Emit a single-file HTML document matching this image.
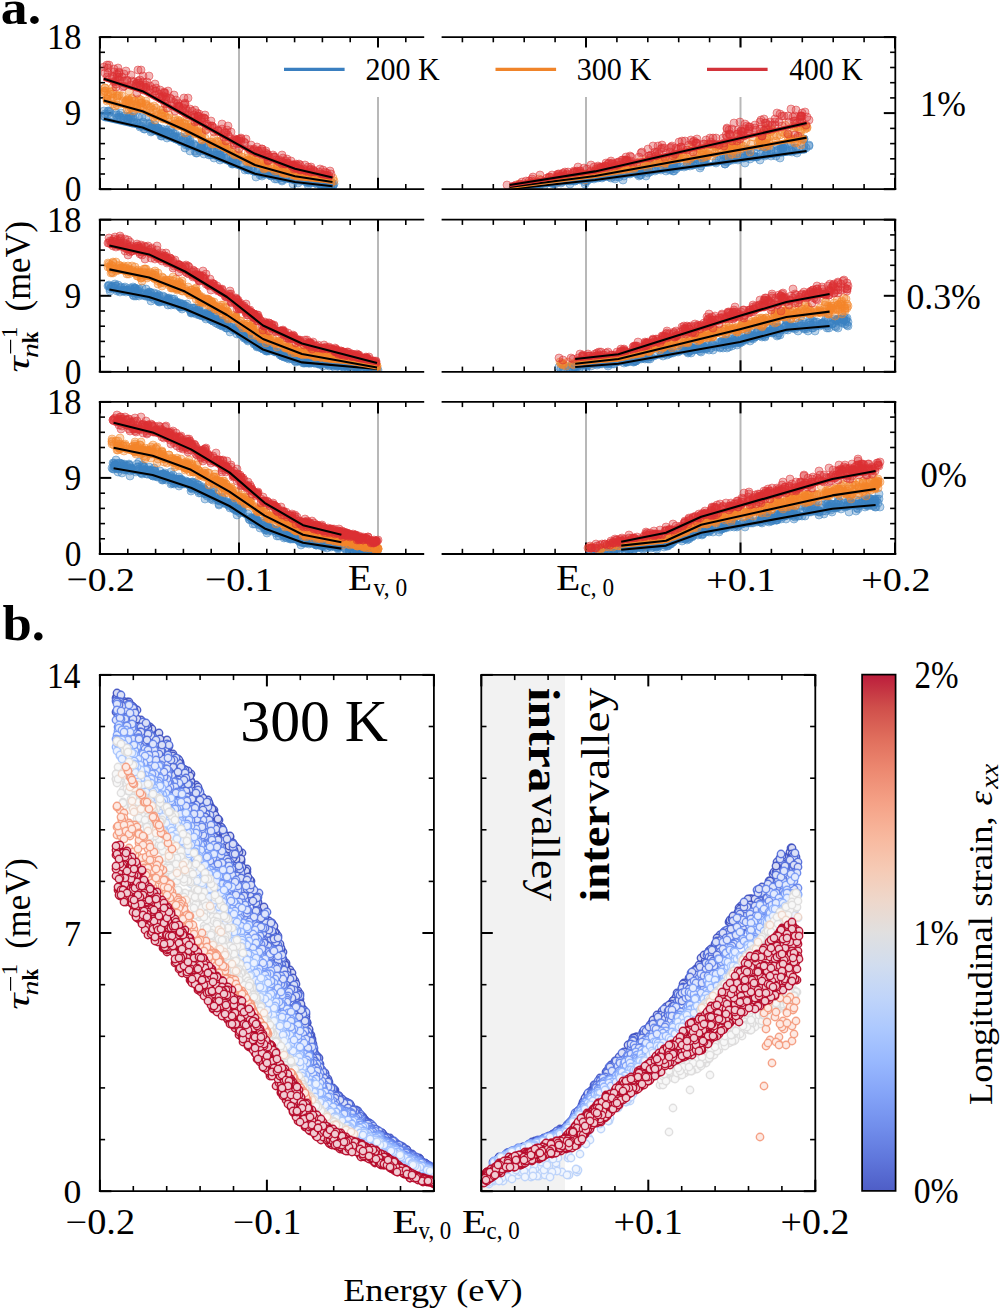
<!DOCTYPE html>
<html><head><meta charset="utf-8"><style>
html,body{margin:0;padding:0;background:#fff;width:1000px;height:1312px;overflow:hidden}
svg{display:block}
text{font-family:"Liberation Serif", serif}
</style></head><body>
<svg width="1000" height="1312" viewBox="0 0 1000 1312">
<defs><marker id="mab" markerUnits="userSpaceOnUse" markerWidth="12" markerHeight="12" refX="0" refY="0" overflow="visible"><circle r="4" fill="#3a82c2" fill-opacity=".34" stroke="#3a82c2" stroke-opacity=".5" stroke-width="1"/></marker><marker id="mao" markerUnits="userSpaceOnUse" markerWidth="12" markerHeight="12" refX="0" refY="0" overflow="visible"><circle r="4" fill="#f4852a" fill-opacity=".34" stroke="#f4852a" stroke-opacity=".5" stroke-width="1"/></marker><marker id="mar" markerUnits="userSpaceOnUse" markerWidth="12" markerHeight="12" refX="0" refY="0" overflow="visible"><circle r="4" fill="#dc2f33" fill-opacity=".34" stroke="#dc2f33" stroke-opacity=".5" stroke-width="1"/></marker><marker id="mb0" markerUnits="userSpaceOnUse" markerWidth="12" markerHeight="12" refX="0" refY="0" overflow="visible"><circle r="3.7" stroke="#3b4cc0" stroke-opacity=".9" stroke-width="1.4" fill="#d8dbf2"/></marker><marker id="mb1" markerUnits="userSpaceOnUse" markerWidth="12" markerHeight="12" refX="0" refY="0" overflow="visible"><circle r="3.7" stroke="#4e68d8" stroke-opacity=".9" stroke-width="1.4" fill="#dce1f7"/></marker><marker id="mb2" markerUnits="userSpaceOnUse" markerWidth="12" markerHeight="12" refX="0" refY="0" overflow="visible"><circle r="3.7" stroke="#6282ea" stroke-opacity=".9" stroke-width="1.4" fill="#e0e6fb"/></marker><marker id="mb3" markerUnits="userSpaceOnUse" markerWidth="12" markerHeight="12" refX="0" refY="0" overflow="visible"><circle r="3.7" stroke="#779af7" stroke-opacity=".9" stroke-width="1.4" fill="#e4ebfd"/></marker><marker id="mb4" markerUnits="userSpaceOnUse" markerWidth="12" markerHeight="12" refX="0" refY="0" overflow="visible"><circle r="3.7" stroke="#8db0fe" stroke-opacity=".9" stroke-width="1.4" fill="#e8efff"/></marker><marker id="mb5" markerUnits="userSpaceOnUse" markerWidth="12" markerHeight="12" refX="0" refY="0" overflow="visible"><circle r="3.7" stroke="#a3c2fe" stroke-opacity=".9" stroke-width="1.4" fill="#edf3ff"/></marker><marker id="mb6" markerUnits="userSpaceOnUse" markerWidth="12" markerHeight="12" refX="0" refY="0" overflow="visible"><circle r="3.7" stroke="#b9d0f9" stroke-opacity=".9" stroke-width="1.4" fill="#f1f6fe"/></marker><marker id="mb7" markerUnits="userSpaceOnUse" markerWidth="12" markerHeight="12" refX="0" refY="0" overflow="visible"><circle r="3.7" stroke="#ccd9ed" stroke-opacity=".9" stroke-width="1.4" fill="#f5f7fb"/></marker><marker id="mb8" markerUnits="userSpaceOnUse" markerWidth="12" markerHeight="12" refX="0" refY="0" overflow="visible"><circle r="3.7" stroke="#dddcdc" stroke-opacity=".9" stroke-width="1.4" fill="#f8f8f8"/></marker><marker id="mb9" markerUnits="userSpaceOnUse" markerWidth="12" markerHeight="12" refX="0" refY="0" overflow="visible"><circle r="3.7" stroke="#ecd3c5" stroke-opacity=".9" stroke-width="1.4" fill="#fbf6f3"/></marker><marker id="mb12" markerUnits="userSpaceOnUse" markerWidth="12" markerHeight="12" refX="0" refY="0" overflow="visible"><circle r="3.7" stroke="#f4987a" stroke-opacity=".9" stroke-width="1.4" fill="#fdeae4"/></marker><marker id="mb16" markerUnits="userSpaceOnUse" markerWidth="12" markerHeight="12" refX="0" refY="0" overflow="visible"><circle r="3.7" stroke="#b40426" stroke-opacity=".9" stroke-width="1.4" fill="#f0cdd4"/></marker></defs>
<defs>
<clipPath id="cL0"><rect x="99.8" y="37.1" width="324.4" height="152.1"/></clipPath>
<clipPath id="cR0"><rect x="441.6" y="37.1" width="453.69999999999993" height="152.1"/></clipPath>
<clipPath id="cL1"><rect x="99.8" y="219.7" width="324.4" height="152.10000000000002"/></clipPath>
<clipPath id="cR1"><rect x="441.6" y="219.7" width="453.69999999999993" height="152.10000000000002"/></clipPath>
<clipPath id="cL2"><rect x="99.8" y="401.9" width="324.4" height="152.10000000000002"/></clipPath>
<clipPath id="cR2"><rect x="441.6" y="401.9" width="453.69999999999993" height="152.10000000000002"/></clipPath>
</defs>
<line x1="239" y1="37.1" x2="239" y2="189.2" stroke="#b8b8b8" stroke-width="2.0"/>
<line x1="378" y1="37.1" x2="378" y2="189.2" stroke="#b8b8b8" stroke-width="2.0"/>
<line x1="586" y1="37.1" x2="586" y2="189.2" stroke="#b8b8b8" stroke-width="2.0"/>
<line x1="740.5" y1="37.1" x2="740.5" y2="189.2" stroke="#b8b8b8" stroke-width="2.0"/>
<line x1="100" y1="37.1" x2="100" y2="48.6" stroke="#000" stroke-width="2.0"/>
<line x1="100" y1="189.2" x2="100" y2="177.7" stroke="#000" stroke-width="2.0"/>
<line x1="127.8" y1="37.1" x2="127.8" y2="42.3" stroke="#000" stroke-width="1.6"/>
<line x1="127.8" y1="189.2" x2="127.8" y2="184" stroke="#000" stroke-width="1.6"/>
<line x1="155.6" y1="37.1" x2="155.6" y2="42.3" stroke="#000" stroke-width="1.6"/>
<line x1="155.6" y1="189.2" x2="155.6" y2="184" stroke="#000" stroke-width="1.6"/>
<line x1="183.4" y1="37.1" x2="183.4" y2="42.3" stroke="#000" stroke-width="1.6"/>
<line x1="183.4" y1="189.2" x2="183.4" y2="184" stroke="#000" stroke-width="1.6"/>
<line x1="211.2" y1="37.1" x2="211.2" y2="42.3" stroke="#000" stroke-width="1.6"/>
<line x1="211.2" y1="189.2" x2="211.2" y2="184" stroke="#000" stroke-width="1.6"/>
<line x1="239" y1="37.1" x2="239" y2="48.6" stroke="#000" stroke-width="2.0"/>
<line x1="239" y1="189.2" x2="239" y2="177.7" stroke="#000" stroke-width="2.0"/>
<line x1="266.8" y1="37.1" x2="266.8" y2="42.3" stroke="#000" stroke-width="1.6"/>
<line x1="266.8" y1="189.2" x2="266.8" y2="184" stroke="#000" stroke-width="1.6"/>
<line x1="294.6" y1="37.1" x2="294.6" y2="42.3" stroke="#000" stroke-width="1.6"/>
<line x1="294.6" y1="189.2" x2="294.6" y2="184" stroke="#000" stroke-width="1.6"/>
<line x1="322.4" y1="37.1" x2="322.4" y2="42.3" stroke="#000" stroke-width="1.6"/>
<line x1="322.4" y1="189.2" x2="322.4" y2="184" stroke="#000" stroke-width="1.6"/>
<line x1="350.2" y1="37.1" x2="350.2" y2="42.3" stroke="#000" stroke-width="1.6"/>
<line x1="350.2" y1="189.2" x2="350.2" y2="184" stroke="#000" stroke-width="1.6"/>
<line x1="378" y1="37.1" x2="378" y2="48.6" stroke="#000" stroke-width="2.0"/>
<line x1="378" y1="189.2" x2="378" y2="177.7" stroke="#000" stroke-width="2.0"/>
<line x1="405.8" y1="37.1" x2="405.8" y2="42.3" stroke="#000" stroke-width="1.6"/>
<line x1="405.8" y1="189.2" x2="405.8" y2="184" stroke="#000" stroke-width="1.6"/>
<line x1="99.8" y1="189.2" x2="111.3" y2="189.2" stroke="#000" stroke-width="2.0"/>
<line x1="99.8" y1="174" x2="105" y2="174" stroke="#000" stroke-width="1.6"/>
<line x1="99.8" y1="158.8" x2="105" y2="158.8" stroke="#000" stroke-width="1.6"/>
<line x1="99.8" y1="143.6" x2="105" y2="143.6" stroke="#000" stroke-width="1.6"/>
<line x1="99.8" y1="128.4" x2="105" y2="128.4" stroke="#000" stroke-width="1.6"/>
<line x1="99.8" y1="113.1" x2="111.3" y2="113.1" stroke="#000" stroke-width="2.0"/>
<line x1="99.8" y1="97.9" x2="105" y2="97.9" stroke="#000" stroke-width="1.6"/>
<line x1="99.8" y1="82.7" x2="105" y2="82.7" stroke="#000" stroke-width="1.6"/>
<line x1="99.8" y1="67.5" x2="105" y2="67.5" stroke="#000" stroke-width="1.6"/>
<line x1="99.8" y1="52.3" x2="105" y2="52.3" stroke="#000" stroke-width="1.6"/>
<line x1="99.8" y1="37.1" x2="111.3" y2="37.1" stroke="#000" stroke-width="2.0"/>
<line x1="462.4" y1="37.1" x2="462.4" y2="42.3" stroke="#000" stroke-width="1.6"/>
<line x1="462.4" y1="189.2" x2="462.4" y2="184" stroke="#000" stroke-width="1.6"/>
<line x1="493.3" y1="37.1" x2="493.3" y2="42.3" stroke="#000" stroke-width="1.6"/>
<line x1="493.3" y1="189.2" x2="493.3" y2="184" stroke="#000" stroke-width="1.6"/>
<line x1="524.2" y1="37.1" x2="524.2" y2="42.3" stroke="#000" stroke-width="1.6"/>
<line x1="524.2" y1="189.2" x2="524.2" y2="184" stroke="#000" stroke-width="1.6"/>
<line x1="555.1" y1="37.1" x2="555.1" y2="42.3" stroke="#000" stroke-width="1.6"/>
<line x1="555.1" y1="189.2" x2="555.1" y2="184" stroke="#000" stroke-width="1.6"/>
<line x1="586" y1="37.1" x2="586" y2="48.6" stroke="#000" stroke-width="2.0"/>
<line x1="586" y1="189.2" x2="586" y2="177.7" stroke="#000" stroke-width="2.0"/>
<line x1="616.9" y1="37.1" x2="616.9" y2="42.3" stroke="#000" stroke-width="1.6"/>
<line x1="616.9" y1="189.2" x2="616.9" y2="184" stroke="#000" stroke-width="1.6"/>
<line x1="647.8" y1="37.1" x2="647.8" y2="42.3" stroke="#000" stroke-width="1.6"/>
<line x1="647.8" y1="189.2" x2="647.8" y2="184" stroke="#000" stroke-width="1.6"/>
<line x1="678.7" y1="37.1" x2="678.7" y2="42.3" stroke="#000" stroke-width="1.6"/>
<line x1="678.7" y1="189.2" x2="678.7" y2="184" stroke="#000" stroke-width="1.6"/>
<line x1="709.6" y1="37.1" x2="709.6" y2="42.3" stroke="#000" stroke-width="1.6"/>
<line x1="709.6" y1="189.2" x2="709.6" y2="184" stroke="#000" stroke-width="1.6"/>
<line x1="740.5" y1="37.1" x2="740.5" y2="48.6" stroke="#000" stroke-width="2.0"/>
<line x1="740.5" y1="189.2" x2="740.5" y2="177.7" stroke="#000" stroke-width="2.0"/>
<line x1="771.4" y1="37.1" x2="771.4" y2="42.3" stroke="#000" stroke-width="1.6"/>
<line x1="771.4" y1="189.2" x2="771.4" y2="184" stroke="#000" stroke-width="1.6"/>
<line x1="802.3" y1="37.1" x2="802.3" y2="42.3" stroke="#000" stroke-width="1.6"/>
<line x1="802.3" y1="189.2" x2="802.3" y2="184" stroke="#000" stroke-width="1.6"/>
<line x1="833.2" y1="37.1" x2="833.2" y2="42.3" stroke="#000" stroke-width="1.6"/>
<line x1="833.2" y1="189.2" x2="833.2" y2="184" stroke="#000" stroke-width="1.6"/>
<line x1="864.1" y1="37.1" x2="864.1" y2="42.3" stroke="#000" stroke-width="1.6"/>
<line x1="864.1" y1="189.2" x2="864.1" y2="184" stroke="#000" stroke-width="1.6"/>
<line x1="895" y1="37.1" x2="895" y2="48.6" stroke="#000" stroke-width="2.0"/>
<line x1="895" y1="189.2" x2="895" y2="177.7" stroke="#000" stroke-width="2.0"/>
<line x1="895.3" y1="189.2" x2="883.8" y2="189.2" stroke="#000" stroke-width="2.0"/>
<line x1="895.3" y1="174" x2="890.1" y2="174" stroke="#000" stroke-width="1.6"/>
<line x1="895.3" y1="158.8" x2="890.1" y2="158.8" stroke="#000" stroke-width="1.6"/>
<line x1="895.3" y1="143.6" x2="890.1" y2="143.6" stroke="#000" stroke-width="1.6"/>
<line x1="895.3" y1="128.4" x2="890.1" y2="128.4" stroke="#000" stroke-width="1.6"/>
<line x1="895.3" y1="113.1" x2="883.8" y2="113.1" stroke="#000" stroke-width="2.0"/>
<line x1="895.3" y1="97.9" x2="890.1" y2="97.9" stroke="#000" stroke-width="1.6"/>
<line x1="895.3" y1="82.7" x2="890.1" y2="82.7" stroke="#000" stroke-width="1.6"/>
<line x1="895.3" y1="67.5" x2="890.1" y2="67.5" stroke="#000" stroke-width="1.6"/>
<line x1="895.3" y1="52.3" x2="890.1" y2="52.3" stroke="#000" stroke-width="1.6"/>
<line x1="895.3" y1="37.1" x2="883.8" y2="37.1" stroke="#000" stroke-width="2.0"/>
<g clip-path="url(#cL0)">
<polyline points="179,136 228,157 117,118 120,117 202,148 249,170 237,159 171,130 131,122 238,161 190,144 152,127 203,150 173,133 265,174 306,180 171,134 279,177 217,152 236,163 176,139 209,155 322,186 266,174 333,185 258,170 143,122 134,120 194,145 231,162 293,179 187,144 325,184 158,128 240,165 189,143 324,185 260,175 312,182 195,151 128,120 152,128 183,140 127,119 110,112 162,134 188,139 212,150 124,116 295,180 109,111 229,157 330,183 189,146 282,181 156,130 332,183 275,179 224,156 164,132 325,188 325,183 155,128 248,168 298,183 124,118 314,182 145,129 181,137 197,153 271,175 313,182 138,117 185,148 134,112 226,158 204,146 162,136 160,132 134,122 186,145 201,147 220,153 146,117 144,129 179,138 232,162 161,132 282,180 315,183 245,170 208,152 214,151 322,185 233,158 132,123 121,118 285,178 140,123 308,185 155,125 333,186 141,126 149,124 271,173 108,114 248,170 286,179 128,119 166,132 202,144 139,125 236,164 263,174 121,113 123,120 119,115 232,164 166,130 129,117 116,115 279,176 220,155 108,111 231,161 129,116 204,154 221,157 331,187 251,167 184,140 275,176 142,117 259,171 160,131 207,148 326,182 327,185 186,139 220,157 221,155 196,146 174,136 277,174 269,174 331,186 271,176 310,183 274,175 221,158 290,178 262,176 157,128 128,119 233,164 217,149 277,179 119,117 162,129 151,126 329,186 262,173 247,169 163,133 174,137 166,133 264,174 211,155 131,118 320,181 293,178 152,128 153,129 324,184 293,184 157,130 216,155 208,151 137,123 104,111 298,178 312,180 190,151 187,136 168,132 170,134 162,131 190,140 308,181 321,186 270,172 278,176 170,128 213,152 173,137 256,177 233,163 152,126 219,155 208,146 148,123 159,129 236,161 200,151 191,145 328,184 220,160 167,138 196,153 306,182 268,173 104,116 318,182 161,136 140,127 271,176 281,173 158,128 253,171 251,169 130,116 194,144 243,165 326,184 308,183 326,184 175,134 201,148 258,171 201,149 150,124 151,132 176,137 280,178 324,185 200,148 323,183 329,183 116,113 308,182 334,184 320,184 111,117 181,142 105,114 133,117 152,131 204,146 190,142 311,180 292,179 317,184 277,175 325,185 165,133 105,117 316,182 214,158 324,185 218,155" fill="none" stroke="none" marker-start="url(#mab)" marker-mid="url(#mab)" marker-end="url(#mab)"/>
<polyline points="146,105 283,174 180,124 122,96 278,166 179,122 308,175 126,101 268,168 247,158 277,167 298,177 235,155 161,110 139,101 195,134 221,144 333,178 214,138 113,104 132,98 319,174 304,177 322,179 242,157 137,106 163,119 107,99 261,163 288,171 119,95 252,159 142,107 175,124 176,124 304,177 188,125 105,88 202,133 210,142 107,101 125,102 190,130 224,146 129,109 150,108 322,177 318,179 313,180 286,174 197,129 154,117 224,147 271,167 113,87 131,105 231,151 239,155 256,159 217,141 280,170 213,144 134,105 222,140 123,101 117,105 191,127 334,181 292,172 325,175 142,103 185,133 141,103 137,106 316,178 178,120 141,100 143,108 131,108 306,177 238,153 249,160 288,173 187,117 206,129 163,110 331,183 104,93 246,161 134,101 255,162 129,101 156,116 248,160 135,101 126,102 305,176 107,99 234,154 320,177 161,114 198,133 117,98 321,179 150,113 292,175 175,121 285,171 105,91 275,171 156,108 277,168 299,176 205,138 225,147 154,106 108,95 322,178 180,121 314,179 264,168 298,179 302,178 175,119 248,154 110,92 319,178 264,164 265,166 188,128 293,173 315,178 129,91 292,173 295,175 127,103 151,107 169,115 189,131 301,171 111,100 184,123 228,147 293,170 104,92 105,88 218,142 184,127 164,113 266,166 129,103 265,166 249,161 310,175 309,176 312,177 192,127 227,149 278,171 140,108 257,163 283,172 133,111 148,106 266,165 161,116 225,145 329,179 128,99 331,181 273,169 129,100 194,127 264,165 250,161 197,132 314,180 201,132 271,165 301,178 252,163 127,100 285,172 202,139 248,162 146,104 284,173 113,94 141,103 127,110 229,149 295,177 199,131 195,131 132,99 167,118 107,99 185,124 156,112 155,120 195,130 291,172 212,142 186,127 293,173 231,152 297,177 191,124 202,135 169,118 174,124 256,163 319,178 313,178 136,104 324,181 162,113 283,170 139,99 310,179 284,173 298,178 264,169 308,177 165,116 118,96 137,109 303,171 212,144 191,130 326,177 111,94 262,163 222,146 311,174 182,123 189,131 153,110 202,140 295,176 220,145 255,160 180,124 251,158 113,98 115,106 105,91 256,158 314,179 265,167 261,164 280,167 146,101 255,162 294,174 174,124 178,126 117,96 113,91 316,176" fill="none" stroke="none" marker-start="url(#mao)" marker-mid="url(#mao)" marker-end="url(#mao)"/>
<polyline points="107,77 331,174 199,114 139,83 262,149 305,165 108,73 147,90 283,163 123,87 268,161 327,173 107,65 122,77 273,155 118,68 237,144 288,163 253,151 286,164 285,164 329,176 295,168 296,164 175,111 262,151 311,169 202,122 292,165 292,166 236,140 262,149 184,105 150,86 319,172 211,121 163,96 124,86 282,161 308,167 214,128 146,88 188,115 138,70 190,109 140,80 184,98 304,169 235,139 323,170 293,165 146,87 116,84 323,175 119,80 326,175 234,143 195,122 141,70 113,77 185,103 115,81 268,160 137,93 321,174 279,162 179,106 143,82 137,83 149,76 155,84 136,86 126,71 208,126 294,169 155,91 269,157 166,99 140,85 143,76 177,104 117,77 258,151 164,92 188,98 127,80 311,167 330,171 183,108 226,133 205,119 136,84 282,162 124,81 218,130 267,154 239,141 198,116 117,74 304,170 108,68 166,100 296,168 241,138 207,124 293,166 178,106 118,80 324,176 228,126 156,91 293,165 265,155 237,140 266,151 114,69 218,131 198,117 241,141 276,160 295,165 298,168 195,110 160,97 205,115 292,166 116,87 162,97 250,150 204,118 109,65 320,169 291,161 165,104 167,108 162,98 204,118 254,150 241,139 212,126 138,81 198,116 160,90 245,143 254,149 231,132 212,126 222,129 239,139 159,94 218,131 282,155 119,73 194,117 274,157 275,157 182,111 300,165 224,133 214,132 268,155 105,73 239,149 201,119 306,171 210,126 172,106 178,103 300,170 174,103 237,141 179,107 298,166 314,171 234,145 228,135 224,137 187,111 185,104 127,81 197,121 327,175 206,130 226,141 143,90 222,124 311,172 309,173 140,85 147,82 250,149 251,145 286,161 299,164 258,151 165,93 227,130 132,81 279,160 225,132 246,139 179,107 186,109 313,170 185,113 310,170 326,177 114,72 301,170 174,95 326,179 194,115 155,95 287,159 144,87 171,99 131,85 119,77 295,167 170,98 112,76 267,157 166,97 297,168 141,88 325,172 324,175 134,82 164,93 161,99 153,89 229,137 282,164 176,100 124,74 257,147 234,140 119,72 156,88 197,113 283,158 168,91 257,153 266,153 300,169 131,75 274,157 150,90 192,111 146,85 236,140 262,155 104,67 114,82 244,142 287,163 315,172 195,117 295,167 202,118" fill="none" stroke="none" marker-start="url(#mar)" marker-mid="url(#mar)" marker-end="url(#mar)"/>
<polyline points="103.8,118.8 142.5,127.5 185,145 255,173.8 295,182 332.5,186.2" fill="none" stroke="#3a82c2" stroke-width="4.2" stroke-linejoin="round"/>
<polyline points="103.8,118.8 142.5,127.5 185,145 255,173.8 295,182 332.5,186.2" fill="none" stroke="#000" stroke-width="2.1" stroke-linejoin="round"/>
<polyline points="103.8,100.5 142.5,111.2 185,130 255,165 295,176.2 332.5,182" fill="none" stroke="#f4852a" stroke-width="4.2" stroke-linejoin="round"/>
<polyline points="103.8,100.5 142.5,111.2 185,130 255,165 295,176.2 332.5,182" fill="none" stroke="#000" stroke-width="2.1" stroke-linejoin="round"/>
<polyline points="103.8,78.8 142.5,91.2 185,115 255,153.8 295,168.8 332.5,177.5" fill="none" stroke="#dc2f33" stroke-width="4.2" stroke-linejoin="round"/>
<polyline points="103.8,78.8 142.5,91.2 185,115 255,153.8 295,168.8 332.5,177.5" fill="none" stroke="#000" stroke-width="2.1" stroke-linejoin="round"/>
</g>
<g clip-path="url(#cR0)">
<polyline points="737,158 674,171 738,160 572,180 536,186 700,168 723,161 647,171 598,178 731,156 611,178 645,171 783,147 767,149 754,152 677,163 771,150 600,177 624,173 566,180 679,167 517,187 751,150 704,160 684,167 515,188 725,164 615,179 576,178 629,173 723,155 760,160 749,156 636,171 701,166 535,184 721,158 797,153 687,163 553,183 585,184 534,185 594,179 776,151 667,169 665,164 670,170 585,182 672,169 555,184 676,161 804,149 719,160 716,161 706,159 630,174 783,148 673,167 729,161 695,161 658,168 700,162 778,151 615,175 702,162 691,161 553,184 778,150 743,156 744,158 771,154 704,161 575,181 651,166 602,178 784,145 780,158 587,181 642,171 570,184 748,150 561,183 764,147 616,173 673,165 524,188 763,151 736,154 578,179 765,156 519,188 781,149 532,185 657,165 583,179 716,163 639,171 536,183 648,173 646,167 640,169 537,185 732,158 618,174 695,159 756,157 757,157 624,176 781,146 754,156 690,166 661,170 641,175 650,164 609,172 674,166 705,162 630,172 745,163 792,152 553,183 647,168 667,167 787,151 617,174 740,156 659,168 726,155 747,151 766,154 642,171 781,149 792,148 726,156 734,158 537,185 640,175 677,159 704,161 745,156 558,182 557,182 666,171 728,159 639,172 754,157 633,172 623,180 796,148 728,158 649,169 557,182 544,186 796,148 580,179 584,176 612,174 643,172 676,169 747,149 725,164 704,159 791,144 615,177 669,167 724,157 809,145 778,146 620,175 639,176 785,147 674,163 783,148 758,147 592,175 526,189 804,139 748,155 587,180 791,150 783,149 761,154 533,187 563,178 635,172 575,181 590,179 687,166 646,176 603,177 783,151 619,177 536,187 649,166 727,162 806,148 743,158 804,145 655,171 513,188 793,149 611,174 567,180 539,187 637,174 804,139 776,156 609,177 750,159 694,161 733,160 605,175 619,173 693,165 605,175 694,159 767,153 676,165 770,148 771,156 570,181 647,169 693,165 809,146 673,171 580,180 650,172 642,172 522,187 590,177" fill="none" stroke="none" marker-start="url(#mab)" marker-mid="url(#mab)" marker-end="url(#mab)"/>
<polyline points="622,170 557,178 777,136 718,146 536,184 628,167 726,147 708,155 595,171 730,148 549,181 686,159 753,137 677,157 664,167 685,155 769,143 534,185 702,152 605,176 767,138 704,151 734,147 737,150 709,145 578,177 692,145 618,169 616,168 665,163 631,164 616,173 540,183 684,157 649,163 702,155 634,169 637,166 762,143 712,145 795,143 669,157 539,182 591,175 703,151 733,151 601,172 600,174 559,178 729,157 788,137 738,136 628,167 703,148 790,139 763,133 657,159 605,172 558,182 734,145 770,132 796,127 627,170 794,128 683,154 556,181 621,165 793,126 803,139 539,179 673,158 760,134 548,181 760,142 677,154 726,147 708,154 585,174 797,138 682,152 558,179 697,155 678,156 650,160 660,161 780,135 785,125 761,140 736,145 619,167 692,157 708,144 712,150 613,174 806,126 767,138 766,128 663,159 556,180 580,173 576,176 805,129 761,146 789,135 723,147 760,136 743,146 732,145 574,175 750,152 764,144 760,144 630,164 567,179 760,141 597,170 610,176 741,145 759,140 769,146 556,182 712,156 762,140 766,140 715,153 646,163 719,150 739,144 729,147 535,183 592,175 606,167 716,147 800,136 807,128 694,153 797,142 646,163 701,150 794,139 730,142 800,130 729,150 733,149 687,162 772,130 702,158 746,142 532,183 785,134 710,152 751,144 624,168 665,163 726,146 802,140 737,146 769,137 644,162 584,174 587,175 655,161 801,131 597,172 670,157 655,161 619,168 772,130 758,143 679,156 732,147 791,139 626,169 535,184 705,157 612,167 700,153 765,147 632,171 737,154 658,157 657,163 645,162 693,148 787,133 663,159 776,141 707,156 774,136 732,154 687,150 768,145 782,132 717,146 547,183 602,175 558,181 648,170 549,178 576,178 543,183 534,182 565,178 639,162 604,172 765,143 529,183 666,161 721,150 690,159 606,167 801,145 807,127 675,157 741,149 660,160 596,174 597,176 597,174 804,126 798,127 545,182 519,184 619,172 585,180 536,186 646,160 562,181 581,176 790,140" fill="none" stroke="none" marker-start="url(#mao)" marker-mid="url(#mao)" marker-end="url(#mao)"/>
<polyline points="681,147 704,144 601,168 741,131 806,125 766,123 574,171 653,146 760,129 696,143 637,163 724,143 612,163 711,142 598,172 741,131 547,178 659,154 742,132 679,142 789,122 807,117 657,152 749,129 805,112 794,121 732,129 618,165 522,182 741,135 765,123 760,122 791,109 768,125 719,145 541,180 627,161 526,181 766,129 600,168 565,172 558,176 775,122 631,161 579,177 514,186 566,175 675,154 716,144 762,136 772,125 775,125 782,116 740,122 630,162 671,147 727,129 809,120 622,160 784,116 639,157 762,136 563,174 650,158 802,113 697,139 662,148 557,177 626,161 743,132 589,173 750,127 614,164 601,167 802,122 713,144 631,157 577,172 685,141 756,130 561,176 672,146 559,174 529,181 606,163 623,160 788,116 729,130 578,167 727,128 605,166 573,173 649,156 615,166 693,142 625,160 755,128 655,152 724,146 730,134 609,163 676,148 558,174 608,164 568,172 795,116 549,177 780,114 777,113 611,161 779,122 793,117 747,126 599,167 648,149 591,165 691,140 697,143 687,150 764,131 749,127 591,171 713,138 532,181 577,171 796,110 734,123 681,147 798,136 603,167 598,166 801,117 661,149 584,168 507,185 704,144 575,172 580,171 693,152 609,168 710,144 729,134 800,119 540,175 563,173 802,116 665,158 727,137 567,174 764,119 801,116 706,140 737,134 694,141 550,177 732,141 516,185 726,135 801,116 800,122 662,145 748,133 730,135 603,168 532,179 552,175 797,123 670,152 682,141 651,155 755,125 740,139 596,169 768,130 775,119 520,184 745,129 738,130 619,162 795,135 580,173 664,148 617,163 557,175 738,134 642,152 594,167 581,173 655,154 764,130 710,138 761,120 558,177 595,172 564,176 666,153 745,124 627,160 737,141 633,164 618,162 770,122 801,116 744,136 716,138 580,171 782,126 689,145 649,156 563,177 656,156 605,166 681,149 673,156 795,121 723,138 533,177 678,149 630,156 670,148 658,146 626,157 574,172 696,143 587,169 641,153 612,164 749,131 788,134 626,160" fill="none" stroke="none" marker-start="url(#mar)" marker-mid="url(#mar)" marker-end="url(#mar)"/>
<polyline points="509.5,189 595,180 806.6,151" fill="none" stroke="#3a82c2" stroke-width="4.2" stroke-linejoin="round"/>
<polyline points="509.5,189 595,180 806.6,151" fill="none" stroke="#000" stroke-width="2.1" stroke-linejoin="round"/>
<polyline points="509.5,187 595,176 806.6,137.6" fill="none" stroke="#f4852a" stroke-width="4.2" stroke-linejoin="round"/>
<polyline points="509.5,187 595,176 806.6,137.6" fill="none" stroke="#000" stroke-width="2.1" stroke-linejoin="round"/>
<polyline points="509.5,185 595,171.4 806.6,123" fill="none" stroke="#dc2f33" stroke-width="4.2" stroke-linejoin="round"/>
<polyline points="509.5,185 595,171.4 806.6,123" fill="none" stroke="#000" stroke-width="2.1" stroke-linejoin="round"/>
</g>
<line x1="98.8" y1="37.1" x2="424.2" y2="37.1" stroke="#000" stroke-width="1.8"/>
<line x1="98.8" y1="189.2" x2="424.2" y2="189.2" stroke="#000" stroke-width="1.8"/>
<line x1="99.8" y1="37.1" x2="99.8" y2="189.2" stroke="#000" stroke-width="1.8"/>
<line x1="441.6" y1="37.1" x2="896.3" y2="37.1" stroke="#000" stroke-width="1.8"/>
<line x1="441.6" y1="189.2" x2="896.3" y2="189.2" stroke="#000" stroke-width="1.8"/>
<line x1="895.3" y1="37.1" x2="895.3" y2="189.2" stroke="#000" stroke-width="1.8"/>
<line x1="239" y1="219.7" x2="239" y2="371.8" stroke="#b8b8b8" stroke-width="2.0"/>
<line x1="378" y1="219.7" x2="378" y2="371.8" stroke="#b8b8b8" stroke-width="2.0"/>
<line x1="586" y1="219.7" x2="586" y2="371.8" stroke="#b8b8b8" stroke-width="2.0"/>
<line x1="740.5" y1="219.7" x2="740.5" y2="371.8" stroke="#b8b8b8" stroke-width="2.0"/>
<line x1="100" y1="219.7" x2="100" y2="231.2" stroke="#000" stroke-width="2.0"/>
<line x1="100" y1="371.8" x2="100" y2="360.3" stroke="#000" stroke-width="2.0"/>
<line x1="127.8" y1="219.7" x2="127.8" y2="224.9" stroke="#000" stroke-width="1.6"/>
<line x1="127.8" y1="371.8" x2="127.8" y2="366.6" stroke="#000" stroke-width="1.6"/>
<line x1="155.6" y1="219.7" x2="155.6" y2="224.9" stroke="#000" stroke-width="1.6"/>
<line x1="155.6" y1="371.8" x2="155.6" y2="366.6" stroke="#000" stroke-width="1.6"/>
<line x1="183.4" y1="219.7" x2="183.4" y2="224.9" stroke="#000" stroke-width="1.6"/>
<line x1="183.4" y1="371.8" x2="183.4" y2="366.6" stroke="#000" stroke-width="1.6"/>
<line x1="211.2" y1="219.7" x2="211.2" y2="224.9" stroke="#000" stroke-width="1.6"/>
<line x1="211.2" y1="371.8" x2="211.2" y2="366.6" stroke="#000" stroke-width="1.6"/>
<line x1="239" y1="219.7" x2="239" y2="231.2" stroke="#000" stroke-width="2.0"/>
<line x1="239" y1="371.8" x2="239" y2="360.3" stroke="#000" stroke-width="2.0"/>
<line x1="266.8" y1="219.7" x2="266.8" y2="224.9" stroke="#000" stroke-width="1.6"/>
<line x1="266.8" y1="371.8" x2="266.8" y2="366.6" stroke="#000" stroke-width="1.6"/>
<line x1="294.6" y1="219.7" x2="294.6" y2="224.9" stroke="#000" stroke-width="1.6"/>
<line x1="294.6" y1="371.8" x2="294.6" y2="366.6" stroke="#000" stroke-width="1.6"/>
<line x1="322.4" y1="219.7" x2="322.4" y2="224.9" stroke="#000" stroke-width="1.6"/>
<line x1="322.4" y1="371.8" x2="322.4" y2="366.6" stroke="#000" stroke-width="1.6"/>
<line x1="350.2" y1="219.7" x2="350.2" y2="224.9" stroke="#000" stroke-width="1.6"/>
<line x1="350.2" y1="371.8" x2="350.2" y2="366.6" stroke="#000" stroke-width="1.6"/>
<line x1="378" y1="219.7" x2="378" y2="231.2" stroke="#000" stroke-width="2.0"/>
<line x1="378" y1="371.8" x2="378" y2="360.3" stroke="#000" stroke-width="2.0"/>
<line x1="405.8" y1="219.7" x2="405.8" y2="224.9" stroke="#000" stroke-width="1.6"/>
<line x1="405.8" y1="371.8" x2="405.8" y2="366.6" stroke="#000" stroke-width="1.6"/>
<line x1="99.8" y1="371.8" x2="111.3" y2="371.8" stroke="#000" stroke-width="2.0"/>
<line x1="99.8" y1="356.6" x2="105" y2="356.6" stroke="#000" stroke-width="1.6"/>
<line x1="99.8" y1="341.4" x2="105" y2="341.4" stroke="#000" stroke-width="1.6"/>
<line x1="99.8" y1="326.2" x2="105" y2="326.2" stroke="#000" stroke-width="1.6"/>
<line x1="99.8" y1="311" x2="105" y2="311" stroke="#000" stroke-width="1.6"/>
<line x1="99.8" y1="295.8" x2="111.3" y2="295.8" stroke="#000" stroke-width="2.0"/>
<line x1="99.8" y1="280.5" x2="105" y2="280.5" stroke="#000" stroke-width="1.6"/>
<line x1="99.8" y1="265.3" x2="105" y2="265.3" stroke="#000" stroke-width="1.6"/>
<line x1="99.8" y1="250.1" x2="105" y2="250.1" stroke="#000" stroke-width="1.6"/>
<line x1="99.8" y1="234.9" x2="105" y2="234.9" stroke="#000" stroke-width="1.6"/>
<line x1="99.8" y1="219.7" x2="111.3" y2="219.7" stroke="#000" stroke-width="2.0"/>
<line x1="462.4" y1="219.7" x2="462.4" y2="224.9" stroke="#000" stroke-width="1.6"/>
<line x1="462.4" y1="371.8" x2="462.4" y2="366.6" stroke="#000" stroke-width="1.6"/>
<line x1="493.3" y1="219.7" x2="493.3" y2="224.9" stroke="#000" stroke-width="1.6"/>
<line x1="493.3" y1="371.8" x2="493.3" y2="366.6" stroke="#000" stroke-width="1.6"/>
<line x1="524.2" y1="219.7" x2="524.2" y2="224.9" stroke="#000" stroke-width="1.6"/>
<line x1="524.2" y1="371.8" x2="524.2" y2="366.6" stroke="#000" stroke-width="1.6"/>
<line x1="555.1" y1="219.7" x2="555.1" y2="224.9" stroke="#000" stroke-width="1.6"/>
<line x1="555.1" y1="371.8" x2="555.1" y2="366.6" stroke="#000" stroke-width="1.6"/>
<line x1="586" y1="219.7" x2="586" y2="231.2" stroke="#000" stroke-width="2.0"/>
<line x1="586" y1="371.8" x2="586" y2="360.3" stroke="#000" stroke-width="2.0"/>
<line x1="616.9" y1="219.7" x2="616.9" y2="224.9" stroke="#000" stroke-width="1.6"/>
<line x1="616.9" y1="371.8" x2="616.9" y2="366.6" stroke="#000" stroke-width="1.6"/>
<line x1="647.8" y1="219.7" x2="647.8" y2="224.9" stroke="#000" stroke-width="1.6"/>
<line x1="647.8" y1="371.8" x2="647.8" y2="366.6" stroke="#000" stroke-width="1.6"/>
<line x1="678.7" y1="219.7" x2="678.7" y2="224.9" stroke="#000" stroke-width="1.6"/>
<line x1="678.7" y1="371.8" x2="678.7" y2="366.6" stroke="#000" stroke-width="1.6"/>
<line x1="709.6" y1="219.7" x2="709.6" y2="224.9" stroke="#000" stroke-width="1.6"/>
<line x1="709.6" y1="371.8" x2="709.6" y2="366.6" stroke="#000" stroke-width="1.6"/>
<line x1="740.5" y1="219.7" x2="740.5" y2="231.2" stroke="#000" stroke-width="2.0"/>
<line x1="740.5" y1="371.8" x2="740.5" y2="360.3" stroke="#000" stroke-width="2.0"/>
<line x1="771.4" y1="219.7" x2="771.4" y2="224.9" stroke="#000" stroke-width="1.6"/>
<line x1="771.4" y1="371.8" x2="771.4" y2="366.6" stroke="#000" stroke-width="1.6"/>
<line x1="802.3" y1="219.7" x2="802.3" y2="224.9" stroke="#000" stroke-width="1.6"/>
<line x1="802.3" y1="371.8" x2="802.3" y2="366.6" stroke="#000" stroke-width="1.6"/>
<line x1="833.2" y1="219.7" x2="833.2" y2="224.9" stroke="#000" stroke-width="1.6"/>
<line x1="833.2" y1="371.8" x2="833.2" y2="366.6" stroke="#000" stroke-width="1.6"/>
<line x1="864.1" y1="219.7" x2="864.1" y2="224.9" stroke="#000" stroke-width="1.6"/>
<line x1="864.1" y1="371.8" x2="864.1" y2="366.6" stroke="#000" stroke-width="1.6"/>
<line x1="895" y1="219.7" x2="895" y2="231.2" stroke="#000" stroke-width="2.0"/>
<line x1="895" y1="371.8" x2="895" y2="360.3" stroke="#000" stroke-width="2.0"/>
<line x1="895.3" y1="371.8" x2="883.8" y2="371.8" stroke="#000" stroke-width="2.0"/>
<line x1="895.3" y1="356.6" x2="890.1" y2="356.6" stroke="#000" stroke-width="1.6"/>
<line x1="895.3" y1="341.4" x2="890.1" y2="341.4" stroke="#000" stroke-width="1.6"/>
<line x1="895.3" y1="326.2" x2="890.1" y2="326.2" stroke="#000" stroke-width="1.6"/>
<line x1="895.3" y1="311" x2="890.1" y2="311" stroke="#000" stroke-width="1.6"/>
<line x1="895.3" y1="295.8" x2="883.8" y2="295.8" stroke="#000" stroke-width="2.0"/>
<line x1="895.3" y1="280.5" x2="890.1" y2="280.5" stroke="#000" stroke-width="1.6"/>
<line x1="895.3" y1="265.3" x2="890.1" y2="265.3" stroke="#000" stroke-width="1.6"/>
<line x1="895.3" y1="250.1" x2="890.1" y2="250.1" stroke="#000" stroke-width="1.6"/>
<line x1="895.3" y1="234.9" x2="890.1" y2="234.9" stroke="#000" stroke-width="1.6"/>
<line x1="895.3" y1="219.7" x2="883.8" y2="219.7" stroke="#000" stroke-width="2.0"/>
<g clip-path="url(#cL1)">
<polyline points="301,361 367,368 328,364 235,329 148,293 309,363 159,302 263,345 272,348 337,366 180,307 210,316 169,300 348,366 174,299 305,363 328,364 335,362 254,344 336,362 345,363 291,355 121,287 200,315 319,362 175,305 196,308 127,290 308,361 325,362 192,313 351,368 192,308 267,351 248,340 288,356 206,319 142,288 117,291 224,325 249,338 168,305 324,363 225,320 300,360 197,313 158,301 147,295 378,370 354,367 313,361 164,301 244,333 246,339 259,344 222,321 178,305 234,328 110,289 172,299 248,337 163,296 303,361 182,309 358,363 131,289 323,363 280,355 199,313 152,297 275,352 131,290 193,312 227,325 239,331 268,350 154,293 217,319 223,325 149,292 263,345 204,315 356,367 258,344 306,361 338,365 267,350 256,345 157,294 115,284 237,334 202,314 359,367 213,321 320,363 206,314 254,342 151,293 114,288 148,294 124,290 354,364 257,343 225,325 310,361 344,366 269,350 142,293 299,361 157,298 290,356 225,325 176,303 299,356 157,296 124,288 292,356 263,348 346,366 363,367 355,367 211,319 109,286 110,291 220,323 218,324 366,365 210,319 352,365 376,370 194,311 151,297 240,334 359,364 148,294 266,351 360,365 183,304 343,367 305,361 134,296 285,355 208,313 223,326 326,363 216,323 236,328 291,356 375,370 280,354 175,303 131,292 349,364 302,361 201,312 328,364 158,300 359,366 320,363 353,363 370,367 339,366 135,288 309,363 233,327 151,301 258,345 235,330 180,307 267,348 347,367 146,289 369,368 116,286 141,294 364,365 206,313 341,365 205,317 174,304 125,287 245,337 334,365 376,370 301,360 370,367 261,345 267,349 112,287 135,291 180,303 369,368 296,357 138,291 181,304 365,366 376,369 304,363 205,314 151,296 267,349 263,349 219,322 222,323 312,362 133,287 213,321 289,355 230,332 157,297 130,292 222,322 246,336 190,310 354,366 120,292 337,365 124,291 199,310 246,335 289,359 352,365 216,320 376,367 180,306 294,359 150,292 356,365 244,337 242,335 187,304 146,296 142,295 372,369 301,361 123,291 303,363 300,359 372,368 304,361 280,352 139,289 289,357 344,365 194,308 267,351 282,353 248,339 199,315 168,299 244,338 158,298 182,306 248,341 358,367 217,321 329,366 230,327 191,312 164,297 320,364 295,361 124,290 250,339 369,367 137,294 307,363 240,333 350,364 222,326 371,367 357,365 198,310 160,302 209,314 215,317 177,302 111,287 314,363 159,295 290,358 339,365 171,305 118,290 282,356 165,302 220,325 374,366 339,365 118,285 327,364 374,366 211,318 335,362 213,319 311,363 376,367 109,285 133,293 186,306 247,337 241,334 341,364 199,308 260,346 208,316 285,357 336,365 221,321 152,296 287,358 321,363 333,365 167,298 292,359 161,301 282,355 145,296 154,299 144,294 274,351 255,342 319,364 332,364 311,363 330,363 137,293 370,368 180,304 249,334 227,324 341,366 351,366 126,290 277,352 183,305 352,363 323,366 358,365 133,295 257,347 297,361 320,364 184,306 332,364 169,298 366,368 115,286 309,361 202,316 286,357 356,365 245,336 203,316 133,292 210,315 167,301 177,304 257,346 318,364 341,364 226,328 365,367 246,336 168,299 157,299 159,301 244,336 113,286 315,363 253,341 304,359 263,349 126,292 295,358 135,289 343,364 176,303 240,334 208,315 303,360 137,291 319,362 312,362 359,367 364,366 227,328 237,330 218,320 259,347 263,348 130,288 346,365 279,353 235,329 305,361 282,356 227,328 269,351 185,306 191,313 305,362 361,364 157,297 243,336 189,308 211,320 195,311 333,366 138,290 229,326 314,363 149,297 350,366 259,346 355,366 266,349 137,293 301,360 236,330 168,300 248,338 330,365 335,364 308,359 269,348 135,288 303,360 242,334 266,348 182,307 242,335 139,296 209,317 349,366 375,364 177,303 377,370 327,364 155,297 274,351 134,289 136,296 120,288 367,368 296,358 284,357 159,296 369,367 335,368 309,363 345,368 321,364 324,363 336,365 261,348 199,312 168,300 197,311 215,317 211,314 108,286 170,302 300,360 244,336 209,315 347,364 300,359 296,362 254,343 216,319 318,361 270,348 196,314 208,315 359,366 287,354 233,330 194,308 175,301" fill="none" stroke="none" marker-start="url(#mab)" marker-mid="url(#mab)" marker-end="url(#mab)"/>
<polyline points="349,361 198,296 377,369 155,275 155,273 219,307 220,307 172,288 241,325 195,293 377,366 123,267 334,360 266,343 111,269 126,268 209,305 306,353 270,338 374,365 120,266 356,364 350,361 188,287 274,343 261,334 261,336 257,333 370,366 252,331 364,363 124,269 116,271 211,307 298,353 266,339 318,355 212,305 325,356 361,362 241,321 215,307 359,362 144,273 297,351 245,326 330,357 327,358 108,263 315,357 279,341 333,362 193,295 261,339 176,287 348,361 296,351 315,356 135,273 328,355 137,276 128,266 133,272 287,347 218,309 173,284 301,352 142,277 187,291 196,291 341,361 357,364 229,318 178,288 244,324 375,367 211,301 141,278 308,352 247,328 228,319 358,362 368,363 344,358 376,364 209,302 166,281 161,283 305,350 209,300 264,334 207,305 127,274 373,366 203,301 268,339 223,311 228,312 260,335 201,298 348,361 253,327 119,265 211,302 329,358 285,345 120,269 277,343 228,314 328,357 301,354 285,343 260,333 252,325 135,273 111,265 343,360 171,288 189,292 263,339 374,363 116,262 213,305 320,357 312,355 167,282 108,267 280,342 306,354 269,341 161,281 202,297 264,336 311,352 134,272 347,359 185,289 177,290 366,363 162,280 351,359 112,266 182,287 140,272 176,288 250,330 303,355 260,332 197,293 135,267 348,359 253,330 203,303 277,343 373,365 182,284 148,276 134,272 340,359 235,317 199,302 369,363 162,286 337,360 310,355 136,273 303,354 311,352 360,365 327,356 255,330 340,359 223,305 130,272 304,353 226,313 328,357 181,287 145,269 148,275 287,348 364,362 123,268 335,359 119,270 147,278 325,355 180,283 232,318 246,328 375,366 193,293 221,305 345,360 305,353 164,283 269,339 331,359 372,365 303,352 283,345 357,364 285,348 263,338 223,313 206,300 223,315 113,262 215,309 173,277 362,364 124,266 334,358 323,355 213,304 340,357 268,337 147,275 306,351 236,317 360,364 222,311 359,363 201,299 196,299 302,352 363,363 138,273 276,344 142,275 154,278 247,324 266,339 179,282 353,362 166,280 215,306 215,309 352,365 372,364 292,350 347,360 297,352 156,277 292,349 225,312 178,285 196,291 187,291 321,355 347,361 152,277 251,328 173,288 311,355 177,285 140,274 188,293 162,277 292,353 182,281 273,339 158,284 152,274 285,347 138,273 173,287 304,353 234,316 147,273 319,355 294,349 293,349 286,348 144,272 212,302 257,336 197,293 341,358 321,357 140,273 195,294 253,328 323,355 194,292 208,299 149,273 200,300 247,326 295,353 341,360 182,291 324,357 368,364 327,359 219,309 132,270 290,348 326,358 111,273 318,355 150,272 351,362 183,291 319,356 239,323 206,299 260,337 251,329 301,352 337,358 330,357 376,367 129,271 195,295 353,361 259,336 202,298 366,365 141,278 142,281 367,363 168,280 251,329 290,350 306,354 301,354 119,268 274,341 338,357 240,321 374,365 110,268 138,270 199,295 155,279 267,339 306,354 361,362 252,329 176,279 259,334 264,334 177,289 113,273 207,299 172,285 356,365 296,351 377,366 232,315 252,335 248,324 336,359 259,334 115,269 263,335 158,273 268,339 301,352 177,284 155,271 270,340 172,284 373,366 137,271 227,311 236,319 217,308 158,281 277,347 309,353 208,300 236,317 293,350 233,319 350,360 168,283 307,354 214,302 226,315 201,302 126,271 278,342 289,347 225,312 250,329 220,310 205,302 319,355 195,292 189,293 326,355 250,326 226,308 307,354 146,269 278,343 180,285 202,300 372,364 138,276 327,357 112,272 335,358 339,361 196,288 316,355 265,335 368,365 311,354 375,365 225,307 298,347 315,356 298,350 192,290 218,311 129,269 121,268 305,354 331,359 169,285 148,276 279,343 246,326 190,295 264,338 266,333 322,358 138,272 113,263 110,267 109,264 174,286 195,289 307,354 351,362 163,278 243,328 140,275 278,341 210,303 342,360 129,270 162,282 329,357 178,289 290,348 323,355 145,275 250,326 311,354 173,281 129,274 132,266 268,340 261,336 130,270 251,331 364,365 335,358 316,357 367,365 313,354 170,280 168,283 299,353 375,364 289,347 362,365 235,318 191,290 154,275 202,302 144,269 370,365 308,353 323,356 208,302" fill="none" stroke="none" marker-start="url(#mao)" marker-mid="url(#mao)" marker-end="url(#mao)"/>
<polyline points="212,283 368,360 269,325 367,360 265,322 282,331 356,357 168,259 239,304 323,348 220,289 140,254 204,279 237,305 149,252 344,353 341,351 137,246 357,357 340,354 269,323 173,261 246,312 146,252 253,317 357,354 127,249 309,343 145,259 230,297 231,302 183,269 111,244 222,293 168,259 131,249 213,284 117,244 254,314 196,274 295,338 179,265 369,357 322,348 236,298 166,260 273,328 371,362 179,265 350,355 272,325 316,346 139,248 137,244 323,349 265,325 261,321 264,326 280,331 236,299 113,246 330,349 278,331 252,313 315,347 334,350 361,358 115,242 291,338 151,249 320,348 167,263 116,247 258,321 235,303 361,358 109,243 245,308 358,357 297,340 284,334 334,350 120,239 152,248 358,355 132,251 327,349 298,340 258,317 136,250 157,256 120,243 283,330 343,354 361,358 155,254 254,314 287,336 232,299 170,258 239,305 370,361 316,346 343,352 121,246 287,338 157,256 338,352 246,311 257,321 203,271 285,332 339,352 271,324 180,265 335,352 219,290 293,337 255,317 293,338 242,307 200,276 352,354 136,249 128,255 206,282 359,355 127,244 282,334 250,312 350,355 283,333 128,240 236,299 161,258 307,344 313,342 364,359 256,316 289,339 199,280 186,265 124,243 364,358 213,284 227,297 366,359 146,247 245,308 360,359 347,352 178,264 312,346 249,311 365,358 203,278 119,246 189,274 194,276 219,290 187,273 284,333 131,246 158,254 200,276 157,257 292,339 290,337 272,329 206,284 209,284 341,353 208,285 143,250 246,304 363,359 115,237 274,325 226,295 182,267 343,356 264,326 332,349 196,272 239,309 158,256 325,348 130,242 242,305 214,284 221,292 264,324 185,266 210,279 257,319 152,252 113,241 273,328 286,335 240,305 119,243 218,291 265,324 294,336 300,340 215,288 331,349 353,357 364,360 335,348 231,301 254,314 117,240 335,351 346,354 291,336 269,331 254,318 219,290 359,358 255,317 254,315 342,352 238,300 158,258 229,294 342,354 238,302 206,274 186,272 367,359 149,250 248,310 155,254 352,356 138,248 283,331 309,343 354,356 298,341 125,248 344,352 309,344 209,286 251,315 151,254 337,350 118,244 162,253 311,344 205,278 307,342 369,359 350,355 250,312 161,255 196,275 132,251 245,310 218,290 266,324 112,241 255,318 237,305 128,249 178,265 171,259 307,344 258,315 138,248 242,307 276,331 329,348 340,353 127,245 293,339 352,354 263,330 289,338 166,258 336,350 246,313 288,333 164,258 129,247 324,345 342,353 230,291 255,316 137,250 175,260 300,342 250,310 265,323 200,276 260,320 173,263 229,297 348,352 193,270 376,363 178,267 192,275 346,353 157,250 337,352 269,326 125,251 181,269 253,317 348,355 138,246 356,355 341,351 376,362 244,306 236,302 197,278 141,245 120,241 336,352 130,249 366,358 121,238 283,331 170,258 165,256 276,332 347,354 241,309 252,315 109,238 343,353 266,326 232,303 247,311 292,336 204,279 188,266 297,340 151,258 345,356 194,271 203,276 305,340 155,259 110,241 237,300 284,335 197,275 334,350 179,272 148,246 122,246 222,290 129,247 310,343 173,268 257,318 356,356 185,267 211,285 135,247 199,281 135,249 162,261 165,256 304,345 234,300 293,335 120,236 350,357 248,315 247,315 240,303 198,276 168,262 231,294 142,255 213,286 367,361 139,252 217,286 262,325 144,246 159,256 298,341 239,308 281,331 112,243 252,313 342,352 246,309 361,358 164,257 299,340 259,318 108,243 114,239 189,267 250,312 217,288 237,309 157,246 257,315 254,317 372,361 226,297 210,285 374,361 245,309 211,290 162,258 155,255 307,340 365,358 274,326 339,355 319,348 130,252 272,328 370,361 329,347 221,292 142,247 351,354 344,356 300,342 174,266 120,246 200,281 376,361 366,357 161,258 239,304 296,343 143,251 373,361 144,251 170,261 280,331 265,325 222,289 199,277 200,275 241,309 336,349 230,296 359,359 311,343 153,253 237,303 145,251 359,356 192,272 347,355 326,347 141,248 306,344 126,247 312,349 164,257 160,259 317,348 193,277 239,309 310,347 367,358 269,323 136,249 125,239 364,360 309,345 309,344 142,252 345,354 310,343 225,296 318,345 166,253" fill="none" stroke="none" marker-start="url(#mar)" marker-mid="url(#mar)" marker-end="url(#mar)"/>
<polyline points="109.4,289.5 149,297 185,309 227,327 263,349.5 302,362.4 377,369" fill="none" stroke="#3a82c2" stroke-width="4.2" stroke-linejoin="round"/>
<polyline points="109.4,289.5 149,297 185,309 227,327 263,349.5 302,362.4 377,369" fill="none" stroke="#000" stroke-width="2.1" stroke-linejoin="round"/>
<polyline points="109.4,269.4 149,277.5 185,291.6 227,315 263,339 302,354 377,367.5" fill="none" stroke="#f4852a" stroke-width="4.2" stroke-linejoin="round"/>
<polyline points="109.4,269.4 149,277.5 185,291.6 227,315 263,339 302,354 377,367.5" fill="none" stroke="#000" stroke-width="2.1" stroke-linejoin="round"/>
<polyline points="109.4,245.4 149,254.4 185,271.5 227,297 263,325.5 302,343.5 377,363" fill="none" stroke="#dc2f33" stroke-width="4.2" stroke-linejoin="round"/>
<polyline points="109.4,245.4 149,254.4 185,271.5 227,297 263,325.5 302,343.5 377,363" fill="none" stroke="#000" stroke-width="2.1" stroke-linejoin="round"/>
</g>
<g clip-path="url(#cR1)">
<polyline points="798,331 682,346 813,321 668,351 738,342 763,334 779,328 572,365 736,341 840,319 597,365 813,328 835,326 808,331 831,321 701,352 799,323 784,327 757,336 827,326 737,345 671,353 768,328 787,321 577,367 844,320 720,342 768,332 727,343 735,338 761,331 794,325 690,349 564,368 716,347 654,356 762,332 670,353 750,341 620,360 635,361 823,323 577,365 712,344 786,320 766,334 758,331 633,362 779,329 575,367 802,326 848,322 694,350 694,346 847,325 786,326 722,342 804,328 793,328 838,328 700,345 559,367 678,352 800,326 773,332 794,327 746,338 726,345 788,330 774,327 826,319 690,351 757,333 595,364 749,334 792,327 616,361 650,359 734,343 844,320 843,321 699,349 747,338 695,350 729,347 563,370 737,343 700,351 701,348 709,350 688,353 846,319 746,340 820,326 730,342 766,331 766,333 750,337 741,341 693,348 792,327 744,339 776,323 760,336 828,318 707,348 810,322 661,353 612,364 635,358 696,349 628,362 751,337 772,333 832,324 591,366 690,347 765,337 733,343 812,328 705,349 713,350 648,359 725,340 750,337 641,359 775,330 684,349 820,324 645,359 837,320 814,323 727,340 804,324 790,327 588,364 785,330 744,339 616,361 801,324 844,320 752,338 807,327 732,346 752,333 631,360 745,339 829,328 685,349 578,365 636,361 569,367 662,354 704,347 721,342 682,348 840,319 726,341 627,362 815,331 733,340 580,367 625,361 842,323 713,344 837,321 842,322 600,364 755,337 844,317 836,320 787,328 575,367 608,366 742,336 847,318 712,345 817,322 683,348 767,332 806,329 836,327 607,363 834,319 727,348 824,324 748,334 742,341 651,357 689,350 809,323 740,343 832,324 587,366 770,331 633,358 848,326 723,348 834,323 781,330 634,361 609,363 649,357 766,333 762,337 724,344 760,335 590,364 734,341 813,325 673,353 810,325 644,358 736,340 732,337 586,369 773,327 591,363 706,349 686,351 789,326 720,347 636,361 576,365 720,348 755,337 793,327 795,329 747,338 777,336 665,353 751,338 822,324 753,339 708,345 626,362 673,351 703,346 742,340 574,367 815,322 773,328 810,318 845,324 669,354 609,362 773,333 705,348 715,346 573,369 643,358 569,368 756,336 822,324 663,356 671,352 731,342 732,339 690,351 746,339 639,359 608,364 742,342 681,350 645,357 701,349 778,335 688,352 827,328 765,332 778,330 786,326 829,324 662,354 728,343 791,327 822,323 561,369 739,336 751,336 699,349 772,331 602,364 670,353 728,342 762,335 691,353 725,341 692,348 765,336 767,333 816,326 738,342 688,348 778,327 694,349 695,349 667,355 695,346 743,340 778,328 624,363 766,334 737,342 846,321 779,333 838,319 731,344 824,322 804,329 704,347 757,332 707,346 722,343 579,366 587,365 723,345 765,334 607,364 649,357 805,326 802,321 752,335 711,348 739,342 641,357 811,325 796,327 732,343 572,368 634,362 614,364 791,326 698,349 780,335 722,341 628,360 626,362 753,336 786,325" fill="none" stroke="none" marker-start="url(#mab)" marker-mid="url(#mab)" marker-end="url(#mab)"/>
<polyline points="777,316 602,359 742,322 810,314 673,341 764,319 719,330 837,309 825,305 729,330 700,337 649,352 810,310 706,332 659,345 631,358 715,333 845,311 664,347 792,313 640,356 613,359 654,348 821,313 717,331 768,320 763,325 786,311 779,317 683,336 737,332 619,357 584,361 817,313 688,343 785,312 791,319 751,324 834,303 611,359 832,308 783,309 755,323 736,328 678,346 598,361 764,324 695,336 626,358 772,321 842,314 649,351 759,325 775,314 840,304 847,308 642,352 657,346 573,364 663,348 649,347 674,343 696,339 820,310 807,309 621,358 742,329 758,319 624,356 794,315 718,332 696,337 695,338 713,332 820,308 746,324 579,361 710,336 607,359 826,302 831,306 679,341 574,365 663,347 636,353 621,360 674,341 667,344 786,312 651,350 751,325 586,360 708,333 762,318 758,322 833,310 810,314 725,331 802,309 696,335 741,326 785,317 815,312 797,313 838,305 774,317 831,308 690,339 703,335 748,326 829,309 780,313 694,336 743,323 560,362 605,359 711,333 606,360 592,364 829,314 838,305 830,310 702,336 713,337 634,354 825,302 748,325 810,311 840,309 695,333 808,312 639,354 642,353 821,311 562,363 745,325 722,334 812,313 806,303 742,329 800,311 742,325 686,338 608,359 756,321 838,310 747,327 775,313 700,338 610,360 635,354 708,333 737,330 807,312 734,329 605,359 584,363 793,311 762,326 617,357 665,346 581,364 617,358 707,330 775,315 603,363 563,365 609,357 824,312 591,362 760,318 561,364 708,338 713,336 762,327 752,322 726,334 848,306 729,325 677,344 708,337 725,329 610,360 660,350 723,332 757,325 590,364 716,333 621,359 604,362 782,315 701,339 646,349 672,346 726,325 665,345 749,320 820,312 592,362 650,348 818,311 820,312 763,320 837,300 732,330 841,304 828,314 712,334 803,313 633,353 643,349 808,307 791,315 620,359 688,342 657,346 799,307 727,332 805,311 568,362 790,315 738,330 604,360 796,318 778,313 835,316 798,313 605,360 687,342 766,318 790,311 795,308 845,308 747,328 677,342 777,322 702,337 791,318 669,342 702,335 729,328 794,315 755,323 841,302 691,337 768,321 641,351 649,351 657,347 700,340 648,351 700,339 845,309 785,312 703,336 766,318 724,329 772,314 705,336 761,320 624,353 740,328 684,343 714,331 616,359 737,327 737,332 844,306 566,366 704,338 658,347 747,330 621,357 828,313 664,343 777,313 781,314 734,328 842,306 700,339 679,342 641,351 698,341 630,356 833,306 766,322 698,339 801,316 844,298 605,357 715,330 652,348 797,313 836,308 672,348 700,336 578,361 625,356 815,310 601,359 750,325 685,342 613,359 648,350 641,353 799,312 842,311 672,343 842,301 755,321 784,317 563,364 828,306 582,361 647,349 757,323 732,329 775,323 706,336 610,359 666,343 788,307 747,324 651,350 702,335 830,310 712,337 785,311 805,305 576,362 829,307 751,326 777,318 784,314 711,335 737,330 608,359 846,299 624,356 847,304" fill="none" stroke="none" marker-start="url(#mao)" marker-mid="url(#mao)" marker-end="url(#mao)"/>
<polyline points="695,324 826,294 843,281 734,310 727,317 739,317 622,352 686,334 806,295 768,301 571,358 700,329 813,290 632,353 847,283 635,347 760,300 636,346 737,316 691,326 603,358 620,352 603,355 637,346 617,352 805,296 751,312 601,352 625,352 769,303 683,329 744,310 795,303 789,305 625,351 817,286 685,329 729,312 704,327 593,358 781,296 823,294 764,305 814,293 648,347 621,351 647,343 707,326 708,320 708,319 583,356 709,314 828,286 733,319 756,306 793,298 814,294 841,284 814,298 771,310 822,294 744,318 735,307 677,335 813,290 687,326 619,354 596,356 663,336 578,358 764,300 790,301 645,342 598,357 593,356 791,296 845,288 766,298 624,349 641,350 662,336 737,314 801,295 826,294 795,294 580,354 780,297 765,298 649,343 597,356 624,351 829,295 642,347 834,284 762,306 710,318 810,292 796,295 784,298 563,360 756,308 715,316 652,343 612,355 808,297 798,303 755,310 604,355 702,326 666,334 811,292 595,354 646,343 818,292 599,352 689,329 738,314 783,298 583,357 728,313 665,336 624,350 806,298 799,297 675,337 761,306 734,312 637,348 608,352 718,320 653,340 790,300 847,291 711,322 725,319 690,327 676,331 781,296 636,351 753,309 635,346 704,323 779,295 660,343 684,326 728,312 829,290 667,333 739,314 653,339 734,317 633,347 786,302 734,318 829,295 698,327 706,324 667,338 677,336 817,289 816,299 663,337 765,306 838,293 841,290 811,291 713,328 634,346 676,336 582,356 733,312 769,302 817,293 750,310 685,328 722,315 744,316 600,356 682,334 715,320 724,318 699,326 559,358 844,280 838,290 627,352 771,304 833,287 847,289 783,300 646,344 653,340 657,341 709,325 589,356 588,356 824,294 711,324 590,356 685,330 760,305 730,313 799,299 778,300 673,334 723,317 813,293 656,339 834,293 818,291 782,300 831,288 822,289 668,337 667,331 726,318 804,292 734,317 759,305 830,292 802,294 778,305 736,312 695,333 743,310 662,340 782,298 754,309 688,327 712,320 689,329 783,293 654,342 830,284 663,337 784,298 753,307 669,334 731,315 763,303 682,327 838,282 588,354 710,322 774,304 722,314 776,298 799,300 661,340 688,332 674,337 793,289 809,294 686,331 817,300 696,326 587,360 833,286 715,320 647,345 789,300 781,311 638,342 597,353 770,302 606,353 741,312 598,355 633,350 772,294 645,346 812,303 645,346 644,348 646,350 711,323 634,352 745,315 817,289 830,291 822,287 621,349 693,332 712,320 707,322 785,297 777,305 658,339 753,312 674,333 712,317 719,324 838,283 720,318 730,319 683,331 611,355 782,294 765,301 771,307 806,294 588,358 692,333 729,316 838,287 833,285 816,293 753,305 749,312 573,359 772,296 836,290 749,313 826,295 824,294 765,300 847,289 615,355 768,300 848,286 764,307 749,310 665,337 645,343 701,325 736,316 680,332 698,325 657,342 583,355 829,291 648,342 823,292 834,293 772,298 707,317 674,332 719,318 750,310 733,313" fill="none" stroke="none" marker-start="url(#mar)" marker-mid="url(#mar)" marker-end="url(#mar)"/>
<polyline points="575.2,367 618.4,363.8 740,342 786.4,329.8 829.6,326" fill="none" stroke="#3a82c2" stroke-width="4.2" stroke-linejoin="round"/>
<polyline points="575.2,367 618.4,363.8 740,342 786.4,329.8 829.6,326" fill="none" stroke="#000" stroke-width="2.1" stroke-linejoin="round"/>
<polyline points="575.2,363.8 618.4,359 740,329.2 786.4,317 829.6,311.6" fill="none" stroke="#f4852a" stroke-width="4.2" stroke-linejoin="round"/>
<polyline points="575.2,363.8 618.4,359 740,329.2 786.4,317 829.6,311.6" fill="none" stroke="#000" stroke-width="2.1" stroke-linejoin="round"/>
<polyline points="575.2,359 618.4,354.2 740,315.8 786.4,302 829.6,294" fill="none" stroke="#dc2f33" stroke-width="4.2" stroke-linejoin="round"/>
<polyline points="575.2,359 618.4,354.2 740,315.8 786.4,302 829.6,294" fill="none" stroke="#000" stroke-width="2.1" stroke-linejoin="round"/>
</g>
<line x1="98.8" y1="219.7" x2="424.2" y2="219.7" stroke="#000" stroke-width="1.8"/>
<line x1="98.8" y1="371.8" x2="424.2" y2="371.8" stroke="#000" stroke-width="1.8"/>
<line x1="99.8" y1="219.7" x2="99.8" y2="371.8" stroke="#000" stroke-width="1.8"/>
<line x1="441.6" y1="219.7" x2="896.3" y2="219.7" stroke="#000" stroke-width="1.8"/>
<line x1="441.6" y1="371.8" x2="896.3" y2="371.8" stroke="#000" stroke-width="1.8"/>
<line x1="895.3" y1="219.7" x2="895.3" y2="371.8" stroke="#000" stroke-width="1.8"/>
<line x1="239" y1="401.9" x2="239" y2="554" stroke="#b8b8b8" stroke-width="2.0"/>
<line x1="378" y1="401.9" x2="378" y2="554" stroke="#b8b8b8" stroke-width="2.0"/>
<line x1="586" y1="401.9" x2="586" y2="554" stroke="#b8b8b8" stroke-width="2.0"/>
<line x1="740.5" y1="401.9" x2="740.5" y2="554" stroke="#b8b8b8" stroke-width="2.0"/>
<line x1="100" y1="401.9" x2="100" y2="413.4" stroke="#000" stroke-width="2.0"/>
<line x1="100" y1="554" x2="100" y2="542.5" stroke="#000" stroke-width="2.0"/>
<line x1="127.8" y1="401.9" x2="127.8" y2="407.1" stroke="#000" stroke-width="1.6"/>
<line x1="127.8" y1="554" x2="127.8" y2="548.8" stroke="#000" stroke-width="1.6"/>
<line x1="155.6" y1="401.9" x2="155.6" y2="407.1" stroke="#000" stroke-width="1.6"/>
<line x1="155.6" y1="554" x2="155.6" y2="548.8" stroke="#000" stroke-width="1.6"/>
<line x1="183.4" y1="401.9" x2="183.4" y2="407.1" stroke="#000" stroke-width="1.6"/>
<line x1="183.4" y1="554" x2="183.4" y2="548.8" stroke="#000" stroke-width="1.6"/>
<line x1="211.2" y1="401.9" x2="211.2" y2="407.1" stroke="#000" stroke-width="1.6"/>
<line x1="211.2" y1="554" x2="211.2" y2="548.8" stroke="#000" stroke-width="1.6"/>
<line x1="239" y1="401.9" x2="239" y2="413.4" stroke="#000" stroke-width="2.0"/>
<line x1="239" y1="554" x2="239" y2="542.5" stroke="#000" stroke-width="2.0"/>
<line x1="266.8" y1="401.9" x2="266.8" y2="407.1" stroke="#000" stroke-width="1.6"/>
<line x1="266.8" y1="554" x2="266.8" y2="548.8" stroke="#000" stroke-width="1.6"/>
<line x1="294.6" y1="401.9" x2="294.6" y2="407.1" stroke="#000" stroke-width="1.6"/>
<line x1="294.6" y1="554" x2="294.6" y2="548.8" stroke="#000" stroke-width="1.6"/>
<line x1="322.4" y1="401.9" x2="322.4" y2="407.1" stroke="#000" stroke-width="1.6"/>
<line x1="322.4" y1="554" x2="322.4" y2="548.8" stroke="#000" stroke-width="1.6"/>
<line x1="350.2" y1="401.9" x2="350.2" y2="407.1" stroke="#000" stroke-width="1.6"/>
<line x1="350.2" y1="554" x2="350.2" y2="548.8" stroke="#000" stroke-width="1.6"/>
<line x1="378" y1="401.9" x2="378" y2="413.4" stroke="#000" stroke-width="2.0"/>
<line x1="378" y1="554" x2="378" y2="542.5" stroke="#000" stroke-width="2.0"/>
<line x1="405.8" y1="401.9" x2="405.8" y2="407.1" stroke="#000" stroke-width="1.6"/>
<line x1="405.8" y1="554" x2="405.8" y2="548.8" stroke="#000" stroke-width="1.6"/>
<line x1="99.8" y1="554" x2="111.3" y2="554" stroke="#000" stroke-width="2.0"/>
<line x1="99.8" y1="538.8" x2="105" y2="538.8" stroke="#000" stroke-width="1.6"/>
<line x1="99.8" y1="523.6" x2="105" y2="523.6" stroke="#000" stroke-width="1.6"/>
<line x1="99.8" y1="508.4" x2="105" y2="508.4" stroke="#000" stroke-width="1.6"/>
<line x1="99.8" y1="493.2" x2="105" y2="493.2" stroke="#000" stroke-width="1.6"/>
<line x1="99.8" y1="477.9" x2="111.3" y2="477.9" stroke="#000" stroke-width="2.0"/>
<line x1="99.8" y1="462.7" x2="105" y2="462.7" stroke="#000" stroke-width="1.6"/>
<line x1="99.8" y1="447.5" x2="105" y2="447.5" stroke="#000" stroke-width="1.6"/>
<line x1="99.8" y1="432.3" x2="105" y2="432.3" stroke="#000" stroke-width="1.6"/>
<line x1="99.8" y1="417.1" x2="105" y2="417.1" stroke="#000" stroke-width="1.6"/>
<line x1="99.8" y1="401.9" x2="111.3" y2="401.9" stroke="#000" stroke-width="2.0"/>
<line x1="462.4" y1="401.9" x2="462.4" y2="407.1" stroke="#000" stroke-width="1.6"/>
<line x1="462.4" y1="554" x2="462.4" y2="548.8" stroke="#000" stroke-width="1.6"/>
<line x1="493.3" y1="401.9" x2="493.3" y2="407.1" stroke="#000" stroke-width="1.6"/>
<line x1="493.3" y1="554" x2="493.3" y2="548.8" stroke="#000" stroke-width="1.6"/>
<line x1="524.2" y1="401.9" x2="524.2" y2="407.1" stroke="#000" stroke-width="1.6"/>
<line x1="524.2" y1="554" x2="524.2" y2="548.8" stroke="#000" stroke-width="1.6"/>
<line x1="555.1" y1="401.9" x2="555.1" y2="407.1" stroke="#000" stroke-width="1.6"/>
<line x1="555.1" y1="554" x2="555.1" y2="548.8" stroke="#000" stroke-width="1.6"/>
<line x1="586" y1="401.9" x2="586" y2="413.4" stroke="#000" stroke-width="2.0"/>
<line x1="586" y1="554" x2="586" y2="542.5" stroke="#000" stroke-width="2.0"/>
<line x1="616.9" y1="401.9" x2="616.9" y2="407.1" stroke="#000" stroke-width="1.6"/>
<line x1="616.9" y1="554" x2="616.9" y2="548.8" stroke="#000" stroke-width="1.6"/>
<line x1="647.8" y1="401.9" x2="647.8" y2="407.1" stroke="#000" stroke-width="1.6"/>
<line x1="647.8" y1="554" x2="647.8" y2="548.8" stroke="#000" stroke-width="1.6"/>
<line x1="678.7" y1="401.9" x2="678.7" y2="407.1" stroke="#000" stroke-width="1.6"/>
<line x1="678.7" y1="554" x2="678.7" y2="548.8" stroke="#000" stroke-width="1.6"/>
<line x1="709.6" y1="401.9" x2="709.6" y2="407.1" stroke="#000" stroke-width="1.6"/>
<line x1="709.6" y1="554" x2="709.6" y2="548.8" stroke="#000" stroke-width="1.6"/>
<line x1="740.5" y1="401.9" x2="740.5" y2="413.4" stroke="#000" stroke-width="2.0"/>
<line x1="740.5" y1="554" x2="740.5" y2="542.5" stroke="#000" stroke-width="2.0"/>
<line x1="771.4" y1="401.9" x2="771.4" y2="407.1" stroke="#000" stroke-width="1.6"/>
<line x1="771.4" y1="554" x2="771.4" y2="548.8" stroke="#000" stroke-width="1.6"/>
<line x1="802.3" y1="401.9" x2="802.3" y2="407.1" stroke="#000" stroke-width="1.6"/>
<line x1="802.3" y1="554" x2="802.3" y2="548.8" stroke="#000" stroke-width="1.6"/>
<line x1="833.2" y1="401.9" x2="833.2" y2="407.1" stroke="#000" stroke-width="1.6"/>
<line x1="833.2" y1="554" x2="833.2" y2="548.8" stroke="#000" stroke-width="1.6"/>
<line x1="864.1" y1="401.9" x2="864.1" y2="407.1" stroke="#000" stroke-width="1.6"/>
<line x1="864.1" y1="554" x2="864.1" y2="548.8" stroke="#000" stroke-width="1.6"/>
<line x1="895" y1="401.9" x2="895" y2="413.4" stroke="#000" stroke-width="2.0"/>
<line x1="895" y1="554" x2="895" y2="542.5" stroke="#000" stroke-width="2.0"/>
<line x1="895.3" y1="554" x2="883.8" y2="554" stroke="#000" stroke-width="2.0"/>
<line x1="895.3" y1="538.8" x2="890.1" y2="538.8" stroke="#000" stroke-width="1.6"/>
<line x1="895.3" y1="523.6" x2="890.1" y2="523.6" stroke="#000" stroke-width="1.6"/>
<line x1="895.3" y1="508.4" x2="890.1" y2="508.4" stroke="#000" stroke-width="1.6"/>
<line x1="895.3" y1="493.2" x2="890.1" y2="493.2" stroke="#000" stroke-width="1.6"/>
<line x1="895.3" y1="477.9" x2="883.8" y2="477.9" stroke="#000" stroke-width="2.0"/>
<line x1="895.3" y1="462.7" x2="890.1" y2="462.7" stroke="#000" stroke-width="1.6"/>
<line x1="895.3" y1="447.5" x2="890.1" y2="447.5" stroke="#000" stroke-width="1.6"/>
<line x1="895.3" y1="432.3" x2="890.1" y2="432.3" stroke="#000" stroke-width="1.6"/>
<line x1="895.3" y1="417.1" x2="890.1" y2="417.1" stroke="#000" stroke-width="1.6"/>
<line x1="895.3" y1="401.9" x2="883.8" y2="401.9" stroke="#000" stroke-width="2.0"/>
<g clip-path="url(#cL2)">
<polyline points="158,477 162,475 256,521 362,550 204,489 143,470 276,533 129,464 252,520 204,493 218,500 240,506 326,542 236,509 299,541 273,529 317,543 146,470 359,551 316,544 285,537 290,539 349,550 141,473 171,477 201,490 266,530 139,462 142,474 291,537 330,546 120,468 120,463 375,553 351,547 214,496 316,545 132,469 252,518 192,483 152,474 168,478 356,549 131,469 296,538 205,492 322,542 216,494 357,552 277,536 239,508 234,509 115,465 126,466 377,554 338,549 339,547 171,476 305,541 205,499 268,531 368,553 231,503 115,465 143,471 142,465 241,510 225,501 130,471 263,527 349,550 233,508 211,499 272,531 205,494 213,498 278,531 253,520 288,536 251,518 359,551 323,546 347,550 256,521 144,467 172,478 253,520 179,479 372,552 372,553 137,467 229,506 114,467 172,480 201,489 265,530 182,482 196,487 114,469 296,539 310,541 137,464 166,475 212,494 312,542 199,489 161,475 301,545 166,478 323,544 215,497 276,531 163,474 116,460 165,473 336,546 188,482 122,464 145,472 254,519 354,548 284,536 237,511 339,547 308,542 171,480 315,544 191,491 240,513 255,517 305,543 324,545 375,551 198,485 267,527 375,553 259,525 183,482 335,545 128,469 267,527 124,467 166,478 235,510 160,475 370,552 218,500 296,539 213,490 129,465 163,480 345,548 302,542 361,548 256,520 338,548 295,539 338,547 356,548 287,533 271,528 264,527 179,477 170,478 261,521 304,542 333,546 139,471 315,543 362,552 173,481 334,546 198,491 253,520 337,546 174,484 327,548 172,483 192,489 302,539 118,472 338,547 377,552 313,543 289,536 200,490 284,535 132,470 348,546 309,544 253,524 228,504 255,524 277,530 254,518 291,536 154,468 126,470 219,501 149,470 250,520 155,471 261,525 207,496 267,528 337,546 329,545 191,488 185,482 165,476 321,544 156,473 268,526 317,545 123,465 252,519 264,523 138,467 162,480 155,471 370,552 178,482 287,535 369,551 311,543 306,542 115,465 198,488 329,544 286,534 164,474 288,536 258,521 267,526 330,544 356,549 176,483 129,465 233,500 149,470 363,551 291,539 167,477 349,547 183,483 115,467 266,529 168,477 219,504 310,543 242,511 214,496 361,551 210,493 257,520 226,504 232,504 127,466 279,533 224,503 122,473 203,488 372,553 338,547 290,537 208,492 241,511 121,468 349,550 215,497 149,467 306,543 290,535 238,508 283,534 376,552 289,537 193,486 147,474 377,552 163,479 271,530 175,483 287,538 179,486 112,468 329,545 233,504 271,528 300,542 276,531 124,466 336,546 206,493 150,471 184,484 143,469 131,468 290,537 242,508 272,529 364,551 192,482 349,548 320,544 213,500 115,467 321,546 300,539 180,484 356,551 151,475 267,528 201,493 157,477 359,548 204,490 296,539 330,546 293,539 164,478 155,476 136,472 312,543 130,476 374,555 171,479 180,480 328,545 282,534 114,464 193,487 363,549 238,511 174,479 197,487 191,484 338,544 256,518 139,469 266,528 300,541 160,471 204,491 262,523 263,524 239,510 192,486 248,514 179,479 118,469 212,492 312,542 258,523 166,475 364,553 290,537 328,544 186,481 286,536 204,489 219,499 159,476 154,471 283,532 333,546 206,492 173,479 163,477 284,532 203,487 190,484 243,512 163,474 199,485 222,497 127,469 181,479 352,550 321,545 176,479 119,469 176,479 197,484 192,487 249,517 323,546 238,510 192,485 269,528 267,533 131,469 373,553 279,536 324,545 324,547 368,552 314,542 151,471 121,464 144,470 303,540 173,475 356,549 147,472 188,483 350,547 214,488 364,551 316,545 238,509 194,486 226,503 290,538 166,480 297,539 229,505 273,530 272,529 171,472 121,466 303,543 262,525 115,465 318,543 152,470 274,530 361,550 142,473 179,482 117,464 364,551 147,474 267,527 222,498 227,502 178,481 290,535 124,464 322,542 296,537 335,546 236,509 284,538 207,494 135,470 290,537 189,484 242,510 349,545 354,547 153,476 136,470 206,494 124,469 219,505 193,482 237,515 260,528 376,551 331,547 205,490 373,552 277,530 181,480 304,543 249,519 124,470 297,539 346,550 363,553 156,475 290,537 131,468 174,481 199,493 254,520 144,467 182,480 303,542 210,495 192,488 113,469 222,501 209,493 119,463 181,484 220,499 221,501 225,502 337,547 143,466 187,482 237,503 290,537 163,474 270,528 240,507 232,503 356,550 368,551 301,540 171,484 113,463 297,537 361,548 257,522 206,494 195,483 114,463 118,468 197,489 182,482 172,479 211,494 233,508 153,476 160,475 230,508 115,465" fill="none" stroke="none" marker-start="url(#mab)" marker-mid="url(#mab)" marker-end="url(#mab)"/>
<polyline points="323,538 194,470 222,485 172,461 231,487 377,550 347,541 275,518 137,446 220,482 281,523 158,459 123,446 277,519 249,506 305,535 214,477 328,536 141,451 326,536 123,446 209,485 179,466 215,474 323,537 296,530 229,491 118,444 366,546 151,452 343,545 164,459 232,489 189,460 187,469 365,544 164,462 303,531 235,496 376,546 366,548 262,512 133,449 162,452 135,451 251,502 296,531 344,540 160,455 295,528 224,481 363,547 378,549 295,526 330,539 363,546 171,462 169,455 142,453 344,542 318,534 112,444 306,533 135,452 330,538 229,490 218,484 208,473 182,465 223,486 195,471 351,542 191,466 314,535 353,544 218,482 135,450 259,510 363,546 162,454 112,441 353,542 135,446 311,533 204,477 153,452 346,538 295,530 142,448 252,505 240,498 359,545 375,548 296,531 162,457 152,454 369,548 286,526 188,465 344,540 190,468 320,537 136,448 368,545 146,457 213,479 224,486 248,501 294,529 356,545 319,538 363,545 197,465 125,444 189,463 304,533 372,547 272,516 145,459 278,520 241,501 270,516 191,469 142,450 127,449 117,446 192,465 290,527 328,540 171,459 134,449 223,484 270,519 237,496 150,452 346,542 336,543 200,475 223,483 118,446 358,546 361,544 244,501 310,531 284,524 233,493 141,442 223,483 179,464 226,484 264,512 118,450 143,450 203,475 298,530 281,520 289,525 225,493 204,473 330,540 348,544 242,497 186,462 368,544 181,459 156,449 303,534 292,528 357,546 194,468 294,530 340,543 176,463 226,484 201,474 120,444 350,545 250,501 220,481 247,502 337,540 313,535 219,484 165,459 321,539 286,523 317,539 219,490 181,463 306,537 185,468 214,477 328,537 281,519 169,455 256,507 246,500 187,467 235,491 230,488 377,548 291,526 338,541 278,520 306,535 329,536 224,488 269,516 157,463 369,544 284,522 238,497 345,538 282,523 313,536 178,461 214,483 206,477 173,461 186,464 151,447 135,442 314,539 149,451 235,498 131,450 209,473 269,517 172,461 172,458 269,519 119,448 195,469 271,515 124,451 314,536 375,545 359,544 311,533 225,485 192,464 177,460 190,472 330,540 177,458 198,462 135,448 341,538 317,535 261,509 121,448 175,467 226,488 331,536 116,441 277,520 318,534 378,548 249,502 190,469 186,468 353,542 310,534 340,541 222,483 333,536 272,518 135,452 221,484 145,448 153,452 301,531 337,539 279,522 353,544 233,495 114,445 371,548 165,458 132,449 229,488 333,537 313,535 265,517 178,462 142,450 162,451 367,544 268,518 163,456 184,463 360,544 158,454 347,541 243,499 229,490 193,472 131,450 153,445 361,545 317,535 185,468 229,490 118,446 143,451 173,459 266,512 175,460 305,535 290,527 308,534 151,458 191,468 151,453 165,457 311,535 216,477 200,474 295,527 162,454 216,480 215,481 276,518 177,462 378,549 375,546 120,449 141,454 238,496 124,445 148,450 284,523 326,536 126,446 240,497 322,537 223,488 197,472 250,503 245,497 257,509 221,486 250,504 242,495 146,450 275,517 282,523 299,531 369,545 230,490 228,493 267,516 139,451 291,526 266,512 209,481 223,481 378,549 364,546 218,481 371,547 331,538 233,493 314,535 290,525 310,536 217,480 162,456 317,537 294,528 353,544 340,539 176,465 162,452 375,549 276,517 112,442 339,541 307,535 357,546 198,470 343,541 366,546 347,542 226,488 187,466 241,500 161,455 199,476 306,532 225,488 158,452 238,492 222,486 178,462 278,519 308,534 276,524 239,497 247,500 258,512 376,551 274,520 175,463 132,447 194,472 201,475 260,512 140,445 186,464 198,470 284,523 333,538 289,527 273,517 292,526 210,482 207,476 286,525 260,508 205,474 340,539 158,454 156,448 342,541 181,466 150,454 315,535 255,508 304,532 233,495 359,544 242,499 144,456 145,451 329,539 349,542 136,454 137,452 214,484 341,537 222,492 167,463 297,531 355,541 277,519 322,537 223,487 174,462 150,450 249,504 281,522 185,470 246,498 218,482 144,452 135,444 245,503 250,497 364,547 118,441 117,450 293,528 185,467 260,509 278,517 134,451 176,460 291,528 141,450 358,543 120,438 335,539 203,475 193,472 148,451 285,522 270,516 372,547 351,541 344,542 184,467 279,521 256,510 137,451 323,537 227,490 336,541 205,471 299,531 341,539 203,473 334,541 260,510 145,452 133,446 215,481 351,543 212,481 355,544 245,504 187,464 221,482 289,526 199,471 348,541 257,511 157,447 112,439 226,487 318,536 285,527 152,449 199,471 140,445 303,536 227,487 143,451 308,534 263,510" fill="none" stroke="none" marker-start="url(#mao)" marker-mid="url(#mao)" marker-end="url(#mao)"/>
<polyline points="263,501 155,431 330,530 160,427 122,421 248,487 266,503 282,511 201,452 122,426 226,466 142,425 175,442 234,474 363,540 156,430 318,526 323,530 273,503 210,461 359,540 297,517 185,445 171,432 327,529 126,420 166,432 237,469 363,537 337,532 353,536 374,542 346,535 237,474 300,523 226,467 242,483 222,466 241,477 314,529 155,431 356,536 170,433 151,424 312,521 359,539 154,432 152,425 317,525 345,535 162,437 333,530 292,516 248,486 287,517 375,541 134,428 119,420 177,446 175,436 316,528 118,421 174,439 134,421 147,431 305,523 147,434 316,528 367,539 269,504 250,485 244,484 314,523 180,437 278,509 143,433 241,477 251,490 133,422 140,429 143,424 126,425 215,462 200,454 237,477 355,536 275,506 121,419 187,447 378,540 131,423 211,463 138,426 276,510 226,472 201,452 216,453 125,417 310,527 360,538 208,454 307,525 324,531 183,440 338,531 208,458 359,538 222,472 359,536 302,526 234,471 221,464 292,514 201,457 180,438 284,515 186,444 150,430 314,526 248,486 257,494 334,529 341,535 335,534 362,538 275,507 224,468 270,504 300,521 318,527 308,525 164,431 258,493 145,426 241,486 350,535 310,524 332,529 310,523 339,529 374,543 322,529 226,467 308,522 129,426 290,515 113,420 188,442 171,444 368,540 350,534 164,438 208,455 148,425 337,532 113,420 374,541 306,522 307,521 141,417 318,530 248,482 241,482 338,531 138,425 205,449 374,542 142,425 301,524 377,541 234,476 234,476 264,502 320,527 238,474 368,537 175,439 140,430 188,452 258,492 277,507 170,440 183,445 123,419 273,505 278,512 358,539 222,470 336,532 167,437 261,503 353,535 196,447 190,441 205,449 284,512 321,526 203,461 179,437 345,533 325,529 231,467 164,432 201,450 131,426 199,454 318,529 228,470 263,497 356,537 144,425 220,460 172,438 175,438 175,438 376,541 330,533 114,421 147,429 153,432 186,442 162,430 227,461 343,533 257,494 323,529 144,427 283,511 263,501 114,419 367,539 294,516 200,451 247,488 350,535 128,419 164,433 299,521 242,483 188,442 197,451 277,511 265,501 234,476 244,480 156,430 188,450 158,433 374,540 238,477 261,499 311,526 117,415 274,507 159,426 117,422 224,464 166,433 365,538 174,443 360,538 115,418 374,542 312,526 135,428 147,426 218,460 117,421 152,426 273,505 306,525 136,432 366,538 342,535 306,523 361,539 135,431 251,487 120,422 267,501 343,532 169,438 376,542 342,531 214,458 191,444 183,447 363,538 216,461 183,449 315,528 130,425 223,466 196,454 148,428 356,535 197,449 148,425 368,537 299,523 282,512 369,540 371,543 304,523 343,537 332,532 169,433 237,481 336,533 119,425 339,532 182,441 359,537 344,532 228,468 327,531 121,422 243,478 233,475 344,535 197,451 154,426 205,457 347,534 311,524 292,518 254,492 233,474 213,460 252,494 197,455 325,531 331,529 318,527 173,431 170,437 202,451 206,457 196,450 206,456 325,533 307,524 168,438 242,479 323,531 121,417 347,536 373,543 127,425 272,505 129,429 329,530 371,542 170,433 316,525 251,489 181,446 201,458 221,465 127,420 129,419 198,453 203,450 250,491 374,542 363,538 307,527 252,489 323,527 155,432 355,535 257,493 353,534 220,460 276,507 194,444 160,429 234,476 242,485 165,427 247,486 347,534 202,455 193,447 318,530 195,445 322,527 307,523 189,441 257,495 137,421 208,455 181,442 357,540 213,456 317,527 230,471 337,533 133,429 223,465 376,541 182,442 276,508 372,541 189,439 157,430 292,518 203,453 282,515 181,436 121,429 204,452 326,529 182,445 239,480 256,496 288,515 295,515 339,531 180,448 206,455 137,429 146,421 205,451 265,501 120,422 304,525 240,475 329,532 347,533 191,445 233,473 153,427 223,460 227,469 268,502 351,535 157,430 217,460 245,486 346,533 330,529 217,460 131,422 246,487 355,535 165,433 166,426 121,422 270,506 252,490 350,537 168,432 192,447 240,479 206,448 135,418 210,456 168,435 176,437 176,433 363,540 351,536 336,532 223,461 314,529 290,516 183,442 206,457 186,442 187,439 191,450 348,535 125,424 186,448 304,522 119,419 313,527 192,445 147,433 205,459 296,519 253,491 257,494 342,533 286,512 139,429 317,525 304,527 335,531 274,505 347,533 222,468 120,417 134,429 305,524 376,541 284,512 293,519 226,467 302,522 328,528 161,432 185,444 373,541 305,519 192,444 322,525 233,477 177,437 228,469 130,431 231,465 169,435 342,534 281,507 170,435 244,485 301,522 296,524" fill="none" stroke="none" marker-start="url(#mar)" marker-mid="url(#mar)" marker-end="url(#mar)"/>
<polyline points="113.6,468.2 152.6,475 191,487.8 229.4,506 264.6,528.4 303,542.8 341.4,548.6" fill="none" stroke="#3a82c2" stroke-width="4.2" stroke-linejoin="round"/>
<polyline points="113.6,468.2 152.6,475 191,487.8 229.4,506 264.6,528.4 303,542.8 341.4,548.6" fill="none" stroke="#000" stroke-width="2.1" stroke-linejoin="round"/>
<polyline points="113.6,447.8 152.6,455.8 191,469.8 229.4,491.6 264.6,515.6 303,534.8 341.4,542.2" fill="none" stroke="#f4852a" stroke-width="4.2" stroke-linejoin="round"/>
<polyline points="113.6,447.8 152.6,455.8 191,469.8 229.4,491.6 264.6,515.6 303,534.8 341.4,542.2" fill="none" stroke="#000" stroke-width="2.1" stroke-linejoin="round"/>
<polyline points="113.6,422.8 152.6,432.4 191,449.4 229.4,472.4 264.6,502.8 303,525.2 341.4,534.8" fill="none" stroke="#dc2f33" stroke-width="4.2" stroke-linejoin="round"/>
<polyline points="113.6,422.8 152.6,432.4 191,449.4 229.4,472.4 264.6,502.8 303,525.2 341.4,534.8" fill="none" stroke="#000" stroke-width="2.1" stroke-linejoin="round"/>
</g>
<g clip-path="url(#cR2)">
<polyline points="849,512 778,515 671,544 777,515 874,501 876,501 735,524 630,549 867,505 836,507 865,504 821,508 597,552 638,546 721,529 757,522 614,550 723,526 726,527 631,549 818,510 815,511 836,504 686,538 857,508 702,534 724,528 789,515 685,535 699,531 767,521 830,506 654,545 865,499 815,511 712,528 748,523 735,524 650,546 774,516 847,505 622,547 676,539 689,538 794,519 702,529 762,523 850,501 733,523 872,503 876,507 706,529 862,503 646,548 780,516 791,514 664,545 613,550 761,522 766,516 674,539 692,537 811,508 836,507 785,516 776,520 598,554 810,510 865,501 851,503 673,542 814,508 841,509 750,521 614,549 875,503 637,547 706,532 681,539 819,512 807,510 844,503 830,504 651,548 682,537 840,505 786,519 749,518 781,517 616,551 615,550 802,516 701,529 730,527 795,517 878,503 871,503 838,502 709,532 706,525 721,525 668,545 674,540 659,544 807,509 613,551 769,516 769,518 686,537 781,514 724,527 828,506 719,526 861,504 831,510 667,541 719,532 684,537 686,538 800,512 832,504 709,530 870,503 670,544 865,505 633,551 880,507 738,526 689,539 790,510 713,532 875,507 617,548 689,536 827,504 814,506 835,508 762,517 657,549 872,499 836,504 873,506 837,508 655,546 822,505 816,504 826,503 859,506 726,526 859,501 875,499 727,525 696,530 714,528 641,548 784,513 794,511 772,519 690,537 590,553 845,507 873,505 868,505 685,539 779,518 863,500 737,525 608,550 850,504 659,546 768,519 784,516 637,548 687,540 856,504 706,531 642,547 692,536 868,502 794,514 614,550 771,521 868,500 668,546 870,499 760,522 771,518 690,534 665,544 611,547 776,520 600,553 682,541 773,520 737,527 643,549 605,550 656,546 746,523 772,518 802,506 796,512 843,506 762,518 790,513 771,519 848,501 856,500 811,512 698,535 785,516 793,516 772,521 622,548 712,529 762,519 625,550 773,518 782,515 591,552 732,524 657,547 685,539 726,528 724,528 875,500 826,511 877,499 591,554 874,503 798,508 819,515 762,517 622,547 760,517 745,527 761,520 861,503 770,517 832,508 777,520 742,524 784,515 819,511 667,546 604,550 673,542 707,531 742,524 849,501 815,505 828,509 780,516 702,529 838,498 837,507 648,547 645,545 808,508 857,505 805,516 620,550 806,506 750,519 658,545 769,522 832,505 829,507 831,504 605,550 664,547 866,503 725,524 879,499 790,515 682,538 691,536 702,535 824,514 791,510 709,524 735,524 593,551 708,531 751,523 609,550 677,539 629,550 869,498 799,516 798,516 686,538 766,520 778,514 720,530 794,515 722,529 819,512 790,515 716,526 870,500 627,549 697,532 809,512 859,504 734,527 841,503 643,547 722,526 848,506 778,516 856,511 874,501 790,511 781,513 709,531 740,522 663,544 757,521 753,523 777,520 769,515 654,545 792,511 630,545 665,545 634,549 653,547 650,545 660,544 658,546 786,509 839,501 703,532 865,507 823,511 670,544 762,518 711,530 635,548 852,503 645,545 858,509 806,508 668,544 656,547 703,534 781,513 832,512 879,494 766,518 828,508 699,530 781,519 618,551 857,504 777,518 730,524 693,536 866,502 828,503 698,534 831,508 868,506 608,551 847,506 652,546 646,546 677,539 812,505" fill="none" stroke="none" marker-start="url(#mab)" marker-mid="url(#mab)" marker-end="url(#mab)"/>
<polyline points="744,512 636,542 775,502 708,520 736,512 707,524 828,490 673,536 707,524 797,502 684,532 701,521 732,517 863,481 783,509 847,494 828,492 749,514 730,514 808,498 790,499 780,502 775,504 721,518 611,545 679,537 878,482 676,534 813,499 716,523 601,548 788,507 618,546 827,493 856,485 659,542 795,502 859,488 865,487 845,491 759,512 722,517 785,502 781,503 767,513 770,499 788,504 718,517 791,502 689,529 859,482 762,510 653,541 686,532 734,513 694,528 769,508 659,539 807,502 681,534 654,540 852,485 783,507 644,542 827,494 864,488 666,536 809,498 769,506 826,493 827,496 809,495 654,542 795,506 689,523 801,500 754,511 836,488 880,482 774,498 626,545 687,530 799,494 681,532 805,496 867,489 792,501 847,491 846,494 776,501 648,541 797,499 867,483 626,543 857,489 793,505 755,509 629,544 668,538 874,485 746,513 734,513 655,540 809,502 878,479 800,498 620,546 771,510 805,503 685,528 840,491 875,489 729,516 744,513 683,529 642,544 859,487 697,528 591,548 817,494 711,520 859,493 748,508 610,545 628,543 811,501 852,489 695,525 715,518 864,489 612,545 818,502 712,521 877,483 867,487 839,489 720,516 851,493 676,537 838,494 667,539 705,523 763,505 878,481 842,489 634,545 873,484 711,521 693,524 717,517 850,496 790,505 592,547 833,492 650,539 713,518 876,485 634,544 870,482 639,542 835,489 772,509 875,487 759,511 834,492 826,491 598,549 696,524 643,542 814,495 829,490 696,520 691,524 878,484 717,516 702,523 790,503 715,518 781,507 788,506 632,539 737,516 875,482 706,521 725,520 772,506 851,499 637,541 855,485 816,495 808,495 678,536 839,489 875,488 732,519 807,495 677,537 800,498 661,540 781,503 753,511 711,521 846,493 836,490 736,516 805,495 794,501 843,484 735,513 613,547 609,547 750,509 629,545 778,501 722,515 754,512 780,497 674,536 700,524 737,509 875,483 725,517 609,544 794,502 835,491 793,493 800,493 675,535 817,495 878,488 733,511 748,513 824,495 635,543 810,500 690,529 740,509 856,490 718,518 682,531 808,494 868,490 703,519 876,484 868,488 756,506 844,485 841,486 787,500 686,529 694,525 853,482 858,495 718,516 644,543 694,527 731,522 722,517 766,505 804,501 746,512 806,497 845,493 705,521 831,493 824,496 725,514 670,539 877,484 712,519 642,542 718,519 783,502 872,482 811,491 795,498 748,512 805,497 633,544 644,541 849,486 715,522 654,538 870,480 640,544 789,497 746,516 643,539 728,519 752,505 670,536 821,486 642,540 678,535 824,494 773,505 828,495 654,541 875,485 689,527 762,507 683,529 773,505 683,535 765,508 601,548 864,491 714,521 589,548 791,498 731,514 591,548 873,475 762,513 669,538 828,495 829,496 796,495 686,532 774,503 601,549 655,540 701,521 780,505 626,542 791,497 796,505 704,524 709,522 752,512 799,496 686,531 848,489 691,527 840,496 643,542 866,496 740,511 877,481 819,494 621,545 865,486 871,490 605,547 753,516 717,520 789,499 735,514 844,492 644,546 852,494 790,495 784,503 863,483 765,506 863,483 648,540 648,540 614,545 701,524 831,492 863,492 661,540 832,492 649,541 743,517 852,494 677,533 837,489 751,511" fill="none" stroke="none" marker-start="url(#mao)" marker-mid="url(#mao)" marker-end="url(#mao)"/>
<polyline points="591,548 654,536 648,535 621,541 862,470 804,485 785,487 735,504 619,541 639,539 712,508 761,496 748,502 685,522 800,487 653,534 854,470 613,542 759,496 631,540 741,505 813,477 592,548 842,471 858,461 854,473 743,499 705,511 845,465 854,472 741,504 839,471 737,501 792,491 761,496 749,494 859,475 869,464 800,486 734,504 768,489 750,500 615,543 709,513 796,482 607,545 852,464 634,538 875,468 624,540 795,488 588,548 757,499 616,540 794,487 729,506 812,484 852,470 873,469 628,541 850,479 704,515 610,543 613,543 778,495 716,508 858,459 773,494 864,465 620,541 685,523 738,501 786,490 704,514 857,465 741,502 764,496 850,468 863,469 784,489 690,520 714,515 701,515 833,475 744,493 831,477 738,503 766,494 734,506 860,470 621,541 861,464 785,487 808,478 714,513 768,492 757,498 777,492 805,483 698,517 855,467 772,488 819,471 866,475 781,490 812,479 662,535 839,465 646,532 711,510 810,485 764,491 676,526 878,465 850,473 773,493 817,478 790,479 779,489 811,482 760,497 709,515 726,503 673,524 755,495 755,497 689,519 840,474 656,534 862,464 654,531 693,518 824,475 684,523 800,482 611,541 640,540 711,511 773,494 836,475 634,539 669,530 765,499 777,491 853,469 833,470 779,491 762,497 674,530 666,527 696,516 872,467 819,479 855,473 688,521 610,545 867,475 878,463 756,504 831,481 717,505 701,515 750,505 820,475 859,468 848,475 807,484 723,507 852,476 858,465 597,546 626,541 613,543 782,491 596,544 847,478 852,470 706,513 822,481 730,506 766,491 665,531 748,497 862,470 871,469 835,478 654,534 699,514 801,482 742,502 715,509 760,494 602,544 783,482 653,538 600,545 878,465 711,515 685,521 871,471 704,515 721,508 847,476 749,500 731,508 753,498 837,471 623,542 804,476 789,487 799,487 834,478 591,548 715,507 846,471 875,471 670,529 879,466 675,533 829,468 742,498 872,470 868,470 669,530 659,534 838,480 764,494 647,535 827,478 815,482 697,522 622,538 778,493 807,487 804,475 826,477 720,504 842,470 840,474 838,476 832,476 629,538 863,464 658,535 634,538 712,516 731,506 803,485 632,538 660,530 615,539 695,517 738,507 789,486 849,469 620,543 800,488 644,537 752,504 714,507 761,500 824,482 863,470 703,513 862,469 779,494 782,485 748,501 846,468 877,463 869,468 655,534 801,483 848,473 718,513 683,526 779,491 753,500 617,540 797,489 786,493 620,539 625,539 819,480 605,544 841,469 869,469 783,492 859,465 844,467 655,535 711,512 770,491 590,546 731,507 840,473 768,493 698,518 629,535 806,485 792,484 716,515 704,514 618,542 682,528 646,534 731,503 754,499 796,491 693,517 800,487 862,470 705,514 862,470 653,535 765,493 605,544 688,524 880,462 724,509 738,507 681,526 754,501 789,488 812,488 829,478 864,472 666,531 621,542 770,499 678,528 864,468 777,488 768,494 777,490 761,503 841,473 749,492 854,471 812,482 671,530 689,518 861,466 761,496 758,494 647,536 637,537 872,474 723,506 839,470 759,502 647,533 729,510 769,491 596,548 868,464 644,536 666,530 712,507 829,482 796,490 795,488 854,470 700,518 661,534 818,481 650,533 806,483 846,469 595,548" fill="none" stroke="none" marker-start="url(#mar)" marker-mid="url(#mar)" marker-end="url(#mar)"/>
<polyline points="621.2,549.8 666,545.6 701.2,532.8 832.4,508.8 875.6,505" fill="none" stroke="#3a82c2" stroke-width="4.2" stroke-linejoin="round"/>
<polyline points="621.2,549.8 666,545.6 701.2,532.8 832.4,508.8 875.6,505" fill="none" stroke="#000" stroke-width="2.1" stroke-linejoin="round"/>
<polyline points="621.2,545.6 666,540.8 701.2,524.8 832.4,495.4 875.6,489" fill="none" stroke="#f4852a" stroke-width="4.2" stroke-linejoin="round"/>
<polyline points="621.2,545.6 666,540.8 701.2,524.8 832.4,495.4 875.6,489" fill="none" stroke="#000" stroke-width="2.1" stroke-linejoin="round"/>
<polyline points="621.2,541.8 666,532.8 701.2,516.8 832.4,479 875.6,471" fill="none" stroke="#dc2f33" stroke-width="4.2" stroke-linejoin="round"/>
<polyline points="621.2,541.8 666,532.8 701.2,516.8 832.4,479 875.6,471" fill="none" stroke="#000" stroke-width="2.1" stroke-linejoin="round"/>
</g>
<line x1="98.8" y1="401.9" x2="424.2" y2="401.9" stroke="#000" stroke-width="1.8"/>
<line x1="98.8" y1="554" x2="424.2" y2="554" stroke="#000" stroke-width="1.8"/>
<line x1="99.8" y1="401.9" x2="99.8" y2="554" stroke="#000" stroke-width="1.8"/>
<line x1="441.6" y1="401.9" x2="896.3" y2="401.9" stroke="#000" stroke-width="1.8"/>
<line x1="441.6" y1="554" x2="896.3" y2="554" stroke="#000" stroke-width="1.8"/>
<line x1="895.3" y1="401.9" x2="895.3" y2="554" stroke="#000" stroke-width="1.8"/>
<rect x="272" y="47.5" width="606" height="49.5" fill="#fff"/>
<line x1="284" y1="69.4" x2="344.6" y2="69.4" stroke="#3a7fc0" stroke-width="3.2"/>
<line x1="495.5" y1="69.4" x2="556.1" y2="69.4" stroke="#f0842a" stroke-width="3.2"/>
<line x1="707" y1="69.4" x2="767.6" y2="69.4" stroke="#d3333a" stroke-width="3.2"/>
<text x="365.55" y="79.89" font-size="30.90" textLength="74.06" lengthAdjust="spacingAndGlyphs" fill="#000">200 K</text>
<text x="576.75" y="79.89" font-size="30.90" textLength="74.37" lengthAdjust="spacingAndGlyphs" fill="#000">300 K</text>
<text x="789.16" y="79.89" font-size="30.90" textLength="73.46" lengthAdjust="spacingAndGlyphs" fill="#000">400 K</text>
<text x="46.90" y="49.15" font-size="34.78" textLength="34.48" lengthAdjust="spacingAndGlyphs" fill="#000">18</text>
<text x="64.60" y="125.20" font-size="34.78" textLength="16.74" lengthAdjust="spacingAndGlyphs" fill="#000">9</text>
<text x="64.67" y="201.25" font-size="34.78" textLength="16.67" lengthAdjust="spacingAndGlyphs" fill="#000">0</text>
<text x="46.90" y="231.75" font-size="34.78" textLength="34.48" lengthAdjust="spacingAndGlyphs" fill="#000">18</text>
<text x="64.60" y="307.80" font-size="34.78" textLength="16.74" lengthAdjust="spacingAndGlyphs" fill="#000">9</text>
<text x="64.67" y="383.85" font-size="34.78" textLength="16.67" lengthAdjust="spacingAndGlyphs" fill="#000">0</text>
<text x="46.90" y="413.95" font-size="34.78" textLength="34.48" lengthAdjust="spacingAndGlyphs" fill="#000">18</text>
<text x="64.60" y="490.00" font-size="34.78" textLength="16.74" lengthAdjust="spacingAndGlyphs" fill="#000">9</text>
<text x="64.67" y="566.05" font-size="34.78" textLength="16.67" lengthAdjust="spacingAndGlyphs" fill="#000">0</text>
<text x="920.11" y="115.64" font-size="36.27" textLength="45.83" lengthAdjust="spacingAndGlyphs" fill="#000">1%</text>
<text x="906.47" y="308.84" font-size="36.27" textLength="74.41" lengthAdjust="spacingAndGlyphs" fill="#000">0.3%</text>
<text x="920.61" y="486.64" font-size="35.67" textLength="46.23" lengthAdjust="spacingAndGlyphs" fill="#000">0%</text>
<text x="66.52" y="590.65" font-size="34.63" textLength="68.31" lengthAdjust="spacingAndGlyphs" fill="#000">−0.2</text>
<text x="204.91" y="590.65" font-size="34.63" textLength="68.72" lengthAdjust="spacingAndGlyphs" fill="#000">−0.1</text>
<text x="706.39" y="590.65" font-size="34.63" textLength="69.14" lengthAdjust="spacingAndGlyphs" fill="#000">+0.1</text>
<text x="861.39" y="590.65" font-size="34.63" textLength="69.16" lengthAdjust="spacingAndGlyphs" fill="#000">+0.2</text>
<text x="348.02" y="590.00" font-size="35.08" textLength="23.97" lengthAdjust="spacingAndGlyphs" fill="#000">E</text>
<text x="373.60" y="596.20" font-size="24.50" textLength="33.62" lengthAdjust="spacingAndGlyphs" fill="#000">v, 0</text>
<text x="556.32" y="590.00" font-size="35.08" textLength="23.97" lengthAdjust="spacingAndGlyphs" fill="#000">E</text>
<text x="580.57" y="596.20" font-size="24.50" textLength="33.44" lengthAdjust="spacingAndGlyphs" fill="#000">c, 0</text>
<text transform="translate(29.09,372.51) rotate(-90)" x="0" y="0" font-size="30.85" textLength="16.25" lengthAdjust="spacingAndGlyphs" font-style="italic" fill="#000">τ</text>
<text transform="translate(37.70,358.10) rotate(-90)" x="0" y="0" font-size="22.77" textLength="15.00" lengthAdjust="spacingAndGlyphs" font-style="italic" fill="#000">n</text>
<text transform="translate(37.70,343.31) rotate(-90)" x="0" y="0" font-size="23.62" textLength="11.53" lengthAdjust="spacingAndGlyphs" font-weight="bold" fill="#000">k</text>
<text transform="translate(16.60,338.06) rotate(-90)" x="0" y="0" font-size="23.92" textLength="11.43" lengthAdjust="spacingAndGlyphs" fill="#000">1</text>
<line x1="10.6" y1="339.7" x2="10.6" y2="353.5" stroke="#000" stroke-width="1.15"/>
<text transform="translate(29.70,311.39) rotate(-90)" x="0" y="0" font-size="35.00" textLength="90.47" lengthAdjust="spacingAndGlyphs" fill="#000">(meV)</text>
<text x="0.89" y="23.52" font-size="48.33" textLength="40.26" lengthAdjust="spacingAndGlyphs" font-weight="bold" fill="#000">a.</text>
<rect x="481.3" y="674.9" width="83.69999999999999" height="516.3000000000001" fill="#f2f2f2"/>
<defs>
<clipPath id="cbL"><rect x="99.9" y="674.9" width="334.0" height="516.3000000000001"/></clipPath>
<clipPath id="cbR"><rect x="481.3" y="674.9" width="333.99999999999994" height="516.3000000000001"/></clipPath>
</defs>
<line x1="99.9" y1="674.9" x2="99.9" y2="686.4" stroke="#000" stroke-width="2.0"/>
<line x1="99.9" y1="1191.2" x2="99.9" y2="1179.7" stroke="#000" stroke-width="2.0"/>
<line x1="133.3" y1="674.9" x2="133.3" y2="680.1" stroke="#000" stroke-width="1.6"/>
<line x1="133.3" y1="1191.2" x2="133.3" y2="1186" stroke="#000" stroke-width="1.6"/>
<line x1="166.7" y1="674.9" x2="166.7" y2="680.1" stroke="#000" stroke-width="1.6"/>
<line x1="166.7" y1="1191.2" x2="166.7" y2="1186" stroke="#000" stroke-width="1.6"/>
<line x1="200.1" y1="674.9" x2="200.1" y2="680.1" stroke="#000" stroke-width="1.6"/>
<line x1="200.1" y1="1191.2" x2="200.1" y2="1186" stroke="#000" stroke-width="1.6"/>
<line x1="233.5" y1="674.9" x2="233.5" y2="680.1" stroke="#000" stroke-width="1.6"/>
<line x1="233.5" y1="1191.2" x2="233.5" y2="1186" stroke="#000" stroke-width="1.6"/>
<line x1="266.9" y1="674.9" x2="266.9" y2="686.4" stroke="#000" stroke-width="2.0"/>
<line x1="266.9" y1="1191.2" x2="266.9" y2="1179.7" stroke="#000" stroke-width="2.0"/>
<line x1="300.3" y1="674.9" x2="300.3" y2="680.1" stroke="#000" stroke-width="1.6"/>
<line x1="300.3" y1="1191.2" x2="300.3" y2="1186" stroke="#000" stroke-width="1.6"/>
<line x1="333.7" y1="674.9" x2="333.7" y2="680.1" stroke="#000" stroke-width="1.6"/>
<line x1="333.7" y1="1191.2" x2="333.7" y2="1186" stroke="#000" stroke-width="1.6"/>
<line x1="367.1" y1="674.9" x2="367.1" y2="680.1" stroke="#000" stroke-width="1.6"/>
<line x1="367.1" y1="1191.2" x2="367.1" y2="1186" stroke="#000" stroke-width="1.6"/>
<line x1="400.5" y1="674.9" x2="400.5" y2="680.1" stroke="#000" stroke-width="1.6"/>
<line x1="400.5" y1="1191.2" x2="400.5" y2="1186" stroke="#000" stroke-width="1.6"/>
<line x1="433.9" y1="674.9" x2="433.9" y2="686.4" stroke="#000" stroke-width="2.0"/>
<line x1="433.9" y1="1191.2" x2="433.9" y2="1179.7" stroke="#000" stroke-width="2.0"/>
<line x1="99.9" y1="1191.2" x2="111.4" y2="1191.2" stroke="#000" stroke-width="2.0"/>
<line x1="433.9" y1="1191.2" x2="422.4" y2="1191.2" stroke="#000" stroke-width="2.0"/>
<line x1="99.9" y1="1139.6" x2="105.1" y2="1139.6" stroke="#000" stroke-width="1.6"/>
<line x1="433.9" y1="1139.6" x2="428.7" y2="1139.6" stroke="#000" stroke-width="1.6"/>
<line x1="99.9" y1="1087.9" x2="105.1" y2="1087.9" stroke="#000" stroke-width="1.6"/>
<line x1="433.9" y1="1087.9" x2="428.7" y2="1087.9" stroke="#000" stroke-width="1.6"/>
<line x1="99.9" y1="1036.3" x2="105.1" y2="1036.3" stroke="#000" stroke-width="1.6"/>
<line x1="433.9" y1="1036.3" x2="428.7" y2="1036.3" stroke="#000" stroke-width="1.6"/>
<line x1="99.9" y1="984.7" x2="105.1" y2="984.7" stroke="#000" stroke-width="1.6"/>
<line x1="433.9" y1="984.7" x2="428.7" y2="984.7" stroke="#000" stroke-width="1.6"/>
<line x1="99.9" y1="933" x2="111.4" y2="933" stroke="#000" stroke-width="2.0"/>
<line x1="433.9" y1="933" x2="422.4" y2="933" stroke="#000" stroke-width="2.0"/>
<line x1="99.9" y1="881.4" x2="105.1" y2="881.4" stroke="#000" stroke-width="1.6"/>
<line x1="433.9" y1="881.4" x2="428.7" y2="881.4" stroke="#000" stroke-width="1.6"/>
<line x1="99.9" y1="829.8" x2="105.1" y2="829.8" stroke="#000" stroke-width="1.6"/>
<line x1="433.9" y1="829.8" x2="428.7" y2="829.8" stroke="#000" stroke-width="1.6"/>
<line x1="99.9" y1="778.2" x2="105.1" y2="778.2" stroke="#000" stroke-width="1.6"/>
<line x1="433.9" y1="778.2" x2="428.7" y2="778.2" stroke="#000" stroke-width="1.6"/>
<line x1="99.9" y1="726.5" x2="105.1" y2="726.5" stroke="#000" stroke-width="1.6"/>
<line x1="433.9" y1="726.5" x2="428.7" y2="726.5" stroke="#000" stroke-width="1.6"/>
<line x1="99.9" y1="674.9" x2="111.4" y2="674.9" stroke="#000" stroke-width="2.0"/>
<line x1="433.9" y1="674.9" x2="422.4" y2="674.9" stroke="#000" stroke-width="2.0"/>
<line x1="481.3" y1="674.9" x2="481.3" y2="686.4" stroke="#000" stroke-width="2.0"/>
<line x1="481.3" y1="1191.2" x2="481.3" y2="1179.7" stroke="#000" stroke-width="2.0"/>
<line x1="514.7" y1="674.9" x2="514.7" y2="680.1" stroke="#000" stroke-width="1.6"/>
<line x1="514.7" y1="1191.2" x2="514.7" y2="1186" stroke="#000" stroke-width="1.6"/>
<line x1="548.1" y1="674.9" x2="548.1" y2="680.1" stroke="#000" stroke-width="1.6"/>
<line x1="548.1" y1="1191.2" x2="548.1" y2="1186" stroke="#000" stroke-width="1.6"/>
<line x1="581.5" y1="674.9" x2="581.5" y2="680.1" stroke="#000" stroke-width="1.6"/>
<line x1="581.5" y1="1191.2" x2="581.5" y2="1186" stroke="#000" stroke-width="1.6"/>
<line x1="614.9" y1="674.9" x2="614.9" y2="680.1" stroke="#000" stroke-width="1.6"/>
<line x1="614.9" y1="1191.2" x2="614.9" y2="1186" stroke="#000" stroke-width="1.6"/>
<line x1="648.3" y1="674.9" x2="648.3" y2="686.4" stroke="#000" stroke-width="2.0"/>
<line x1="648.3" y1="1191.2" x2="648.3" y2="1179.7" stroke="#000" stroke-width="2.0"/>
<line x1="681.7" y1="674.9" x2="681.7" y2="680.1" stroke="#000" stroke-width="1.6"/>
<line x1="681.7" y1="1191.2" x2="681.7" y2="1186" stroke="#000" stroke-width="1.6"/>
<line x1="715.1" y1="674.9" x2="715.1" y2="680.1" stroke="#000" stroke-width="1.6"/>
<line x1="715.1" y1="1191.2" x2="715.1" y2="1186" stroke="#000" stroke-width="1.6"/>
<line x1="748.5" y1="674.9" x2="748.5" y2="680.1" stroke="#000" stroke-width="1.6"/>
<line x1="748.5" y1="1191.2" x2="748.5" y2="1186" stroke="#000" stroke-width="1.6"/>
<line x1="781.9" y1="674.9" x2="781.9" y2="680.1" stroke="#000" stroke-width="1.6"/>
<line x1="781.9" y1="1191.2" x2="781.9" y2="1186" stroke="#000" stroke-width="1.6"/>
<line x1="815.3" y1="674.9" x2="815.3" y2="686.4" stroke="#000" stroke-width="2.0"/>
<line x1="815.3" y1="1191.2" x2="815.3" y2="1179.7" stroke="#000" stroke-width="2.0"/>
<line x1="481.3" y1="1191.2" x2="492.8" y2="1191.2" stroke="#000" stroke-width="2.0"/>
<line x1="815.3" y1="1191.2" x2="803.8" y2="1191.2" stroke="#000" stroke-width="2.0"/>
<line x1="481.3" y1="1139.6" x2="486.5" y2="1139.6" stroke="#000" stroke-width="1.6"/>
<line x1="815.3" y1="1139.6" x2="810.1" y2="1139.6" stroke="#000" stroke-width="1.6"/>
<line x1="481.3" y1="1087.9" x2="486.5" y2="1087.9" stroke="#000" stroke-width="1.6"/>
<line x1="815.3" y1="1087.9" x2="810.1" y2="1087.9" stroke="#000" stroke-width="1.6"/>
<line x1="481.3" y1="1036.3" x2="486.5" y2="1036.3" stroke="#000" stroke-width="1.6"/>
<line x1="815.3" y1="1036.3" x2="810.1" y2="1036.3" stroke="#000" stroke-width="1.6"/>
<line x1="481.3" y1="984.7" x2="486.5" y2="984.7" stroke="#000" stroke-width="1.6"/>
<line x1="815.3" y1="984.7" x2="810.1" y2="984.7" stroke="#000" stroke-width="1.6"/>
<line x1="481.3" y1="933" x2="492.8" y2="933" stroke="#000" stroke-width="2.0"/>
<line x1="815.3" y1="933" x2="803.8" y2="933" stroke="#000" stroke-width="2.0"/>
<line x1="481.3" y1="881.4" x2="486.5" y2="881.4" stroke="#000" stroke-width="1.6"/>
<line x1="815.3" y1="881.4" x2="810.1" y2="881.4" stroke="#000" stroke-width="1.6"/>
<line x1="481.3" y1="829.8" x2="486.5" y2="829.8" stroke="#000" stroke-width="1.6"/>
<line x1="815.3" y1="829.8" x2="810.1" y2="829.8" stroke="#000" stroke-width="1.6"/>
<line x1="481.3" y1="778.2" x2="486.5" y2="778.2" stroke="#000" stroke-width="1.6"/>
<line x1="815.3" y1="778.2" x2="810.1" y2="778.2" stroke="#000" stroke-width="1.6"/>
<line x1="481.3" y1="726.5" x2="486.5" y2="726.5" stroke="#000" stroke-width="1.6"/>
<line x1="815.3" y1="726.5" x2="810.1" y2="726.5" stroke="#000" stroke-width="1.6"/>
<line x1="481.3" y1="674.9" x2="492.8" y2="674.9" stroke="#000" stroke-width="2.0"/>
<line x1="815.3" y1="674.9" x2="803.8" y2="674.9" stroke="#000" stroke-width="2.0"/>
<g clip-path="url(#cbL)">
<polyline points="247,872 421,1161 148,728 346,1102 147,729 257,923 215,816 342,1100 286,963 283,952 235,871 317,1061 129,708 390,1138 168,748 223,839 325,1074 146,725 322,1070 124,703 244,890 318,1059 369,1126 247,893 202,801 196,785 384,1139 406,1153 384,1136 229,854 251,881 343,1102 224,874 178,763 379,1134 403,1147 239,854 329,1082 357,1113 226,836 409,1154 296,992 127,702 359,1117 212,820 280,955 301,1015 348,1103 239,857 248,883 124,712 345,1105 340,1103 302,1019 251,886 197,802 413,1158 217,827 181,766 364,1120 180,763 144,748 273,932 190,790 335,1090 393,1143 376,1132 269,924 241,862 282,972 273,932 237,852 405,1152 122,705 286,977 390,1141 425,1164 165,763 336,1096 334,1090 306,1017 346,1111 331,1093 382,1135 224,838 281,962 246,874 403,1151 334,1097 318,1066 404,1150 328,1079 157,740 292,986 257,897 431,1167 341,1100 328,1082 169,758 199,806 116,712 290,970 287,974 421,1161 387,1138 431,1168 368,1125 247,877 424,1165 170,755 298,997 238,862 304,1025 211,807 307,1023 377,1130 379,1133 361,1116 258,902 141,720 294,984 191,774 377,1133 387,1138 172,763 319,1058 420,1159 189,794 272,927 317,1064 286,978 303,1013 353,1113 279,949 276,933 349,1109 127,704 334,1091 374,1129 361,1119 372,1127 288,989 355,1111 264,909 322,1073 185,783 214,815 315,1054 227,861 247,869 151,745 266,937 224,854 235,855 271,926 394,1142 344,1101 339,1097 232,853 259,915 127,716 129,706 226,858 412,1154 361,1115 350,1106 358,1117 258,913 158,734 214,810 389,1141 185,770 265,930 265,919 131,713 236,854 319,1069 230,837 317,1056 425,1164 161,745 240,855 242,853 273,930 120,695 119,701 363,1117 274,938 432,1168 348,1109 167,752 233,848 159,733 342,1102 300,999 406,1151 182,772 198,792 350,1104 118,698 312,1039 428,1167 203,805 339,1096 220,839 347,1103 222,828 229,847 332,1092 384,1137 209,803 355,1114 321,1075 299,995 397,1147 134,708 161,746 130,720 356,1110 333,1094 351,1111 252,888 212,821 267,921 248,889 239,852 208,802 373,1127 292,986 160,751 388,1139 394,1145 246,871 154,744 375,1131 163,751 295,981 430,1168 175,774 402,1148 241,867 230,836 388,1142 264,919 268,923 303,1010 347,1107 209,833 299,1001 217,819 369,1126 333,1095 425,1165 361,1118 294,991 224,834 383,1134 223,834 228,852 235,858 393,1143 283,961 404,1152 254,894 384,1137 241,869 135,721 237,865 178,759 311,1047 137,710 339,1099 361,1119 395,1143 410,1156 416,1159 116,698 402,1150 147,730 333,1099 257,907 426,1164 281,950 204,809 219,820 426,1164 369,1123 188,771 390,1140 311,1035 314,1057 292,973 292,987 264,928 339,1097 313,1054 338,1097 279,964 279,952 273,930 182,777 180,762 365,1120 266,912 264,907 371,1126 150,727 334,1091 317,1058 133,707 183,769 257,911 333,1092 362,1119 426,1166 342,1099 398,1145 185,770 232,850 433,1171 213,811 368,1124 264,916 347,1104 382,1133 401,1146 248,884 278,936 179,772 312,1041 373,1128 302,1008 403,1151 227,860 314,1051 191,781 208,800 370,1124 424,1164 321,1071 241,860 124,707 153,745 276,942 409,1155 386,1138 163,751 175,759 123,701 335,1094 257,899 401,1147 328,1081 223,831 296,984 258,911 351,1106 146,735 125,707 346,1105 287,973 381,1135 276,947 398,1146 420,1161 425,1163 241,869 181,781 185,776 225,836 307,1023 382,1133 324,1074 369,1124 407,1151 153,742 120,699 221,827 151,735 131,723 293,978 177,760 329,1086 200,806 432,1171 279,958 409,1154 309,1033 279,945 260,927 274,930 191,785 230,849 289,991 168,764 318,1066 199,799 241,859 244,878 286,965 127,708 266,929 224,836 345,1106 209,803 338,1097 413,1156 403,1151 202,799 314,1055 215,815 385,1137 407,1150 233,843 343,1103 165,751 384,1139 389,1140 352,1109 218,819 415,1158 125,710 370,1128 134,710 272,923 145,729 182,786 257,896 130,719 298,991 312,1044 343,1104 405,1150 177,772 193,788 295,996 348,1105 432,1168 271,933 362,1119 300,994 397,1146 302,1015 160,742 275,933 149,729 177,766 117,696 198,792 179,760 250,880 173,754 376,1130 423,1163 428,1165 372,1129 262,924 147,733 419,1158 125,708 154,743 356,1112 236,863 132,714 296,994 281,963 304,1010 336,1095 391,1140 236,859 132,706 268,930 137,719 310,1036 308,1035 281,948 199,790 366,1121 364,1119 227,842 273,934 211,808 143,728 394,1143 200,813 338,1098 405,1149 369,1123 335,1097 269,921 309,1030 176,775 364,1122 307,1022 432,1169 426,1164 274,926 202,797 242,867 175,789 251,888 219,828 188,781 164,741 430,1167 300,1005 129,702 152,729 333,1088 118,709 316,1056 354,1112 225,836 382,1137 215,837 278,957 174,758 123,708 287,971 363,1118 430,1167 358,1111 236,851 367,1124 431,1168 131,718 280,944 176,771 391,1141 285,965 192,797 191,782 125,703 388,1140 408,1152 212,828 166,747 203,798 198,787 234,856 148,731 387,1140 418,1161 309,1029 369,1124 431,1168 325,1073 174,764 363,1119 265,917 414,1158 332,1093 265,916 169,746 187,791 431,1169 301,1012 349,1109 417,1158 275,937 148,728 310,1036 306,1014 216,838 167,740 199,801 386,1138 144,727 235,846 117,693 432,1168 233,858 161,760 181,773 190,776 339,1096 154,741 132,710 193,797 183,773 307,1033 280,961 212,809 147,725 160,739 274,939 283,959 129,704 341,1102 191,786 362,1120 279,961 205,818 124,718 313,1044 217,827 434,1169 229,849 301,1004 298,995 179,763 428,1167 328,1085 424,1164 412,1157 162,758 238,849 248,885 420,1159 396,1143 407,1150 254,896 134,711 408,1153 132,719 386,1137 403,1152 176,772 128,711 234,850 162,752 317,1065 266,942 173,756 428,1166 207,814 126,713 129,707 132,721 229,846 424,1164 320,1064 394,1142 248,877 337,1099 298,994 353,1112 264,931 195,791" fill="none" stroke="none" marker-start="url(#mb0)" marker-mid="url(#mb0)" marker-end="url(#mb0)"/>
<polyline points="180,795 144,740 282,975 303,1029 210,815 163,750 353,1114 142,731 215,848 285,986 123,720 371,1129 124,716 310,1053 164,754 211,832 346,1104 305,1045 159,756 133,726 282,958 280,967 264,945 328,1089 307,1037 186,805 279,970 118,708 190,796 341,1106 430,1166 304,1031 386,1139 222,859 238,881 353,1115 394,1141 378,1136 195,816 214,837 142,745 407,1154 327,1086 277,976 124,708 337,1104 245,898 150,734 325,1085 405,1152 157,746 403,1151 227,860 389,1140 338,1096 347,1106 347,1105 433,1170 264,942 413,1155 229,869 300,996 121,695 235,887 394,1145 154,740 373,1132 293,991 171,785 203,807 241,873 315,1055 163,749 259,926 287,994 358,1116 322,1084 233,878 154,752 236,881 318,1066 416,1163 132,724 260,924 160,746 287,990 385,1138 319,1063 126,728 282,985 330,1090 155,757 343,1108 331,1093 259,893 303,1030 179,794 149,739 267,934 247,895 333,1095 214,826 183,770 249,902 306,1012 152,756 366,1126 203,840 294,1011 419,1164 373,1131 170,768 432,1170 388,1142 235,880 325,1076 370,1130 220,858 180,776 118,713 156,765 268,941 302,1018 153,737 319,1075 409,1157 176,770 260,918 236,854 313,1046 199,825 123,721 238,867 380,1135 221,841 267,912 287,1005 189,790 292,1009 189,798 319,1073 142,738 358,1116 306,1030 260,938 311,1042 224,865 314,1056 363,1123 149,755 165,751 231,874 148,738 152,740 350,1115 266,946 226,866 218,850 317,1058 356,1122 398,1148 321,1071 262,936 397,1146 120,708 237,876 162,756 165,770 185,788 250,915 309,1039 386,1139 272,931 426,1165 130,712 141,735 388,1141 126,717 382,1136 221,872 199,812 173,767 406,1156 433,1171 224,888 287,996 150,741 413,1158 229,871 367,1127 154,764 323,1077 246,918 287,975 308,1032 204,818 369,1126 338,1099 254,914 366,1124 333,1092 385,1138 245,890 262,929 422,1163 337,1103 287,995 290,979 314,1048 278,945 265,925 352,1109 351,1110 185,791 139,739 403,1148 302,1019 200,800 333,1089 386,1139 366,1126 126,716 327,1092 406,1154 173,779 165,771 185,781 271,950 419,1162 152,738 320,1077 145,727 389,1142 200,792 288,995 149,752 382,1138 284,975 172,794 304,1030 333,1099 201,835 365,1122 366,1126 349,1111 423,1163 342,1103 176,758 146,740 174,767 121,710 266,945 324,1079 263,933 221,875 381,1135 358,1116 120,702 127,719 257,925 172,768 418,1160 296,992 139,739 191,800 143,722 425,1164 128,721 241,881 258,897 418,1160 230,862 134,737 248,890 392,1141 386,1142 165,749 360,1123 196,805 259,944 232,878 322,1070 192,818 309,1039 162,751 360,1116 146,739 340,1106 382,1135 278,981 278,972 156,753 211,830 149,740 240,869 395,1146 346,1104 407,1154 145,742 340,1105 152,739 140,739 422,1165 373,1130 264,940 282,965 323,1072 379,1136 208,807 395,1147 345,1105 128,721 158,751 302,1023 284,978 352,1116 393,1145 181,782 141,741 381,1136 379,1135 302,1010 149,758 398,1148 421,1161 355,1120 241,878 256,912 266,922 118,716 327,1084 339,1101 317,1078 288,1000 284,990 140,741 318,1071 419,1160 129,713 230,865 387,1138 218,849 225,869 251,899 239,886 279,963 367,1125 283,988 360,1120 298,1019 365,1128 378,1135 125,709 148,749 332,1098 182,779 165,771 407,1153 306,1036 145,726 191,808 230,865 371,1124 372,1130 188,797 347,1109 144,739 421,1163 156,753 378,1135 250,894 136,734 124,722 132,726 205,839 172,772 284,994 187,797 177,785 194,813 276,942 414,1159 160,755 206,816 203,811 347,1103 429,1167 313,1050 211,837 373,1126 423,1163 202,816 166,759 430,1168 347,1110 308,1038 286,985 201,827 217,852 247,880 179,783 233,847 417,1161 364,1124 246,890 291,988 183,793 185,791 269,930 401,1151 255,902 233,854 429,1168 178,783 379,1131 358,1112 162,752 235,854 336,1097 362,1118 368,1126 223,830 120,702 180,795 232,876 166,772 338,1108 195,819 320,1075 315,1061 127,724 393,1141 300,1038 187,794 322,1080 419,1162 418,1161 257,911 309,1038 141,746 411,1159 165,760 207,802 245,893 133,708 168,755 241,895 129,726 185,778 309,1048 167,744 238,889 364,1126 177,786 234,868 272,956 207,825 371,1131 243,889 127,720 338,1100 360,1114 177,788 261,949 336,1101 137,741 380,1135 141,727 218,840 257,923 161,751 153,746 173,767 427,1167 366,1128 290,998 200,819 233,844 405,1151 126,711 151,736 169,796 342,1101 216,829 341,1103 206,814 232,869 284,977 349,1114 181,768 323,1086 120,719 333,1096 135,741 372,1132 186,791 205,817 340,1102 273,957 291,997 416,1157 281,954 427,1165 391,1143 352,1115 309,1048 298,995 307,1035 353,1111 178,793 198,835 244,910 120,704 206,818 266,946 178,793 203,810 429,1168 256,903 320,1067 214,848 179,780 202,826 225,856 166,760 256,920 124,718 294,985 270,947 167,764 308,1036 245,885 276,950 303,1014 191,804 185,799 429,1170 276,957 274,939 375,1129 332,1093 278,938 313,1058 408,1153 381,1135 322,1077 294,990 198,790 260,919 309,1041 409,1154 183,774 128,705 432,1170 278,971 174,760 363,1124 384,1141 181,797 263,941 349,1104 297,1005 191,810 423,1164 336,1102 413,1160 172,789 395,1146 189,784 325,1082 129,713 177,782 406,1154 204,818 241,893 172,775 227,859 336,1096 337,1107 254,890 414,1157 296,1006 278,961 346,1113 229,871 341,1104 126,712 187,797 171,760 267,945 283,969 155,744 318,1069 306,1022 196,821 291,1013 428,1167 244,891 388,1141 257,898 262,926 342,1106 268,946 141,736 205,817 271,953 365,1124 143,743 305,1024 163,759 252,922 178,791 344,1103 339,1108 354,1113 192,799 421,1163 296,996 266,923 188,784 202,819 120,714 123,711 225,865 137,737 411,1157 178,792 283,976 300,1030 399,1145 228,862 180,798 117,711 265,928 140,746 215,853 408,1156 181,767 247,889 423,1163 295,1007 116,701 288,1000 302,1033 278,984 347,1109 284,970 311,1041 253,901 196,793 185,773 126,710 227,839 224,867 261,927 148,734 296,1006 361,1122 370,1128 159,754 285,988 298,1008 169,771 245,906 257,913 256,911 340,1100 324,1078 359,1120 389,1143 315,1065 296,1026 193,807 140,732 409,1157 122,720 141,732 353,1110 310,1053 257,927 360,1116 331,1089 178,772 140,739 197,822 255,935 117,702 385,1138 433,1169 295,1007 245,900 209,820 389,1142 358,1117 250,889 223,830 239,866 131,718 170,782 348,1108 204,832 264,943 223,879 420,1162 390,1143 319,1075 279,949 234,879 305,1021 261,918 285,975 408,1156 410,1155 186,778 421,1163 313,1062 356,1111 371,1128 302,1039 147,740 385,1143 141,747 145,751 416,1160 357,1116 285,1005 184,780 155,757 278,967 180,798 201,825 220,867 299,1017 119,720 169,745 146,723 244,896 125,724 238,893 247,909 120,713 271,923 270,956 156,740 301,1010 375,1135 139,738 138,734 308,1050 122,706 135,713 355,1112 335,1098 380,1136 119,705 175,786 124,727 133,719 314,1061 353,1110 148,751 365,1124 251,885 282,955 420,1162 202,820 275,966 328,1082 368,1124 139,738 430,1167 347,1112 168,776 245,908 196,820 331,1088 181,795 201,822 291,989 292,998 162,745" fill="none" stroke="none" marker-start="url(#mb1)" marker-mid="url(#mb1)" marker-end="url(#mb1)"/>
<polyline points="185,804 156,769 309,1053 356,1119 251,922 371,1132 218,856 396,1149 387,1143 406,1156 425,1167 382,1138 176,795 386,1146 149,766 351,1117 226,899 133,730 228,876 167,801 378,1135 398,1147 326,1092 188,808 303,1049 360,1121 227,885 129,728 166,776 212,864 341,1109 305,1032 146,762 379,1137 398,1149 271,992 207,847 349,1122 233,879 281,976 181,808 182,800 432,1170 395,1147 214,857 204,835 306,1044 291,1021 285,994 179,799 380,1138 424,1167 128,733 351,1116 164,775 284,985 379,1140 280,992 408,1156 122,720 161,765 355,1117 139,738 261,961 431,1169 432,1172 144,760 414,1158 128,747 204,851 266,953 235,907 234,904 203,820 181,808 421,1166 385,1141 237,906 163,781 158,773 317,1064 350,1122 259,940 158,776 386,1141 305,1031 203,845 131,749 412,1160 200,848 358,1118 310,1059 244,908 235,901 210,831 164,775 120,715 217,867 246,912 289,992 408,1156 406,1157 213,856 201,825 273,966 133,726 136,747 198,816 151,763 168,771 294,1021 369,1127 407,1155 377,1138 166,769 117,704 216,873 132,740 371,1134 399,1150 401,1153 179,783 145,750 125,719 402,1154 255,947 269,963 347,1112 374,1134 408,1158 383,1142 323,1083 240,908 246,909 267,951 354,1121 309,1049 327,1088 196,835 303,1048 259,933 129,740 430,1170 330,1096 193,834 132,727 283,985 223,881 361,1119 205,836 181,792 251,920 144,760 233,878 125,731 397,1148 300,1036 383,1143 273,969 229,885 291,1010 181,801 242,912 302,1037 230,897 155,762 159,773 350,1119 251,925 409,1157 214,860 302,1044 315,1066 196,822 178,794 124,736 162,783 337,1106 355,1117 208,851 409,1159 241,915 219,860 373,1134 371,1133 307,1053 374,1134 232,890 145,756 232,875 339,1112 220,847 285,1010 269,952 274,978 174,782 297,1027 303,1037 377,1134 344,1112 406,1153 246,930 168,780 354,1118 288,996 315,1067 261,957 231,898 239,905 303,1043 270,954 146,755 261,944 151,752 301,1039 429,1167 349,1117 167,792 420,1163 148,762 285,1007 319,1080 271,982 254,924 304,1043 201,838 138,739 339,1111 168,785 228,880 124,734 137,738 382,1140 316,1082 291,1015 391,1143 337,1106 394,1148 170,783 175,787 156,765 344,1112 168,785 291,1014 294,1025 288,1012 238,910 433,1171 257,946 373,1135 251,919 429,1169 138,741 369,1132 224,865 260,936 138,743 169,781 353,1122 142,755 140,753 328,1097 254,917 386,1144 234,901 334,1110 204,832 282,1011 179,818 270,964 387,1145 292,1015 322,1087 171,796 287,998 335,1104 245,910 414,1159 337,1106 371,1134 325,1085 192,812 223,880 419,1163 259,941 370,1129 348,1118 379,1136 121,719 333,1103 304,1038 319,1079 416,1161 193,822 420,1163 124,734 207,844 432,1170 281,992 345,1111 354,1120 323,1088 361,1124 418,1163 360,1120 152,756 273,978 241,898 369,1132 141,758 391,1145 130,713 178,793 243,903 234,894 213,858 366,1129 399,1150 236,893 372,1130 152,763 187,801 186,819 391,1145 429,1167 274,973 170,787 422,1167 221,863 313,1063 116,720 132,742 192,823 306,1051 126,733 425,1167 262,949 385,1141 280,990 221,855 219,871 178,806 310,1061 316,1084 421,1164 168,789 359,1129 252,929 315,1072 156,770 421,1165 297,1025 397,1149 351,1117 316,1068 291,1015 118,727 175,799 334,1104 371,1135 185,806 303,1038 245,913 373,1135 273,978 427,1168 411,1156 320,1085 237,892 408,1156 381,1138 316,1072 328,1087 186,800 410,1158 406,1158 268,971 263,928 159,768 326,1095 313,1075 183,813 186,812 164,781 218,846 323,1097 125,739 154,750 197,826 133,740 256,937 303,1043 396,1149 293,1025 117,710 120,718 168,775 272,968 191,807 370,1134 273,950 370,1132 247,913 160,770 185,815 377,1135 341,1112 322,1081 122,728 211,825 199,836 332,1106 222,876 374,1133 410,1157 168,782 360,1129 321,1090 392,1144 320,1073 197,844 308,1055 319,1076 204,845 131,737 203,848 405,1154 186,807 225,884 248,928 294,1028 265,914 418,1160 279,998 367,1129 131,741 281,984 424,1166 304,1047 216,873 406,1155 159,766 142,756 343,1113 363,1129 317,1082 300,1028 407,1156 288,1012 155,755 390,1146 153,744 138,739 336,1103 363,1126 156,766 364,1129 344,1116 429,1171 332,1103 256,955 277,969 418,1162 324,1091 287,1000 133,739 180,810 307,1052 387,1145 333,1101 363,1125 404,1151 127,736 151,765 130,728 182,804 273,993 177,811 317,1088 167,779 271,979 405,1151 210,844 376,1135 210,852 183,806 175,800 430,1170 341,1109 287,1002 172,801 366,1128 427,1168 283,979 206,850 129,705 123,734 248,910 280,991 203,835 323,1088 376,1136 222,851 345,1114 177,792 375,1131 399,1153 281,994 267,974 278,999 269,964 225,866 333,1105 298,1028 185,818 350,1112 164,777 245,905 198,840 145,749 191,809 351,1122 161,772 249,931 369,1133 307,1048 167,769 394,1145 229,866 400,1151 343,1111 162,772 164,777 197,819 302,1051 239,902 313,1069 195,808 272,978 188,809 415,1162 149,767 296,1007 150,773 358,1117 406,1153 213,852 176,801 128,729 329,1097 160,773 312,1047 374,1136 209,853 278,956 431,1169 230,870 421,1166 404,1152 212,840 345,1117 394,1147 164,772 247,935 191,820 310,1062 277,976 352,1113 238,890 258,939 214,867 416,1162 222,863 376,1136 421,1164 274,951 202,829 278,984 391,1147 250,942 132,728 145,768 126,726 148,750 132,724 198,834 156,760 212,867 211,831 159,776 336,1108 156,772 221,871 217,871 124,737 247,910 395,1146 160,766 157,778 202,827 236,895 187,801 218,864 176,802 315,1074 279,992 127,731 121,711 387,1144 349,1117 127,726 176,793 352,1114 335,1105 373,1132 227,884 404,1154 151,766 277,993 210,861 323,1087 214,845 149,755 365,1128 257,926 377,1135 404,1152 323,1088 401,1152 177,801 307,1051 120,728 406,1153 146,761 359,1121 251,930 394,1146 303,1034 168,758 200,814 194,814 187,814 400,1150 307,1060 249,922 425,1168 283,1005 234,906 413,1159 321,1089 306,1039 380,1138 248,925 280,1006 324,1097 357,1121 321,1088 223,884 174,806 391,1147 419,1162 404,1157 310,1057 308,1048 317,1071 330,1094 150,765 261,927 236,880 419,1165 277,993 356,1118 340,1110 281,1013 432,1171 238,886 408,1157 183,820 244,923 395,1148 405,1155 373,1132 141,755 306,1066 210,850 235,882 372,1134 316,1076 397,1151 217,847 139,739 175,802 186,806 246,886 414,1161 217,877 406,1156 387,1143 408,1162 302,1056" fill="none" stroke="none" marker-start="url(#mb2)" marker-mid="url(#mb2)" marker-end="url(#mb2)"/>
<polyline points="211,870 141,771 268,982 276,995 429,1168 350,1120 258,958 331,1107 236,919 289,1025 346,1118 289,1031 391,1148 401,1155 160,779 219,892 154,791 427,1168 162,786 423,1166 246,928 250,956 293,1027 352,1121 294,1035 347,1114 262,967 314,1080 145,766 267,975 305,1054 313,1074 411,1162 288,1028 353,1122 233,927 350,1119 124,738 164,796 247,956 344,1113 347,1113 384,1143 273,989 366,1132 362,1129 184,817 422,1167 336,1113 397,1153 414,1162 207,853 380,1139 276,1003 406,1159 426,1168 418,1163 336,1112 432,1171 359,1128 406,1156 407,1160 340,1114 383,1143 133,758 431,1171 384,1142 247,945 346,1117 173,808 165,798 412,1162 296,1036 198,856 383,1144 250,937 160,778 209,870 256,972 325,1096 124,744 261,982 334,1107 359,1126 391,1149 123,734 192,833 182,794 386,1144 433,1173 338,1115 140,760 370,1133 287,1029 305,1063 298,1060 369,1136 181,821 135,747 134,753 308,1061 282,998 426,1167 406,1157 275,979 170,819 138,754 362,1127 145,771 302,1052 420,1165 219,876 190,835 168,796 307,1078 149,785 418,1165 257,963 186,823 226,906 262,983 167,803 180,828 284,1015 376,1140 126,730 353,1118 294,1026 384,1144 201,845 308,1055 358,1127 284,1007 385,1144 332,1106 297,1050 239,911 371,1135 118,731 255,945 304,1056 174,808 355,1119 260,963 325,1096 302,1040 196,838 413,1162 195,845 117,735 123,743 149,775 380,1138 323,1092 319,1084 232,887 267,983 298,1031 198,852 124,739 135,759 322,1086 134,746 165,784 284,1009 417,1163 311,1080 179,807 137,761 216,873 255,930 155,770 119,742 255,954 189,825 353,1123 416,1164 340,1110 181,831 328,1104 296,1057 307,1060 387,1145 262,975 116,739 236,904 274,1001 304,1058 276,1014 356,1126 125,733 430,1172 258,954 183,819 171,799 271,971 209,856 151,771 231,901 220,890 277,1006 287,1009 117,740 311,1074 419,1165 190,832 229,910 263,971 319,1090 355,1120 196,829 387,1145 213,872 318,1093 160,778 354,1123 378,1141 151,770 138,755 304,1054 379,1141 150,773 194,834 292,1032 246,924 243,923 249,925 127,737 232,908 329,1101 155,780 270,974 138,760 229,922 326,1102 399,1155 305,1061 359,1123 191,826 300,1051 387,1145 149,769 226,901 304,1061 271,980 319,1087 297,1045 125,743 362,1127 196,862 282,995 395,1149 160,783 397,1152 376,1139 244,928 312,1075 166,805 399,1153 196,833 233,908 313,1080 268,979 184,837 237,928 407,1158 334,1108 304,1043 298,1039 386,1143 175,803 159,792 281,1003 159,766 135,762 359,1123 347,1117 195,840 247,941 341,1114 354,1125 180,816 322,1091 382,1141 417,1161 192,845 220,889 281,1014 217,880 227,877 367,1132 380,1141 323,1092 180,831 389,1147 313,1082 228,910 312,1076 287,1024 119,742 181,815 172,803 234,902 163,792 128,743 387,1143 324,1095 175,813 356,1126 222,884 374,1138 400,1153 397,1151 363,1128 326,1103 294,1022 257,952 214,883 298,1036 158,782 224,898 198,850 344,1118 366,1129 263,963 159,782 292,1016 141,761 120,750 203,870 245,942 308,1066 205,864 353,1128 119,725 267,984 409,1158 143,754 360,1128 312,1084 245,928 148,774 270,990 159,781 349,1120 378,1135 416,1162 201,851 157,770 166,793 428,1169 230,899 206,878 174,818 425,1167 121,741 411,1160 325,1092 421,1164 149,759 263,967 295,1025 418,1164 265,959 257,972 169,803 415,1161 158,783 425,1168 144,767 260,961 331,1101 400,1154 239,907 250,949 391,1146 269,990 288,1013 384,1143 125,733 235,911 322,1094 290,1022 132,747 197,844 253,934 137,747 242,908 368,1134 313,1074 172,810 198,842 306,1066 127,753 210,847 346,1121 186,824 298,1025 198,853 330,1097 255,959 125,751 130,762 147,770 379,1138 429,1171 414,1163 433,1174 219,890 286,1025 257,956 190,832 241,928 270,974 291,1020 330,1106 364,1128 364,1131 254,946 293,1048 152,776 380,1136 265,983 338,1112 377,1138 212,879 291,1012 340,1111 134,749 350,1120 314,1083 155,774 274,1012 422,1166 120,747 300,1031 234,917 240,948 166,803 150,784 257,941 152,774 248,938 264,965 135,751 330,1107 155,766 215,898 326,1099 267,974 316,1083 400,1154 380,1138 420,1165 294,1029 136,761 209,873 421,1165 320,1083 119,740 346,1114 336,1112 167,806 412,1161 396,1150 240,934 276,996 238,919 374,1135 380,1141 248,929 433,1170 382,1143 119,728 238,924 166,803 348,1122 171,816 389,1147 428,1169 130,732 379,1137 122,730 308,1068 166,804 389,1146 176,812 376,1139 161,788 348,1121 420,1166 216,874 328,1102 281,1005 274,983 177,810 309,1056 360,1125 155,785 328,1097 178,823 225,895 210,870 276,1007 292,1030 368,1134 380,1140 251,971 145,756 421,1163 417,1164 227,885 262,974 271,984 306,1068 390,1145 383,1142 271,981 212,880 228,886 189,818 370,1132 155,788 213,873 226,898 278,988 177,809 124,745 347,1121 338,1109 428,1168 223,870 192,840 314,1080 257,964 401,1154 188,826 130,746 127,739 375,1136 255,938 315,1087 144,763 206,873 429,1170 281,992 171,801 266,984 221,894 124,732 256,943 328,1105 145,770 206,858 392,1148 427,1170 230,898 131,756 141,769 311,1070 265,975 202,852 241,926 344,1113 214,854 283,1014 154,780 424,1167 253,948 249,953 180,814 357,1126 291,1019 362,1128 343,1118 429,1169 222,893 124,748 259,962 258,961 162,793 260,983 273,993 141,765 225,905 134,745 128,740 290,1036 201,850 260,961 362,1128 413,1159 408,1157 172,825 175,809 208,856 189,820 287,1018 415,1161 397,1150 365,1126 263,963 302,1057 393,1148 129,749 307,1060 388,1146 151,778 422,1167 120,740 316,1079 196,843 344,1117 291,1021 359,1131 231,901 307,1063 344,1114 181,802 259,952 376,1138 291,1027 181,826 344,1114 328,1102 368,1133 272,996 140,760 279,1002 259,969 146,771 373,1136 207,857 187,824 350,1121 229,912 392,1148" fill="none" stroke="none" marker-start="url(#mb3)" marker-mid="url(#mb3)" marker-end="url(#mb3)"/>
<polyline points="135,763 199,856 257,974 149,777 376,1139 429,1171 399,1153 146,770 303,1071 414,1162 315,1096 181,823 162,810 335,1114 362,1129 309,1090 208,876 248,959 144,780 299,1068 270,1006 207,874 164,806 307,1085 301,1073 254,969 248,971 222,895 423,1167 298,1057 141,778 211,879 387,1146 188,833 282,1033 279,1029 244,943 190,845 200,877 206,883 204,872 122,740 330,1106 431,1172 228,916 376,1140 429,1170 192,863 317,1095 288,1042 179,826 129,755 140,770 395,1153 205,881 233,935 312,1084 216,894 364,1132 327,1107 272,996 410,1159 176,832 254,954 434,1172 360,1134 199,865 388,1149 120,751 165,801 210,878 186,843 193,862 317,1092 411,1161 220,909 383,1145 295,1045 226,906 340,1119 162,800 407,1159 225,908 372,1139 187,846 283,1041 290,1039 119,748 379,1142 402,1155 378,1137 220,904 124,744 151,789 190,845 131,754 128,754 397,1152 266,1005 409,1162 267,979 395,1151 411,1165 169,823 337,1119 370,1137 252,958 322,1094 315,1094 181,836 319,1087 331,1108 393,1148 140,778 180,821 356,1127 377,1139 216,884 327,1110 387,1146 413,1163 144,776 177,831 153,784 313,1086 197,869 213,878 420,1166 292,1037 337,1120 132,753 313,1085 417,1165 219,899 381,1145 209,873 162,799 306,1083 209,882 122,756 157,800 330,1112 218,899 227,918 311,1085 158,788 386,1147 423,1167 161,791 394,1154 284,1032 200,869 275,1014 429,1170 384,1144 196,849 305,1076 190,850 392,1149 146,784 417,1164 302,1056 318,1097 431,1171 406,1160 211,876 267,995 230,928 266,985 201,876 163,803 393,1149 192,841 369,1137 381,1145 393,1153 247,927 380,1140 400,1153 126,758 182,845 372,1139 268,997 427,1170 122,750 312,1089 323,1102 138,773 274,1012 312,1081 356,1130 123,755 200,861 169,822 270,1002 292,1052 337,1113 185,841 418,1166 216,881 403,1156 280,1022 409,1160 340,1118 253,963 313,1085 262,1000 207,870 293,1051 353,1129 171,798 338,1115 197,873 364,1136 325,1104 180,838 171,811 301,1054 207,885 410,1160 429,1169 138,759 155,796 409,1159 391,1150 179,826 416,1163 194,854 395,1149 430,1171 403,1158 285,1036 120,742 347,1122 285,1025 276,1002 251,956 232,928 140,772 418,1167 417,1166 249,941 213,890 293,1052 363,1127 194,837 163,795 390,1148 166,800 196,852 410,1163 330,1110 423,1166 193,853 149,784 366,1135 140,765 281,1019 405,1158 209,882 182,826 371,1137 116,747 352,1125 418,1165 359,1129 163,806 304,1074 217,875 314,1088 160,790 285,1032 316,1094 298,1054 142,775 192,852 151,779 394,1151 198,867 376,1141 217,889 132,764 411,1160 160,803 342,1120 166,806 357,1128 230,912 166,809 378,1142 195,854 155,791 285,1041 174,822 170,830 129,748 173,825 313,1081 395,1152 124,752 364,1131 431,1172 321,1097 221,909 309,1079 244,958 418,1165 427,1170 425,1168 364,1133 373,1139 291,1043 209,894 348,1122 331,1115 275,1006 159,801 223,911 228,916 287,1036 145,775 199,865 246,962 148,787 356,1127 271,1012 204,870 279,1026 241,932 222,910 354,1127 429,1171 214,889 402,1157 429,1169 424,1169 173,824 410,1162 264,980 155,788 327,1110 224,917 353,1125 311,1083 395,1151 186,813 360,1131 142,774 169,821 352,1127 417,1165 312,1092 180,842 153,795 325,1100 396,1151 305,1073 297,1058 291,1044 328,1109 198,871 232,916 190,851 375,1142 125,754 306,1075 175,819 424,1170 339,1116 177,832 303,1062 180,827 324,1100 382,1144 344,1125 268,983 330,1107 330,1110 300,1053 344,1123 328,1106 347,1124 259,986 376,1138 234,918 326,1104 300,1047 258,979 251,967 370,1137 245,943 209,874 311,1084 327,1104 304,1080 277,1016 353,1127 242,949 164,800 342,1119 377,1141 162,802 184,828 155,786 235,925 324,1101 123,755 182,824 211,896 350,1123 409,1160 424,1169 399,1155 162,788 285,1028 313,1084 353,1131 335,1111 291,1051 119,746 313,1090 156,795 347,1126 117,743 353,1125 389,1150 300,1055 342,1122 402,1155 411,1163 134,754 126,755 360,1130 298,1056 256,958 423,1168 420,1166 405,1158 188,842 187,826 171,811 285,1034 376,1140 199,858 165,808 237,930 397,1154 299,1061 341,1119 235,921 307,1084 223,902 402,1158 139,775 247,959 385,1147 234,914 408,1161 222,918 205,865 187,837 147,783 362,1132 237,922 204,873 283,1030 151,788 248,960 245,950 349,1121 139,770 158,786 231,936 288,1039 428,1171 402,1157 178,822 328,1104 321,1101 191,845 384,1144 353,1121 331,1114 218,899 133,769 243,941 376,1141 394,1149 359,1129 160,794 247,958 171,824 338,1115 160,786 253,981 135,762 222,906 395,1149 379,1141 313,1088 131,752 401,1154 145,779 130,759 154,788 206,879 396,1150 194,853 290,1035 145,785 320,1093 124,749 231,932 215,900 349,1126 181,828 122,753 171,816 154,794 381,1142 346,1122 422,1169 237,931 332,1111 263,991 259,985 248,954 245,958 367,1136 179,835 322,1101 286,1034 247,945 339,1119 270,998 333,1107 221,893 357,1130 195,860 139,773 158,794 258,972 242,938 204,875 406,1159 360,1133 408,1160 416,1166 264,989 287,1025 256,973 400,1154 176,835 294,1040 270,1007 333,1114 229,934 397,1152 278,1019 151,790 313,1085 195,852 422,1166 395,1153 247,966 188,845 328,1110 351,1123 151,783 353,1130 165,807 221,914 128,757 163,812 360,1130 378,1142 403,1158 347,1122 430,1173 224,890 196,862 280,1023 362,1130 353,1129 360,1128 264,995 225,911 329,1110 369,1137 141,773 348,1120 255,980 167,815 134,761 336,1112 352,1127 304,1061 282,1017 271,994 159,795 171,824 242,940 283,1034 352,1124 417,1165 380,1145 434,1173 250,961 427,1170 363,1131 147,780 135,765" fill="none" stroke="none" marker-start="url(#mb4)" marker-mid="url(#mb4)" marker-end="url(#mb4)"/>
<polyline points="135,769 262,994 355,1131 122,755 418,1166 235,928 176,832 243,958 281,1031 240,957 180,827 303,1075 298,1059 153,796 182,840 391,1151 136,767 129,756 318,1101 380,1144 299,1062 412,1164 304,1078 316,1084 415,1165 322,1105 359,1132 158,800 430,1171 200,882 120,756 222,921 177,825 166,826 208,883 222,918 147,785 186,850 218,900 199,878 387,1148 233,938 355,1131 293,1056 324,1105 258,995 315,1092 351,1128 427,1170 261,983 297,1063 226,917 290,1049 279,1035 223,920 333,1116 348,1125 122,751 182,837 168,825 216,903 408,1162 186,849 368,1137 181,842 334,1116 125,752 229,934 281,1032 334,1115 164,811 229,928 273,1015 199,871 134,770 180,832 208,892 412,1164 183,836 234,938 332,1114 405,1159 348,1126 232,932 373,1140 375,1140 134,767 427,1169 167,824 176,836 265,1006 282,1035 349,1128 247,960 160,810 283,1043 168,821 277,1032 172,825 154,801 367,1137 325,1107 335,1120 302,1076 268,997 284,1037 405,1158 278,1036 358,1132 310,1091 226,929 314,1092 332,1112 391,1150 141,780 266,1012 242,943 316,1099 376,1142 267,1004 330,1114 155,799 342,1121 134,764 281,1042 225,920 350,1127 200,875 160,804 393,1154 339,1118 210,900 361,1135 188,849 196,868 137,776 282,1038 304,1079 323,1104 429,1172 295,1061 337,1117 302,1071 409,1161 369,1136 383,1147 261,997 222,918 183,837 186,844 325,1105 263,988 228,931 301,1068 141,770 365,1135 308,1083 318,1101 174,836 412,1163 259,982 180,836 146,789 224,923 368,1139 259,987 149,795 221,921 208,881 338,1120 228,926 248,971 137,767 412,1164 234,930 239,946 141,780 230,927 274,1008 171,822 155,791 297,1055 427,1170 280,1038 336,1120 344,1124 279,1031 363,1135 210,889 138,777 331,1112 149,790 352,1130 381,1144 206,879 138,782 121,755 144,785 280,1024 277,1032 364,1133 234,932 350,1128 198,876 317,1101 127,748 226,922 247,966 431,1174 242,947 151,791 202,883 117,751 265,1007 233,941 203,878 401,1157 388,1148 135,770 293,1051 388,1148 273,1024 153,792 320,1102 384,1146 152,798 236,947 391,1151 414,1165 217,911 261,978 204,879 299,1057 393,1152 188,840 209,897 341,1121 286,1048 288,1047 365,1133 260,987 156,796 229,923 187,853 319,1105 124,761 220,912 268,1014 283,1046 182,841 157,796 320,1102 160,805 267,1010 358,1130 269,1003 303,1067 335,1117 219,907 149,786 143,785 189,854 120,755 378,1143 302,1073 162,806 364,1135 204,880 174,834 146,792 360,1133 300,1066 265,999 302,1076 342,1121 176,841 240,952 171,828 134,769 224,924 368,1137 315,1097 347,1126 213,904 349,1129 275,1021 221,918 300,1062 334,1117 378,1144 135,772 390,1150 132,753 285,1038 280,1026 172,831 364,1133 251,975 135,765 228,933 166,812 260,999 188,851 254,963 159,804 176,834 197,872 305,1080 391,1151 242,947 370,1139 172,836 381,1145 283,1035 420,1167 363,1135 122,759 384,1145 236,952 203,885 309,1089" fill="none" stroke="none" marker-start="url(#mb5)" marker-mid="url(#mb5)" marker-end="url(#mb5)"/>
<polyline points="130,768 415,1166 379,1142 235,941 430,1171 287,1046 177,838 166,823 417,1168 284,1041 336,1118 260,997 163,817 380,1145 215,900 223,908 202,883 400,1155 295,1060 193,868 274,1021 415,1166 177,839 250,976 413,1165 128,767 377,1142" fill="none" stroke="none" marker-start="url(#mb6)" marker-mid="url(#mb6)" marker-end="url(#mb6)"/>
<polyline points="190,872 233,959 195,890 182,879 281,1050 196,903 143,809 234,971 315,1102 305,1092 304,1085 197,881 241,976 333,1121 280,1048 182,854 169,844 252,987 290,1067 230,962 308,1093 256,997 347,1132 307,1091 259,1013 208,934 300,1080 299,1079 253,1007 354,1136 191,884 308,1096 238,962 168,859 213,912 333,1123 204,910 154,825 314,1106 140,824 232,963 143,819 252,993 250,1000 228,950 257,998 241,980 236,968 315,1103 245,986 151,840 147,830 346,1130 184,870" fill="none" stroke="none" marker-start="url(#mb7)" marker-mid="url(#mb7)" marker-end="url(#mb7)"/>
<polyline points="165,807 188,845 168,812 172,816 126,752 170,812 160,800 125,751 174,815 232,928 159,798 160,803 117,742 221,905 127,752 181,829 187,837 241,947 198,859 237,946 153,794 194,853 149,785 215,897 167,807 127,748 175,815 224,916 228,928 148,784 128,752 133,765 183,834 172,816 237,940 221,905 243,953 214,887 224,908 201,868 170,812 228,919 205,873 226,918 211,884 187,841 224,916 175,820 196,864 160,799 210,879 169,812 219,900 117,741 141,775 121,744 129,762 208,879 215,895 205,879 188,882 330,1120 188,895 284,1056 295,1074 343,1128 312,1101 229,965 327,1117 311,1098 168,873 289,1060 245,985 206,909 207,926 117,773 337,1126 291,1064 289,1059 128,807 220,946 331,1123 156,809 264,1018 167,859 165,854 263,1021 349,1133 348,1132 191,872 278,1044 212,940 214,921 162,820 229,956 292,1067 297,1077 151,807 312,1103 179,864 349,1134 219,936 130,810 171,878 252,1003 144,797 232,954 295,1075 193,895 275,1038 277,1044 269,1027 177,868 166,847 304,1086 145,823 190,894 127,788 300,1082 256,1003 169,872 150,813 205,907 141,806 281,1047 320,1110 117,782 242,971 125,790 246,986 126,784 304,1087 141,796 202,904 269,1024 158,825 261,1011 186,873 257,1011 156,828 145,805 128,791 229,966 347,1131 169,841 328,1118 302,1084 213,931 317,1105 302,1084 154,811 224,941 116,779 227,944 172,871 164,851 222,928 353,1134 321,1111 204,892 320,1109 326,1115 309,1095 138,786 217,929 298,1079 215,918 230,951 182,858 141,818 236,960 334,1123 259,1007 314,1103 304,1088 232,952 318,1107 242,973 345,1130 252,990 265,1024 162,847 340,1127 195,889 177,881 143,818 246,977 148,829 229,958 252,988 190,895 310,1100 288,1061 241,973 261,1011 235,974 334,1123 185,880 174,875 292,1065 271,1029 294,1074 116,779 206,907 316,1107 146,822 227,960 290,1066 278,1043 304,1089 305,1089 209,922 289,1064 168,854 251,1002 216,917 283,1052 139,823 235,958 124,778 339,1127 190,882 130,803 226,949 263,1022 312,1098 234,952 204,926 119,777 137,801 159,849 340,1127 139,819 244,986 144,816 137,797 311,1097 293,1072 139,811 246,991 327,1118 131,783 301,1080 202,907 328,1118 326,1116 213,917 295,1070 182,867 351,1136 198,896 337,1125 280,1048 346,1129 178,849 223,945 246,977 316,1104 320,1110 272,1037 124,804 156,847 312,1099 185,877 308,1097 353,1136 342,1129 154,841 272,1032 148,822 142,797 326,1116 187,903 296,1074 136,803 171,848 254,1001 182,874 147,804 215,927 239,980 227,957 230,961 242,969 279,1045 327,1118 327,1116 311,1101 250,999 239,965 199,917 173,847 169,862 155,833 331,1121 151,831 247,979 274,1039 272,1031 206,930 282,1052 123,767 153,826 289,1063 148,802 239,964 233,965 267,1029 174,859 237,967 153,808 346,1132 133,799 298,1076 285,1058 183,872 290,1067 182,870 275,1037 334,1122 226,948 118,767 127,776 172,859 301,1081 194,901 243,976 236,963 222,939 316,1104 185,893 200,905 186,874 226,955 334,1123 161,822 257,1004 289,1059 303,1088 226,954 248,988 228,953 254,997 123,790 290,1065 133,787 338,1126 216,945 221,943 180,864 290,1066 251,1002 222,935 327,1117 276,1042 161,850 317,1105 314,1103 169,860 236,971 233,954 159,843 121,776 218,937 256,1000 117,783 197,891 199,897 324,1114 255,1007 184,897 247,990 127,785 269,1030 333,1123 266,1019 324,1114 341,1127 230,964 240,979 201,897 161,830 241,980 265,1019 280,1047 239,969 201,909 127,784 137,819 317,1105 123,802 178,860 187,879 325,1115 313,1102 164,858 230,946 218,929 161,830 150,821 208,904 277,1042 301,1083 286,1059 277,1045 148,817 142,793 279,1046 336,1125 354,1135 168,850 179,871 181,851 294,1073 341,1128 239,970 322,1114 314,1100 346,1131 316,1106 277,1042 230,956 320,1110 294,1073 188,864 154,815 232,955 164,865 140,805 272,1028 340,1128 124,806 311,1102 253,996 321,1110 254,1005 300,1079 116,774 233,948 337,1123 281,1048 330,1120 334,1123 169,859 303,1087 329,1121 329,1120 170,851 223,949 143,795 329,1121 267,1021 207,930 156,838 244,974 234,954 268,1023 144,797 353,1135 228,952 261,1006 240,964 145,804 233,964 250,983 135,788 341,1128 212,928 156,842 179,891 234,973 323,1114 123,803 213,943 146,822 124,775 274,1035 303,1086 255,995 319,1109 182,877 255,1006 151,805 323,1112 246,977 328,1119 264,1024 226,954 255,998 202,906 330,1122 188,881 253,998 185,863 327,1116 274,1039 134,803 328,1119 331,1121 163,841 342,1128 325,1116 341,1127 254,998 289,1063 254,999 256,998 149,806 291,1064 309,1095 159,845 227,957 275,1036 227,936 242,973 314,1106 184,882 343,1128 272,1032 289,1064 273,1034 290,1062 218,948 118,779 180,869 326,1116 346,1131 148,801 319,1109 152,817 141,796 255,1007 149,820 353,1135 301,1080 239,969 195,915 321,1111 234,970 331,1120 138,797 342,1128 172,844 184,879 265,1019 202,906 329,1120 211,933 198,890 135,810 149,805 287,1061 166,846 286,1058 203,908 193,874 264,1018 159,845 204,913 206,931 196,904 139,818 318,1109 268,1023 170,868 312,1103 205,906 283,1055 217,917 219,939 221,946 159,839 234,963 249,990 181,857 177,858 337,1125 277,1041 178,890 312,1102 204,929 331,1121 149,825 166,842 135,795 324,1114 211,923 150,839 169,853 264,1016 211,935 308,1096 236,961 248,981 315,1104 214,921 128,773 326,1117 308,1094 269,1028 271,1031 331,1121 145,820 241,973 342,1128 318,1108 271,1033 238,970 170,854 309,1099 225,937 301,1080 291,1061 324,1114 331,1122 325,1116 323,1114 127,778 131,799 205,902 256,1010 327,1116 278,1046 142,803 128,781 324,1115 320,1109 305,1089 345,1130 207,920 219,924 217,922 263,1020 149,827 333,1122 247,992 244,985 211,943 336,1125 309,1099 253,995 163,851 250,983 138,785 302,1084 196,898 292,1070 202,916 170,866 221,927 177,869 153,817 161,846 188,865 207,928 160,822 225,940 135,805 138,802 309,1096 330,1121 155,836 127,789 261,1007 129,791 334,1122 295,1069 138,793 249,988 217,924 147,827 319,1108 261,1015 303,1087 285,1056 172,876 248,995 239,976 133,798 171,858 179,876 169,870 270,1031 121,793 250,988 224,947 168,866 283,1049 163,834 337,1124 164,833 237,972 280,1050 176,864 344,1130 349,1133 239,980 254,997 254,1006 202,908 270,1025 321,1111 227,964 351,1134 247,991 211,909 132,806 277,1042 316,1104 259,1015 299,1076 342,1128 149,833 206,906 264,1020 276,1042 223,940 249,986 143,798 185,862 195,897 339,1127 318,1107 339,1126 281,1046 202,897 166,868 260,1011 204,917 170,868 147,810 316,1106 150,836 194,908 229,963 222,940" fill="none" stroke="none" marker-start="url(#mb8)" marker-mid="url(#mb8)" marker-end="url(#mb8)"/>
<polyline points="334,1125 148,831 133,809 176,846 308,1096 122,774 310,1097 156,830 134,788 346,1131 347,1132 200,913 224,952 264,1013 168,843 213,945 219,930 218,950 336,1125 164,834 232,964 149,806 221,932 220,949 132,801 186,900 312,1100 210,906 177,873 156,833 134,812 284,1055 347,1133 327,1117 141,809 183,865 346,1130 354,1134 169,853 336,1125 152,806 185,870 169,856 236,971 225,955 351,1132 308,1097 130,787" fill="none" stroke="none" marker-start="url(#mb9)" marker-mid="url(#mb9)" marker-end="url(#mb9)"/>
<polyline points="142,795 149,809 130,777 163,834 134,784 144,802 156,821 128,771 172,849 133,783 154,816 131,778 154,818 158,825 140,793 145,802 161,833 168,843 128,771 155,819 132,780 153,817 126,767 147,802 160,828 167,837 157,824 159,825 258,1020 185,925 220,960 210,950 185,916 304,1093 263,1027 298,1085 180,906 117,835 131,828 298,1084 184,906 229,984 183,922 139,843 137,855 223,976 142,858 122,820 171,885 124,836 120,810 117,807 151,873 255,1014 220,962 121,836 263,1028 291,1073 121,836 212,956 246,1000 221,964 243,997 268,1034 260,1022 248,1003 150,873 302,1091 131,825 200,942 172,904 139,840 208,952 263,1027 211,953 308,1103 162,890 305,1096 207,953 244,999 159,880 172,892 163,889 151,881 159,861 219,960 129,823 203,949 235,991 203,946 181,919 204,948 242,997 134,856 148,849 219,959 186,913 251,1004 202,933 216,967 117,827 124,813 198,942 242,991 181,922 215,953 292,1076 124,818 144,837 247,1000 149,872 122,820 167,882 251,1007 297,1083 121,817 146,857 264,1029 148,867 210,957 220,962 291,1073 241,994 208,960 243,996 307,1101 158,878 153,887 160,873 135,825 150,854 138,834 152,872 294,1079 307,1100 216,954 213,961 178,898 148,879 163,870 203,942 166,892 247,1002 292,1074 257,1017 137,827 135,855 244,994 130,825 298,1083 154,852 182,901 156,870 203,947 130,836 119,832 143,865 208,960 252,1008 152,883 165,880 297,1083 302,1091 129,848 194,929 251,1006 263,1026 149,844 118,826 229,984 253,1011 260,1022 133,852 267,1031 258,1019 139,833 239,991 173,896 224,969 144,868 206,942 160,868 176,911 162,886 236,987 194,934 190,923 173,908 124,825 168,885 178,900 152,871 185,920 184,909 126,831 159,873 220,964 148,868 304,1095 175,907 206,941 176,915 155,861 294,1078 294,1077 219,966 228,978 190,916 225,977 264,1029 294,1079 232,979 159,860 291,1073 179,902 304,1095 293,1077 235,980 147,873 218,958 179,906 225,971 217,965 253,1010 239,990 301,1090 302,1092 181,904 150,847 305,1097 170,890 208,957 177,917 258,1018 143,845 229,981 298,1085 187,915 180,906 216,966 257,1020 244,997 226,979 170,898 210,954 225,967 186,927 129,834 157,865 170,884 223,966 156,869 215,956 164,887 250,1004 260,1022 219,962 292,1074 188,922 219,973 304,1095 248,1003 146,875 307,1099 217,955 301,1088 124,839 303,1091 179,908 183,919 263,1026 200,940 305,1095 238,989 168,888 176,905 293,1077 207,947 264,1029 230,981 139,834 252,1011 246,998 265,1028 189,916 177,913 236,984 138,849 252,1008 193,925 198,941 166,897 117,806 291,1073 306,1097 216,956 251,1007 189,925 267,1032 242,994 302,1092 209,957 164,880 267,1033 238,988 204,951 132,829 150,860 143,836 266,1032 264,1026 167,895 305,1093 156,878 254,1013" fill="none" stroke="none" marker-start="url(#mb12)" marker-mid="url(#mb12)" marker-end="url(#mb12)"/>
<polyline points="380,1163 350,1144 307,1103 253,1033 305,1109 255,1053 300,1120 424,1178 245,1029 331,1143 402,1168 392,1162 278,1074 300,1105 432,1181 167,952 402,1170 359,1148 189,960 392,1162 134,875 214,1005 395,1164 232,1002 423,1180 152,916 423,1180 320,1134 167,913 338,1138 262,1044 272,1046 132,901 229,989 237,1023 407,1171 314,1129 185,958 269,1069 384,1157 406,1170 212,995 254,1039 280,1064 360,1149 330,1144 163,923 135,896 200,978 346,1140 188,956 154,905 428,1180 321,1128 260,1029 175,963 428,1181 287,1095 293,1082 325,1139 382,1156 196,965 414,1175 151,889 373,1155 240,1011 394,1163 191,975 347,1142 314,1128 137,889 285,1089 118,890 157,900 327,1131 158,899 365,1155 207,976 179,953 261,1033 204,959 369,1157 230,1002 136,916 422,1179 228,1017 395,1168 136,882 198,990 233,1017 309,1121 124,866 388,1158 177,939 349,1143 427,1179 396,1164 224,1009 301,1098 265,1043 335,1141 247,1039 264,1054 141,912 178,927 140,904 349,1150 353,1145 271,1045 394,1165 191,955 276,1074 311,1124 126,882 240,1020 421,1179 137,865 315,1122 253,1033 252,1036 265,1040 318,1120 288,1082 264,1064 148,895 135,902 384,1164 404,1170 248,1013 152,911 433,1183 270,1076 392,1166 292,1103 137,903 329,1142 159,940 182,959 186,955 269,1071 131,872 216,1002 412,1174 337,1137 121,856 382,1156 386,1159 250,1011 147,914 208,980 246,1028 137,874 212,993 375,1158 341,1143 295,1089 137,871 154,919 356,1151 236,1025 374,1154 291,1107 248,1025 308,1124 255,1029 365,1147 232,1006 245,1019 120,893 414,1175 249,1015 271,1045 195,956 329,1141 195,954 397,1165 277,1064 416,1177 367,1149 188,941 283,1084 330,1132 378,1159 172,946 359,1145 117,846 119,850 245,1030 330,1135 223,983 312,1117 130,864 242,1029 401,1169 370,1157 426,1180 217,987 310,1131 430,1180 214,977 228,996 132,864 397,1167 289,1099 365,1149 399,1170 163,942 207,988 426,1180 391,1160 324,1126 375,1155 244,1025 247,1037 381,1162 166,926 314,1114 325,1129 344,1148 183,946 350,1145 245,1035 300,1102 316,1122 396,1168 202,974 211,995 327,1138 177,955 404,1174 147,890 320,1120 294,1113 377,1152 173,928 281,1093 361,1150 370,1154 296,1093 236,1023 205,969 161,911 222,1013 279,1073 190,980 270,1046 168,914 231,1016 238,1000 227,1006 126,889 294,1096 305,1127 269,1052 154,899 176,924 258,1049 306,1127 169,919 348,1147 278,1069 249,1046 308,1109 276,1071 147,893 375,1163 136,862 432,1180 325,1132 209,988 186,961 399,1166 303,1118 299,1090 199,958 154,920 324,1126 280,1067 342,1145 252,1015 433,1182 423,1180 199,956 274,1066 231,1012 391,1161 203,978 246,1037 210,1001 323,1122 338,1146 366,1147 306,1124 209,975 390,1160 213,1009 194,981 129,889 141,912 254,1021 195,949 128,888 144,888 317,1119 242,1010 348,1144 157,892 334,1133 395,1167 226,1017 159,920 234,1010 284,1083 140,872 348,1151 162,942 338,1146 409,1175 217,1001 266,1061 194,976 137,871 145,907 366,1147 424,1179 164,946 209,978 148,932 378,1161 419,1179 228,997 249,1031 387,1161 235,1009 168,907 316,1130 269,1052 219,1007 148,925 205,970 360,1146 176,928 331,1135 313,1116 243,1042 278,1066 149,931 272,1052 140,880 132,888 150,925 248,1044 136,890 297,1094 301,1113 367,1152 120,896 222,1011 145,888 147,913 357,1142 266,1049 376,1150 378,1153 172,940 391,1161 333,1132 282,1076 189,944 382,1155 340,1149 264,1055 351,1147 261,1059 347,1150 257,1024 312,1118 165,948 342,1149 242,1010 248,1042 251,1020 374,1152 374,1155 138,897 377,1154 319,1119 357,1152 298,1113 297,1094 404,1169 368,1156 230,1014 192,977 381,1165 141,871 229,998 420,1179 184,965 332,1145 149,897 313,1130 146,927 154,936 252,1044 143,920 422,1178 399,1167 140,920 191,981 194,969 260,1049 242,1036 385,1160 148,904 140,911 411,1174 340,1145 389,1166 418,1179 218,984 134,870 392,1161 221,998 288,1094 357,1146 329,1143 157,927 235,1008 352,1150 400,1168 374,1156 222,990 271,1048 292,1102 355,1149 409,1176 260,1062 410,1174 198,956 145,899 165,924 318,1117 181,960 226,1006 239,1030 270,1068 174,935 373,1161 345,1149 212,971 175,952 343,1137 227,993 251,1017 145,913 319,1131 119,889 209,998 203,982 216,1000 321,1140 347,1143 152,918 396,1168 409,1175 213,997 330,1138 273,1067 173,922 217,1001 399,1166 132,867 347,1144 393,1165 205,967 228,995 217,1009 201,986 201,965 245,1021 261,1041 126,852 381,1159 149,887 212,969 269,1054 153,934 344,1143 321,1126 316,1120 410,1178 394,1162 341,1144 206,965 361,1149 295,1109 235,1010 426,1181 275,1059 264,1061 337,1137 307,1112 418,1179 140,894 434,1184 317,1129 374,1156 362,1153 124,877 203,980 190,948 261,1043 391,1164 427,1182 338,1146 140,911 427,1181 327,1128 328,1127 209,984 277,1064 180,931 256,1035 161,902 304,1110 131,903 270,1074 235,1014 198,977 281,1092 390,1166 287,1087 300,1111 429,1180 131,875 238,1025 415,1175 171,922 167,910 390,1164 199,988 260,1029 131,889 177,946 422,1178 223,996 286,1100 380,1156 313,1114 398,1171 142,900 410,1176 163,948 409,1175 234,1015 338,1144 398,1171 204,987 342,1142 205,984 223,1008 287,1094 291,1079 132,857 317,1131 186,940 426,1180 176,936 211,969 146,912 154,893 278,1077 228,1020 276,1052 363,1154 347,1147 218,983 197,971 341,1139 387,1165 381,1160 333,1134 266,1059 118,856 341,1142 215,995 272,1053 352,1150 168,946 157,931 394,1169 198,968 395,1162 197,972 396,1165 218,992 185,930 327,1140 200,977 257,1037 381,1154 251,1042 217,982 344,1138 382,1160 359,1146 250,1035 195,964 299,1118 384,1155 235,1028 359,1150 276,1086 313,1126 201,973 138,884 285,1069 393,1167 120,870 122,879 344,1144 270,1068 399,1167 273,1074 406,1172 249,1047 220,986 176,929 212,976 218,1004 149,891 182,973 203,968 192,970 334,1131 345,1146 429,1182 217,1012 354,1143 392,1165 124,885 177,925 287,1079 290,1079 179,969 182,936 308,1107 210,1001 216,977 299,1108 360,1155 232,1010 153,935 219,994 122,853 335,1134 323,1129 234,1012 363,1153 290,1085 216,979 279,1083 257,1052 278,1063 284,1071 257,1026 182,954 377,1157 207,990 191,977 319,1121 312,1110 339,1135 239,1025 239,1029 411,1174 124,868 193,970 257,1059 191,945 116,855 234,1000 276,1068 249,1010 331,1133 137,918 370,1153 125,875 384,1159 351,1149 389,1160 412,1176 197,959 336,1137 213,997 373,1155 377,1155 314,1121 270,1045 187,969 425,1181 138,894 141,900 306,1113 125,885 360,1144 353,1143 201,992 395,1171 312,1115 369,1155 298,1111 413,1174 124,871 406,1171 424,1179 331,1143 145,882 249,1012 345,1143 416,1178 204,996 250,1023 225,999 232,1019 291,1081 206,963 389,1160 392,1168 380,1163 309,1119 185,959 204,979 423,1180 340,1146 385,1162 281,1088 384,1162 309,1110 341,1139 138,880 198,952 155,939 353,1142 387,1157 166,919 153,914 222,981 374,1153 264,1057 387,1158 373,1151 336,1144 122,852 164,948 381,1154 336,1139 364,1152 284,1080 190,942 260,1036 365,1157 399,1171 201,973 209,966 264,1044 183,965 334,1137 275,1074 349,1142 217,976 166,924 145,930 249,1027 256,1032 145,912 147,910 388,1158 245,1039 195,968 345,1140 334,1143 269,1065 291,1082 263,1067 210,1001 140,882 304,1105 301,1101 400,1171 398,1165 388,1159 432,1181 287,1093 239,1005 225,1009 172,935 135,906 398,1172 230,1024 297,1093 252,1032 212,1000 288,1085 420,1179 313,1125 248,1012 200,983 194,961 231,998 280,1064 306,1124 119,846 348,1140 291,1086 162,900 150,892 297,1109 127,879 426,1181 352,1151 200,958 169,931 370,1152 197,986 253,1050 184,941 434,1181 345,1144 285,1079 339,1146 262,1053 395,1163 124,878 422,1181 405,1171 351,1147 292,1084 335,1137 305,1123 203,958 405,1174 175,926 355,1149 222,981 212,972 177,926 390,1164 254,1035 357,1144 155,937 269,1051 282,1071 168,917 188,951 126,852 302,1109 159,903 255,1035 126,887 423,1179 239,1035 411,1177 347,1144 326,1133 423,1182 318,1136 122,866 395,1165 346,1146 189,959 231,992 384,1165 149,900 144,890 369,1156 164,918 401,1169 404,1171 171,914 309,1124 349,1146 222,1004 342,1138 406,1174 393,1168 142,924 240,1000 280,1069 124,887 281,1083 369,1154 326,1129 186,963 221,988 163,909 159,911 223,1003 190,938 270,1060 168,925 123,868 190,939 194,958 427,1180 357,1146 176,927 227,1018 232,990 420,1178 378,1159 139,901 344,1150 325,1132 319,1123 379,1163 289,1089 389,1159 335,1145 233,1014 377,1152 124,863 246,1011 309,1130 137,875 260,1034 380,1159 365,1155 315,1132 327,1140 228,1007 176,930 158,905 243,1033 285,1095 128,858 304,1120 316,1136 429,1182 164,947 120,845 382,1163 372,1155 369,1155 361,1151 333,1140 375,1157 224,985 412,1177 408,1173 272,1075 371,1156 399,1170 347,1147 133,890 150,889 370,1150 288,1082 382,1161 242,1006 204,964 167,950 365,1147 355,1143 177,938 177,957 316,1135 147,916 222,1016 219,1001 418,1179 260,1031 144,893 182,931 164,903 155,939 304,1103 408,1171 263,1041 183,964 392,1162 361,1144 279,1073 139,917 400,1167 317,1115 164,923 262,1058 147,902 368,1158 153,927 127,882 192,979 344,1145 295,1109 363,1155 409,1176 134,875 297,1091 240,1009 360,1145 219,1007 355,1150 349,1147 431,1182 246,1025 426,1181 181,949 203,983 423,1178 216,983 242,1016 310,1125 271,1052 176,932 267,1042 231,1017 132,878 126,875 138,889 300,1122 289,1101 126,902 385,1159 346,1139 377,1160 289,1084 248,1046 418,1180 227,1014 249,1041 360,1144 390,1165 282,1068 240,1006 317,1121 407,1171 338,1134 207,993 164,913 298,1102 212,1004 120,890 366,1154 341,1133 418,1177 244,1028 144,900 166,935 215,995 148,935 125,872 326,1128 385,1161 242,1010 242,1037 288,1091 144,880 145,900 384,1157 427,1181 424,1180 399,1167 334,1135 195,977 211,980 431,1182 263,1064 424,1179 286,1076 375,1162 413,1177 272,1061 213,998 216,995 153,920 291,1106 173,949 145,897 233,1025 199,989 335,1135 255,1039 294,1092 150,901 344,1146 294,1104 356,1144 248,1018 169,910 177,954 392,1169 408,1172 299,1106 134,907 363,1152 281,1079 119,873 340,1144 228,1001 385,1165 363,1149 388,1164 158,942 219,987 305,1109 187,974 346,1137 295,1100 261,1036 291,1099 397,1171 368,1153 281,1071 217,977 375,1154 278,1079 135,888 371,1148 427,1181 369,1159 229,1007 352,1150 344,1139 169,946 222,1006 351,1146 258,1049 302,1121 299,1102 389,1162 257,1047 198,964 123,853 137,882 171,912 371,1158 402,1172 235,1015 167,908 405,1171 175,919 332,1137 215,994 131,879 273,1050 341,1147 379,1163 301,1115 366,1153 241,1018 140,886 242,1012 218,1000 226,1000 351,1150 309,1109 251,1034 183,955 186,936 265,1048 158,914 399,1169 125,884 337,1138 159,926 268,1071 116,850 154,935 255,1018 223,981 361,1157 410,1178 425,1179 339,1143 281,1076 302,1115 286,1081 211,998 186,937 218,996 283,1076 217,986 242,1001 423,1180 126,900 394,1161 227,1016 297,1115 405,1169 289,1084 209,979 280,1076 407,1174 235,1008 166,917 421,1180 247,1028 228,987 320,1128 284,1080 313,1126 391,1167 310,1126 293,1088 242,1008 408,1175 149,900 326,1126 323,1137 325,1129 265,1050 343,1136 230,1013 353,1151 119,866 276,1053 403,1173 263,1034 277,1059 136,917 132,862 119,895 125,878 300,1096 143,895 165,909 178,956 396,1167 227,1005 314,1125 408,1172 157,914 381,1162 365,1147 257,1044 358,1144 253,1035 116,846 164,909 321,1128 391,1168 263,1063 353,1141 297,1095 348,1140 151,934 223,1000 123,853 126,893 383,1165 152,932 168,949 428,1181 249,1035 249,1014 182,966 157,897 185,946 348,1147 180,964 120,878 213,1008 428,1181 352,1144 307,1113 296,1086 378,1155 249,1024 123,896 272,1076 341,1147 374,1153 136,908 355,1146 173,930 189,938 408,1171 308,1115 307,1112 357,1147 362,1144 356,1147 173,926 176,962 281,1075 268,1055 371,1158 321,1131 342,1138 187,972 174,953 298,1098 313,1128 368,1149 232,1019 167,947 298,1121 209,990 424,1180 274,1068 315,1118 378,1153 176,922 395,1164 266,1067 167,947 397,1167 157,922 296,1112 332,1132 153,929 308,1124 209,985 210,996 422,1179 157,927 152,909 297,1087 256,1054 329,1129 384,1161 129,896 285,1076 295,1091 250,1026 152,912 288,1074 309,1127 167,935 234,998 236,1009 329,1129 340,1136 187,958 368,1156 394,1166 280,1076 320,1133 332,1137 405,1170 348,1149 142,886 254,1028 307,1119 191,942 350,1140 360,1151 203,958 289,1099 171,928 241,1029 429,1181 307,1120 301,1106 258,1040 346,1151 265,1065 404,1169 248,1045 432,1182 307,1123 427,1181 171,914 142,871 183,956 228,990 175,959 261,1034 242,1034 282,1092 243,1039 301,1097 405,1170 216,1001 297,1114 402,1171 328,1139 217,1008 317,1137 341,1138 309,1117 262,1053 213,1006 380,1164 164,913 330,1139 303,1112 355,1142 408,1173 372,1155 426,1181 181,960 180,968 340,1143 341,1138 191,968 192,983 329,1132 368,1154 389,1161 264,1068 179,935 339,1133 368,1149 187,967 194,961 234,1015 258,1041 195,984 367,1149 392,1167 389,1164 333,1129 352,1149 184,966 326,1131 315,1131 194,948 416,1177 409,1174 234,1013 221,989 330,1139 236,1024 369,1151 382,1160 148,912 296,1117 287,1090 337,1134 185,939 222,987 393,1165 127,851 414,1177 239,1032 429,1181 205,968 370,1154 158,930 153,919 174,928 315,1125 371,1151 418,1176 249,1023 272,1072 125,897 155,941 185,940 393,1165 226,990 180,956 363,1156 204,985 266,1060 379,1159 255,1037 292,1107 333,1141 199,989 341,1145 123,865 168,921 193,965 247,1015 336,1146 323,1128 199,971 323,1128 132,873 185,938 362,1154 356,1150 363,1149 424,1179 211,976 294,1100 186,941 423,1179 365,1152 429,1180 265,1068 263,1067 346,1146 119,856 147,914 228,1004 268,1047 228,1017 321,1119 306,1104 351,1147 371,1157 134,869 165,947 411,1174 219,1001 347,1142 199,959 283,1073 140,897 217,1002 312,1124 352,1150 123,890 214,994 118,887 225,1003 432,1183 154,921 349,1149 125,857 197,977 250,1020 367,1148 337,1134 432,1182 282,1075 209,992 181,958 183,933 179,925 253,1040 288,1087 165,922 318,1126 421,1179 255,1022 360,1146 286,1080 194,958 299,1095 122,867 357,1152 234,1005 116,876 120,864 258,1046 133,912 173,946 338,1139 144,911 282,1068 266,1040 227,1008 372,1158 121,890 306,1118 161,929 179,943 264,1046 418,1177 395,1167 189,945 289,1092 240,1031 258,1059 283,1096 311,1123 199,957 376,1151 277,1071 129,895 301,1102 345,1139 123,890 208,973 159,916 405,1172 169,943 208,973 248,1030 338,1141 375,1153 173,926 401,1168 396,1167 418,1177 219,997 254,1036 164,923 260,1047 284,1095 257,1026 311,1126 126,853 416,1176 231,996 192,979 116,869 389,1165 202,980 212,992 394,1162 132,903 223,991 324,1131 235,1013 212,991 250,1011 143,915 334,1139 299,1111 339,1143 335,1145 393,1168 318,1124 241,1008 251,1013 329,1135 409,1172 411,1173 412,1176 244,1012 136,907 264,1044 141,904 407,1173 380,1159 244,1024 222,991 364,1147 127,893 167,918 305,1125 327,1133 308,1108 214,977 182,949 249,1009 288,1104 362,1145 136,913 418,1177 297,1093 155,937 293,1107 191,969 246,1025 167,943 342,1145 202,980 132,899 201,958 200,965 353,1146 312,1120 252,1022 138,895 169,912 369,1150 263,1036 291,1106 417,1177 278,1069 304,1119 219,1001 156,899 313,1115 213,982 266,1060 291,1095 373,1150 422,1181 379,1158 348,1141 148,918 369,1150 175,926 226,1005 428,1181 406,1171 323,1126 289,1081 360,1149 197,968 390,1165 234,1000 243,1033 260,1043 261,1040 169,936 232,1024 381,1163 384,1164 211,1005 183,935 293,1112 342,1136 336,1132 172,936 314,1133 349,1147 227,995 327,1134 219,990 390,1168 303,1104 121,895 198,969 224,994 414,1178 352,1152 255,1037 293,1111 409,1173 312,1125 430,1181 232,1016 300,1122 288,1086 261,1037 428,1181 253,1021 117,854 119,859 401,1171 135,905 406,1170 255,1048 188,962 416,1178 170,943 297,1087 318,1128 282,1088 373,1158 214,1006 363,1154 119,879 384,1164 147,917 124,902 387,1165 180,933 127,871 256,1024 369,1156 267,1056 330,1130 179,958 154,910 346,1142 302,1108 267,1063 189,970 208,1001 344,1142 134,900 297,1096 297,1112 297,1111 116,866 407,1174 225,1014 388,1160 397,1172 142,870 412,1175 164,944 390,1167 318,1128 180,932 337,1144 363,1151 376,1159 310,1117 199,988 335,1134 164,908" fill="none" stroke="none" marker-start="url(#mb16)" marker-mid="url(#mb16)" marker-end="url(#mb16)"/>
</g>
<g clip-path="url(#cbR)">
<polyline points="796,857 652,1023 541,1140 694,972 795,869 528,1147 533,1143 653,1033 525,1148 574,1117 751,902 769,881 546,1139 720,935 715,944 574,1118 751,913 648,1030 730,934 636,1037 557,1134 750,902 790,856 540,1141 566,1128 591,1092 699,975 779,872 657,1015 563,1130 705,961 558,1134 760,896 600,1083 583,1102 742,914 506,1155 511,1154 549,1136 653,1021 524,1148 623,1053 770,881 760,897 651,1026 689,978 701,958 762,887 647,1029 750,904 775,875 609,1074 569,1124 667,1013 743,918 533,1143 521,1149 644,1034 649,1035 497,1162 673,1001 718,941 732,929 741,906 723,934 760,906 631,1043 633,1040 499,1157 518,1151 593,1089 545,1140 537,1141 555,1134 709,951 637,1037 656,1020 750,899 710,953 624,1056 554,1135 645,1030 552,1136 724,932 721,941 507,1153 778,869 739,912 741,916 724,934 729,922 694,971 610,1068 716,952 587,1095 698,968 619,1062 751,899 668,1009 718,954 780,864 556,1132 766,896 632,1043 705,961 559,1132 571,1121 658,1022 662,1011 742,911 600,1078 793,864 682,990 773,874 765,892 527,1146 730,922 709,951 497,1161 564,1129 570,1123 738,912 599,1081 717,950 567,1125 794,856 500,1160 690,980 654,1024 509,1153 514,1152 607,1071 643,1032 727,932 650,1026 564,1129 511,1154 684,989 697,976 673,1001 751,908 702,966 780,858 498,1160 537,1141 515,1151 506,1156 793,852 537,1142 535,1141 646,1031 663,1018 752,901 547,1137 756,902 634,1043 546,1138 676,997 774,872 531,1145 682,988 685,984 725,937 527,1146 635,1041 508,1153 790,852 585,1099 506,1155 548,1137 650,1028 532,1142 560,1129 710,952 677,993 542,1140 497,1161 582,1105 591,1091 507,1154 721,943 517,1150 523,1147 540,1141 763,894 791,848 506,1156 532,1144 535,1142 634,1041 766,889 692,979 658,1025 512,1152 511,1153 508,1153 704,965 498,1161 578,1111 666,1007 498,1160 777,862 743,912 615,1061 704,955 591,1092 792,848 726,936 684,983 780,863 722,939 697,970 679,999 606,1072 529,1146 523,1148 650,1025 539,1141 620,1058 540,1141 730,920 564,1129 553,1136 739,908 500,1160 582,1106 696,969 600,1083 752,899 768,891 778,874 503,1157 507,1155 611,1068 792,854 702,965 705,964 759,890 565,1128 552,1135 744,908 589,1096 673,1001 639,1045 782,862 748,899 498,1159 734,921 517,1151 709,964 653,1020 784,871 776,872 515,1152 556,1133 550,1137 633,1038 506,1156 637,1043 654,1027 628,1045 784,857 543,1139 500,1159 702,968 732,919 615,1063 777,872 793,856 594,1085 512,1153 672,1009 611,1065 574,1117 776,866 696,970 503,1157 663,1015 501,1159 632,1050 755,899 558,1133 561,1130 493,1162 683,984 671,1004 619,1057 553,1134 717,938 784,867 544,1138 523,1150 661,1015 528,1145 634,1038 669,1005 585,1098 733,916 717,941 721,940 711,949 683,987 757,909 560,1131 782,856 646,1030 524,1147 510,1153 591,1092 643,1032 740,909 514,1152 672,1007 699,965 494,1163 708,960 624,1052 750,905 632,1046 732,935 588,1094 497,1161 708,953 693,975 576,1113 554,1134" fill="none" stroke="none" marker-start="url(#mb0)" marker-mid="url(#mb0)" marker-end="url(#mb0)"/>
<polyline points="681,1001 658,1018 752,918 661,1022 709,970 696,986 584,1103 616,1065 689,986 621,1062 790,863 498,1161 780,859 631,1053 743,919 569,1125 499,1160 600,1080 707,966 521,1148 723,935 518,1150 574,1117 741,932 543,1140 773,887 512,1154 664,1019 588,1097 784,884 682,995 723,945 707,955 765,899 533,1143 714,952 763,906 516,1151 708,953 651,1032 688,988 691,983 677,1002 766,900 764,894 639,1047 524,1148 761,904 732,934 789,871 781,881 663,1019 691,973 522,1149 531,1144 651,1038 682,988 657,1030 538,1140 540,1141 764,913 601,1080 569,1123 561,1131 599,1084 541,1141 623,1059 574,1116 678,994 697,975 511,1152 777,882 699,978 550,1137 784,870 795,863 563,1131 566,1128 665,1015 501,1158 683,993 622,1053 633,1040 741,925 567,1128 761,901 670,1021 574,1119 635,1048 550,1137 603,1081 755,918 548,1138 765,902 786,870 580,1109 704,975 753,914 792,874 628,1055 535,1143 755,915 793,861 671,1010 654,1033 620,1066 714,966 727,939 668,1017 633,1054 552,1136 609,1067 751,911 630,1053 779,888 556,1132 540,1141 688,997 546,1139 709,969 700,967 514,1151 667,1023 746,927 595,1085 709,957 648,1032 674,1012 530,1146 709,977 730,938 671,1014 757,890 495,1162 545,1140 631,1047 576,1115 692,972 775,886 785,868 725,931 616,1063 727,947 752,915 727,930 723,945 642,1042 758,893 575,1116 746,910 786,881 581,1110 596,1086 522,1150 600,1082 652,1040 526,1148 641,1036 599,1083 689,986 746,914 736,925 728,932 520,1149 614,1075 727,936 735,934 515,1151 650,1029 717,953 643,1035 609,1073 759,889 665,1019 645,1031 544,1139 673,1019 601,1083 781,878 527,1146 658,1017 592,1097 690,977 775,887 708,963 590,1092 779,887 653,1027 720,948 613,1066 767,899 664,1009 529,1146 732,935 565,1129 626,1058 668,1015 633,1053 668,1011 758,902 651,1036 527,1146 750,908 649,1035 675,1009 525,1148 739,912 691,993 558,1134 781,881 734,933 753,917 794,857 549,1139 517,1151 598,1081 633,1041 768,884 766,898 778,879 537,1143 575,1116 745,909 796,873 715,967 716,942 797,863 601,1083 535,1144 722,954 566,1129 714,951 679,1000 751,914 786,866 714,959 733,921 528,1145 712,955 720,952 508,1155 593,1093 606,1079 522,1150 518,1148 566,1127 525,1148 494,1164 505,1155 562,1132 552,1135 711,959 694,984 789,876 507,1155 740,914 671,1013 604,1078 760,904 730,933 544,1139 680,995 575,1113 615,1063 795,853 750,923 682,1001 747,907 789,861 543,1139 607,1072 727,942 785,866 508,1154 723,933 600,1084 648,1031 713,961 577,1114 650,1028 662,1024 726,944 607,1073 744,926 649,1038 712,950 778,887 783,879 559,1132 686,995 520,1149 549,1138 564,1130 552,1135 556,1134 682,993 790,860 729,940 527,1146 673,1016 798,862 734,937 644,1030 644,1034 521,1149 674,1006 744,907 731,929 781,854 725,944 513,1151 702,987 658,1025 744,902 505,1156 500,1159 556,1134 692,985 646,1031 498,1160 642,1038 511,1153 717,955 651,1026 695,983 694,984 605,1077 794,865 557,1131 597,1085 577,1113 588,1093 755,906 753,915 571,1122 739,918 669,1010 600,1081 753,914 687,987 533,1145 691,983 578,1111 713,965 656,1027 559,1132 591,1093 669,1020 616,1061 509,1154 781,876 726,938 773,890 496,1162 649,1027 798,867 509,1154 626,1061 495,1162 573,1119 506,1156 673,1014 540,1141 653,1024 592,1093 600,1084 767,898 610,1067 717,966 516,1151 536,1142 762,906 706,969 776,875 689,989 610,1078 765,908 638,1048 765,907 631,1044 706,963 648,1040" fill="none" stroke="none" marker-start="url(#mb1)" marker-mid="url(#mb1)" marker-end="url(#mb1)"/>
<polyline points="736,942 716,976 677,1018 609,1079 495,1162 673,1024 564,1131 626,1062 786,898 786,891 768,906 770,894 571,1122 567,1129 713,969 582,1108 511,1154 552,1136 624,1064 638,1050 727,955 498,1160 767,903 725,952 718,968 709,964 666,1027 652,1039 658,1032 520,1150 499,1161 699,994 575,1117 760,914 628,1063 664,1029 573,1119 606,1080 765,908 537,1143 661,1032 660,1023 618,1066 697,988 731,950 759,926 497,1162 695,984 661,1023 628,1059 512,1151 710,984 629,1053 634,1045 659,1033 690,996 612,1073 562,1131 679,1011 762,910 524,1148 720,972 794,890 564,1131 694,981 625,1059 752,912 549,1138 599,1088 517,1151 713,967 724,945 572,1123 773,887 564,1133 656,1032 562,1133 783,884 697,990 764,909 535,1145 797,873 751,924 597,1088 787,887 670,1015 703,980 566,1128 673,1023 611,1081 770,892 783,881 766,889 796,889 712,973 519,1151 748,920 784,873 538,1142 627,1056 632,1059 686,998 624,1065 678,1018 649,1037 677,1018 674,1016 767,911 508,1153 650,1035 666,1028 562,1132 509,1155 726,958 647,1044 733,943 670,1025 511,1154 757,910 519,1150 730,937 778,899 560,1133 742,923 715,972 717,972 620,1061 537,1142 510,1153 645,1049 675,1016 513,1152 592,1094 597,1088 659,1030 697,994 571,1122 543,1140 548,1139 520,1150 751,928 798,888 751,927 777,894 549,1138 734,943 733,944 715,963 626,1061 738,941 496,1164 604,1082 743,920 592,1094 508,1155 543,1139 540,1142 672,1013 766,917 509,1154 786,888 649,1037 590,1098 718,963 620,1071 784,888 603,1078 704,984 496,1162 640,1045 534,1145 554,1135 721,964 497,1162 510,1153 508,1154 651,1038 760,923 556,1134 624,1067 672,1021 529,1147 550,1138 763,911 702,977 790,890 603,1082 781,877 709,974 574,1119 635,1048 623,1065 774,897 588,1103 629,1055 770,910 567,1130 766,907 623,1063 684,1012 528,1147 689,996 676,1007 749,921 501,1159 628,1056 668,1026 563,1131 794,889 750,914 611,1076 495,1163 594,1094 565,1130 586,1106 571,1122 633,1058 794,881 598,1087 696,983 588,1098 655,1037 585,1103 763,910 540,1142 562,1133 783,892 714,966 675,1022 690,998 734,944 535,1144 566,1127 613,1075 618,1074 737,918 685,992 784,894 784,871 749,925 634,1053 659,1030 505,1157 689,997 686,1009 693,995 614,1075 701,974 610,1079 712,963 517,1151 671,1020 631,1056 756,916 706,988 645,1040 565,1131 539,1142 529,1146 794,897 509,1155 576,1116 581,1108 739,936 506,1155 791,874 642,1042 660,1034 619,1071 556,1135 737,927 653,1033 739,934 529,1146 529,1144 790,884 508,1154 550,1138 642,1050 600,1085 639,1055 497,1161 586,1101 514,1153 663,1030 767,904 723,942 740,933 654,1028 769,901 664,1029 640,1048 689,992 671,1021 704,976 558,1135 531,1145 658,1032 507,1155 643,1047 706,982 655,1036 708,976 658,1030 723,949 779,884 666,1025 596,1088 727,940 590,1099 643,1051 536,1143 533,1144 732,947 587,1102 585,1102 704,988 695,991 702,983 639,1050 736,935 732,946 585,1104 580,1113 631,1054 776,893 672,1010 537,1142 541,1141 681,1012 713,974 767,912 640,1048 718,959 556,1136 746,922 523,1149 613,1074 677,1021 648,1043 545,1140 593,1097 510,1152 770,909 494,1163 591,1097 541,1140 572,1121 515,1152 627,1060 672,1016 762,910 656,1029 639,1048 568,1128 722,962 756,932 598,1089 613,1078 502,1157 769,907 665,1027 608,1080 751,919 512,1151 731,949 620,1063 709,967 576,1116 612,1071 726,953" fill="none" stroke="none" marker-start="url(#mb2)" marker-mid="url(#mb2)" marker-end="url(#mb2)"/>
<polyline points="570,1125 697,991 726,953 695,996 681,1016 577,1115 797,893 791,896 715,982 605,1081 692,1007 786,888 742,942 774,894 743,939 695,1000 786,885 688,1006 755,921 696,1001 774,912 612,1082 518,1151 629,1066 576,1117 786,903 566,1129 675,1026 539,1143 623,1067 625,1066 585,1108 561,1134 788,898 695,1004 673,1026 662,1031 599,1090 766,921 521,1150 579,1113 584,1109 787,890 646,1049 583,1111 592,1099 676,1023 636,1052 660,1040 555,1135 617,1074 607,1086 593,1096 709,984 578,1115 558,1134 680,1015 653,1045 551,1139 595,1098 727,961 574,1118 666,1031 706,991 624,1063 502,1159 506,1156 609,1082 763,910 541,1142 724,969 607,1084 592,1099 695,997 711,988 751,932 586,1102 529,1147 510,1154 657,1040 750,932 791,881 729,958 621,1073 556,1136 500,1160 721,973 509,1154 691,993 546,1139 639,1056 720,974 740,945 785,896 768,911 753,927 728,968 632,1062 644,1053 509,1154 543,1140 679,1019 615,1080 539,1143 634,1058 782,906 612,1079 498,1161 697,992 725,961 761,918 617,1075 605,1086 602,1090 589,1102 571,1123 764,922 605,1088 652,1040 693,1002 663,1033 605,1085 515,1150 744,941 581,1113 690,1004 630,1068 500,1159 630,1061 550,1138 756,930 730,948 771,919 635,1056 584,1105 499,1160 768,920 772,911 707,981 688,1007 590,1097 633,1059 730,950 591,1097 494,1164 637,1055 679,1026 617,1075 536,1143 606,1082 710,993 605,1084 547,1140 795,877 648,1040 581,1110 596,1094 679,1021 553,1137 560,1133 784,900 592,1101 565,1131 673,1025 780,899 565,1131 697,999 494,1161 759,931 771,914 609,1082 529,1147 645,1048 636,1058 701,993 642,1051 676,1021 554,1137 624,1067 786,897 775,905 761,920 654,1039 787,894 650,1051 626,1069 503,1157 769,916 576,1118 740,932 527,1146 785,894 545,1139 762,924 525,1148 575,1117 771,918 573,1121 676,1024 541,1141 625,1062 760,905 793,894 608,1082 734,951 567,1130 762,923 556,1134 600,1089 722,971 595,1093 650,1044 650,1051 751,923 575,1120 637,1059 793,894 772,905 668,1035 640,1058 716,980 694,994 605,1085 768,919 553,1136 696,998 641,1055 642,1050 530,1145 567,1129 499,1159 770,913 606,1088 719,959 504,1156 528,1146 723,969 518,1150 511,1155 677,1017 765,924 598,1091 794,899 779,898 608,1084 569,1126 786,901 609,1084 550,1138 643,1053 796,898 669,1034 537,1144 506,1155 693,988 654,1040 514,1151 562,1133 661,1037 573,1124 547,1139 751,930 530,1146 603,1084 790,899 678,1017 560,1133 789,893 560,1132 496,1162 727,970 599,1094 792,916 781,902 616,1076 736,954 646,1043 626,1066 782,906 688,1011 798,894 750,937 791,895 499,1159 539,1142 538,1142 654,1042 791,894 654,1039 629,1060 645,1051 554,1137 708,984 520,1149 521,1150 584,1107 583,1110 758,916 790,896 716,974 623,1076 764,909 569,1127 780,906 495,1163 636,1062 547,1137 652,1037 568,1127 493,1164 787,893 657,1034 543,1142 722,974 621,1071 776,903 760,927 769,912 567,1129 643,1056 496,1161 504,1156 770,913 637,1062 690,1005 504,1157" fill="none" stroke="none" marker-start="url(#mb3)" marker-mid="url(#mb3)" marker-end="url(#mb3)"/>
<polyline points="589,1105 734,955 674,1031 729,966 699,1004 529,1147 505,1156 579,1114 566,1130 618,1076 696,1006 715,981 679,1023 570,1125 624,1075 529,1148 789,915 709,984 588,1104 519,1148 644,1054 642,1054 518,1151 733,955 623,1072 774,923 530,1146 572,1125 709,978 765,922 767,925 662,1041 646,1053 630,1066 499,1160 715,986 599,1094 659,1043 554,1137 636,1062 495,1162 521,1150 793,900 684,1019 633,1064 715,980 570,1124 512,1153 785,910 532,1146 787,898 591,1099 524,1148 631,1070 604,1087 773,909 708,993 798,895 660,1044 572,1124 758,939 522,1150 503,1157 501,1157 553,1137 767,922 775,909 622,1074 583,1112 654,1042 738,966 691,1009 687,1012 739,959 695,999 512,1152 630,1063 520,1149 572,1123 781,912 750,944 554,1136 735,958 620,1080 496,1162 639,1062 557,1135 705,1007 610,1080 553,1137 614,1085 648,1053 508,1155 726,976 510,1154 638,1062 611,1085 659,1046 796,901 603,1091 656,1043 617,1080 563,1133 529,1147 616,1081 626,1072 615,1080 715,990 508,1155 735,952 783,913 575,1119 764,931 616,1079 632,1069 581,1111 559,1134 556,1138 722,985 650,1050 641,1054 550,1138 664,1041 577,1118 595,1095 516,1152 524,1148 553,1137 783,908 558,1135 684,1021 724,977 769,919 612,1082 607,1087 684,1022 620,1073 758,947 779,914 598,1093 636,1065 790,907 739,960 784,918 673,1027 625,1074 663,1037 648,1054 514,1151 621,1078 783,903 501,1158 632,1073 780,912 573,1123 588,1103 619,1075 500,1159 581,1114 534,1145 527,1148 775,921 713,996 519,1150 648,1054 646,1053 511,1153 496,1161 716,986 498,1161 625,1073 779,916 693,1014 722,984 585,1108 796,908 531,1144 499,1160 699,1008 790,909 609,1083 494,1163 566,1131 672,1032 621,1075 521,1150 689,1014 579,1115 501,1158 725,980 594,1101 666,1036 688,1017 503,1157 747,945 712,989 788,907 579,1116 531,1144 631,1067 598,1094 538,1143 728,967 708,1003 519,1150 536,1143 529,1148 642,1061 611,1086 531,1147 537,1143 748,945 684,1015 621,1077 646,1050 685,1021 541,1142 583,1112 604,1087 690,1010 721,972 593,1101 711,988 616,1082 695,1008 691,1014 558,1135 622,1072 794,909 531,1145 656,1042 533,1147 793,903 717,986 712,1000 535,1146 520,1151 682,1019 571,1125 499,1159 757,940 511,1153 730,972 515,1152 728,962 527,1148 629,1072 511,1153 704,998 629,1070 658,1043 514,1152 706,995 504,1156 588,1107 739,960 506,1155 569,1126 688,1013 650,1046 519,1150 688,1017 780,919 646,1058 685,1015" fill="none" stroke="none" marker-start="url(#mb4)" marker-mid="url(#mb4)" marker-end="url(#mb4)"/>
<polyline points="627,1074 564,1132 542,1142 710,1001 591,1103 596,1100 550,1139 509,1154 683,1018 509,1154 517,1151 560,1134 763,941 503,1158 704,1009 669,1038 642,1058 567,1131 735,961 704,999 542,1143 494,1162 697,1006 533,1146 547,1140 785,906 631,1070 791,913 678,1022 776,925 526,1146 524,1148 500,1160 578,1118 568,1129 775,923 537,1145 716,994 512,1152 643,1060 537,1143 736,968 715,993 731,972 606,1090 596,1101 675,1033 576,1119 706,1004 498,1160 737,962 652,1051 692,1017 638,1068 521,1149 663,1043 593,1103 544,1142 729,974 638,1068 748,948 684,1023 744,955 559,1134 675,1034 545,1141 628,1074 587,1109 624,1076 791,909 600,1093 650,1055 713,996 751,945 535,1145 742,959 559,1136 589,1107 579,1115 717,991 535,1146 625,1076 642,1061 708,1005 605,1090 793,916 556,1137 683,1027 737,959 638,1065 505,1157 795,917 659,1046 620,1079 499,1161 736,966 502,1158 499,1160 596,1098 529,1148 731,974 636,1068 795,901 740,956 741,957 708,998 732,967 641,1062 749,951 715,995 726,977 794,913 657,1048 545,1141 519,1150 557,1137 723,983 722,985 703,1007 773,916 647,1059 640,1061 794,917 689,1017 757,941 643,1062 644,1063 767,935 730,974 762,941 633,1071 543,1141 596,1099 702,1008 787,917 647,1059 687,1015 786,917 511,1152 688,1020 671,1040 731,974 731,966 778,922 679,1028 705,1003 623,1079 503,1157 532,1146 598,1099 694,1013 593,1101 733,966 679,1029 560,1134 568,1128 550,1137 657,1046 729,977 744,958 700,1010 634,1070 794,912 636,1070 724,982 659,1048 620,1078 661,1046 679,1027 575,1119 524,1148 794,915 585,1109 566,1132 638,1067 484,1176 558,1147 557,1148 498,1165 537,1154 596,1105 612,1100 637,1083 615,1099 599,1107 524,1156 581,1133 510,1162 635,1076 622,1090 568,1146 611,1096 491,1170 528,1158 556,1153 639,1080 520,1164 570,1134 629,1079 492,1173 530,1154 603,1107 523,1159 548,1160 622,1091 525,1159 597,1113 519,1163 568,1141 573,1132 497,1168 525,1159 583,1126 573,1138 530,1156 628,1083 492,1169 636,1079 504,1167 591,1124 515,1165 521,1164 566,1137 617,1094 496,1169 585,1120 635,1081 510,1164 593,1111 520,1165 505,1168 602,1099 618,1096 497,1170 521,1161 589,1126 489,1173 633,1078 624,1092 548,1144 620,1095 580,1125 565,1144 539,1152 484,1175 521,1162 618,1099 549,1145 516,1162 488,1173 592,1110 558,1147 607,1098 581,1136 533,1161 516,1164 585,1129" fill="none" stroke="none" marker-start="url(#mb5)" marker-mid="url(#mb5)" marker-end="url(#mb5)"/>
<polyline points="650,1055 644,1062 574,1121 741,962 754,949 580,1115 591,1105 573,1122 702,1006 653,1053 682,1027 645,1061 512,1152 529,1146 737,967 501,1157 734,971 766,934 599,1117 568,1158 529,1174 499,1173 538,1162 599,1124 496,1176 630,1101 494,1181 539,1176 617,1103 489,1184 605,1117 522,1169 556,1166 514,1172 606,1118 497,1176 569,1175 541,1173 531,1177 509,1176 633,1091 577,1172 634,1090 540,1166 556,1163 589,1138 626,1102 535,1169 537,1176 609,1121 640,1086 562,1172 569,1156 518,1175 488,1182 529,1173 487,1179 503,1175 545,1175 520,1172 558,1158 590,1140 527,1170 597,1123 557,1171 500,1172 601,1129 578,1170 500,1175 632,1092 519,1168 485,1179 628,1099 614,1104 610,1118 553,1159 534,1165 513,1173 618,1108 509,1167 625,1096 586,1144 522,1172 500,1175 627,1097 578,1145 541,1162 599,1117 605,1119 571,1158 608,1121 508,1177 620,1101 607,1110 626,1102 527,1167 493,1180 600,1122 541,1162 567,1175 552,1172 580,1154 512,1179 628,1100 590,1130 526,1173 636,1086 545,1160 503,1181 627,1100 592,1122 533,1171 593,1123 488,1177 633,1094 544,1170 495,1178 619,1106 516,1170 533,1176 547,1165 600,1124 489,1182 524,1171 502,1178 490,1178 499,1181 631,1097 610,1105 489,1178 525,1177 550,1177 576,1169" fill="none" stroke="none" marker-start="url(#mb6)" marker-mid="url(#mb6)" marker-end="url(#mb6)"/>
<polyline points="732,974 748,955 798,918 790,904 754,950 787,919 753,950 775,930" fill="none" stroke="none" marker-start="url(#mb7)" marker-mid="url(#mb7)" marker-end="url(#mb7)"/>
<polyline points="794,904 768,928 732,976 745,961 734,972 720,989 709,1004 759,942 763,937 771,932 796,908 744,960 702,1010 748,955 703,1007 765,934 710,1001 718,993 711,1002 718,994 776,922 794,894 766,933 733,972 792,903 772,927 781,916 773,928 797,897 752,951 705,1007 775,928 732,973 753,949 728,978 710,999 722,989 797,907 744,959 701,1010 708,1002 709,1005 708,1003 712,1000 759,944 715,996 757,947 732,973 781,922 701,1011 705,1004 742,961 704,1007 774,921 780,920 751,953 734,972 731,975 723,987 765,939 705,1006 769,932 747,956 788,914 750,952 733,972 706,1008 793,897 732,974 718,991 722,985 787,908 784,914 780,917 768,926 792,902 713,998 790,910 747,955 780,912 722,988 762,937 786,907 703,1009 754,949 776,927 721,988 724,984 718,992 742,962 778,924 746,956 798,901 758,948 788,915 730,977 769,925 768,931 757,948 721,989 725,984 796,893 734,971 761,939 792,905 750,953 780,916 777,917 707,1004 771,932 705,1007 716,994 716,993 692,1062 676,1071 704,1056 743,1027 749,1020 722,1042 767,1017 698,1068 741,1028 762,1010 698,1057 704,1058 679,1075 699,1065 752,1017 743,1027 788,995 663,1079 774,1013 716,1049 743,1029 703,1054 785,999 710,1057 783,1005 673,1072 773,1008 680,1065 741,1035 681,1071 665,1080 760,1024 679,1075 788,998 745,1028 732,1036 673,1078 697,1063 759,1014 779,1009 731,1037 742,1036 681,1064 747,1020 770,1004 743,1026 781,1002 682,1065 736,1036 797,992 714,1055 723,1042 695,1069 707,1056 692,1062 699,1058 733,1037 787,1003 685,1073 691,1064 689,1071 713,1045 736,1036 767,1008 673,1072 680,1074 794,993 749,1026 660,1085 765,1013 712,1051 678,1075 679,1075 663,1085 708,1058 693,1067 678,1072 766,1008 712,1052 731,1042 791,994 678,1068 666,1081 745,1022 758,1013 772,1008 750,1021 777,1009 754,1019 667,1074 785,1002 792,997 775,1006 701,1058 697,1068 783,1006 716,1048 671,1073 706,1061 717,1050 719,1050 740,1034 758,1018 791,999 693,1061 706,1063 706,1059 792,990 671,1069 756,1016 768,1013 729,1043 661,1080 678,1073 759,1020 722,1045 788,994 672,1072 720,1046 794,992 682,1072 711,1047 678,1068 736,1036 703,1058 682,1065 769,1013 782,998 728,1039 759,1013 780,999 734,1041 707,1054 680,1073 733,1034 735,1031 759,1012 794,999 755,1027 746,1025 663,1076 679,1072 764,1020 759,1015 790,993 713,1049 697,1060 676,1075 788,996 751,1023 680,1068 699,1063 790,1001 749,1030 694,1058 709,1059 731,1034 699,1061 775,1009 695,1060 692,1066 695,1068 793,989 730,1040 735,1040 702,1064 715,1050 678,1070 734,1031 745,1029 784,1006 795,991 767,1015 697,1069 675,1079 709,1056 747,1029 771,1015 701,1060 715,1044 687,1070 786,998 770,1011 783,1004 774,1008 700,1064 786,1001 706,1058 769,1016 777,1004 769,1007 749,1025 677,1073 717,1051 702,1054 688,1064 725,1046 787,1004 683,1067 796,992 752,1024 704,1056 701,1066 762,1021 782,998 696,1060 767,1013 682,1075 791,993 734,1034 693,1063 750,1024 751,1030 795,996 708,1058 763,1015 739,1027 723,1041 711,1049 692,1071 724,1042 773,1015 704,1059 700,1064 751,1020 709,1058 768,1016 751,1030 732,1041 666,1081 732,1035 666,1073 764,1015 680,1071 702,1057 715,1047 791,998 747,1027 743,1026 691,1071 664,1074 725,1036 669,1071 678,1068 731,1035 710,1055 766,1007 789,993 776,1003 736,1031 689,1067 700,1064 794,996 673,1108 669,1132 690,1090 710,1075" fill="none" stroke="none" marker-start="url(#mb8)" marker-mid="url(#mb8)" marker-end="url(#mb8)"/>
<polyline points="743,960 714,998 782,915 733,974 702,1008 770,925 710,1002 756,949 798,917 758,942 713,996 702,1008 786,920" fill="none" stroke="none" marker-start="url(#mb9)" marker-mid="url(#mb9)" marker-end="url(#mb9)"/>
<polyline points="784,1029 768,1010 783,1021 792,1041 776,993 790,997 792,1026 794,1034 770,1040 787,1012 764,998 768,998 796,1001 766,1046 768,1043 780,998 779,1037 796,1021 766,1029 782,1027 764,998 793,1010 766,994 779,1044 780,1024 786,1045 767,1022 776,1042 775,1017 768,997 787,1023 790,1007 787,1013 779,1045 794,1008 776,1012 787,1000 769,1002 764,1013 768,1008 772,1063 764,1086 760,1137" fill="none" stroke="none" marker-start="url(#mb12)" marker-mid="url(#mb12)" marker-end="url(#mb12)"/>
<polyline points="700,1017 734,1002 672,1061 532,1153 607,1112 632,1079 608,1096 624,1092 681,1040 798,944 647,1065 584,1133 727,994 595,1121 655,1058 619,1086 598,1112 558,1145 630,1080 680,1055 785,986 555,1145 699,1048 693,1026 704,1035 784,949 626,1089 678,1044 765,1001 528,1159 536,1150 732,1005 768,991 576,1135 551,1143 597,1111 650,1076 689,1031 613,1103 731,996 501,1171 655,1065 532,1153 491,1174 593,1109 749,996 667,1053 654,1064 567,1143 526,1160 785,943 670,1057 511,1166 664,1056 786,970 665,1049 674,1056 629,1086 581,1134 517,1156 752,984 711,1006 709,1010 747,968 639,1080 593,1110 500,1167 678,1050 655,1067 799,933 730,990 488,1176 507,1165 516,1158 694,1033 594,1112 552,1150 597,1123 644,1072 659,1056 602,1118 594,1120 761,970 650,1077 622,1091 770,978 486,1173 523,1154 524,1153 667,1062 594,1123 697,1039 577,1130 763,967 785,981 604,1105 549,1150 566,1149 626,1083 547,1154 617,1093 603,1109 722,994 739,997 587,1117 757,984 597,1105 574,1142 595,1122 585,1132 657,1069 517,1159 620,1085 693,1027 523,1158 684,1047 641,1076 720,1025 596,1111 752,1003 788,948 655,1064 790,983 730,1004 777,967 488,1174 634,1085 557,1142 641,1079 640,1079 540,1157 616,1108 577,1127 591,1126 771,988 708,1030 664,1049 757,989 624,1093 769,942 490,1174 668,1062 736,978 549,1149 568,1141 570,1141 527,1157 747,968 747,994 777,935 696,1048 563,1149 520,1165 666,1056 527,1158 642,1076 774,993 500,1167 607,1105 610,1105 587,1117 782,988 788,956 558,1145 601,1107 487,1172 545,1149 626,1085 494,1170 755,1003 660,1066 597,1116 652,1077 571,1144 769,972 607,1096 648,1068 591,1112 731,999 776,984 599,1103 789,938 629,1091 518,1160 722,1006 786,973 713,1037 572,1141 748,966 672,1044 760,981 659,1070 726,1020 663,1061 774,967 544,1145 779,990 532,1158 694,1040 488,1178 651,1071 559,1149 586,1117 510,1167 733,1013 681,1056 682,1047 630,1088 747,972 711,1028 600,1110 642,1078 517,1164 623,1096 534,1153 694,1048 691,1047 646,1078 753,1002 596,1120 532,1153 689,1024 657,1067 682,1036 605,1104 759,991 716,1013 703,1041 639,1086 622,1084 786,944 577,1140 713,1019 798,951 696,1037 595,1117 504,1166 691,1031 753,992 552,1149 585,1134 528,1159 657,1066 743,992 702,1050 563,1146 708,1043 559,1149 609,1113 509,1157 752,962 718,1007 752,981 673,1057 647,1066 577,1143 684,1038 565,1148 741,988 492,1171 525,1157 636,1083 514,1167 665,1060 493,1176 572,1132 551,1148 631,1081 733,1009 710,1040 494,1171 644,1076 538,1149 616,1099 638,1071 661,1066 512,1158 739,980 678,1056 601,1122 735,1003 743,988 506,1162 561,1140 576,1132 782,928 536,1153 772,966 491,1178 688,1036 581,1126 492,1177 681,1058 521,1158 542,1155 707,1034 553,1144 573,1135 551,1150 688,1033 575,1126 575,1135 675,1054 519,1163 750,980 733,999 792,936 532,1152 680,1038 552,1154 743,970 777,959 572,1135 776,941 688,1045 753,978 672,1050 587,1126 785,960 667,1049 632,1090 657,1069 556,1152 534,1154 523,1155 552,1150 796,962 605,1112 650,1063 494,1171 673,1059 665,1059 572,1130 548,1148 708,1028 634,1082 596,1115 621,1097 634,1079 655,1070 575,1132 633,1081 792,971 491,1171 757,955 652,1075 782,929 537,1151 693,1052 670,1054 672,1045 555,1153 675,1052 691,1042 508,1162 680,1038 675,1059 504,1169 693,1022 575,1131 589,1130 674,1047 792,944 691,1047 757,980 688,1030 781,935 680,1038 683,1056 733,1009 692,1028 496,1169 625,1092 707,1022 561,1141 642,1076 519,1156 508,1161 692,1055 551,1146 577,1145 740,989 585,1125 610,1099 659,1072 732,1001 770,981 537,1149 756,985 528,1152 783,990 796,929 554,1146 509,1160 593,1120 625,1082 595,1123 592,1112 612,1103 778,949 570,1141 756,992 585,1134 722,1021 691,1049 744,970 649,1081 487,1174 655,1058 488,1175 636,1077 731,1009 547,1148 606,1102 581,1141 686,1056 792,931 674,1044 770,991 562,1144 671,1050 605,1100 707,1043 490,1171 624,1086 738,994 678,1053 616,1099 658,1058 569,1148 694,1042 660,1060 786,940 537,1148 681,1046 777,974 686,1041 547,1152 549,1153 665,1050 493,1171 695,1028 551,1149 795,956 724,997 594,1119 643,1069 710,1016 692,1030 570,1140 719,1034 509,1166 610,1102 731,997 495,1172 701,1050 485,1180 536,1154 519,1162 782,934 501,1173 505,1164 656,1056 751,959 656,1070 625,1098 566,1146 486,1173 600,1119 780,933 563,1143 706,1035 581,1121 616,1105 684,1057 564,1145 644,1072 508,1161 572,1134 606,1100 675,1052 525,1152 492,1171 681,1056 769,1000 658,1073 631,1092 581,1124 563,1140 686,1035 762,990 774,972 636,1077 738,971 659,1053 514,1158 605,1112 599,1118 656,1067 692,1023 606,1114 756,976 729,1002 611,1112 623,1100 591,1118 530,1156 764,965 794,969 615,1090 525,1159 631,1085 762,999 654,1072 537,1154 677,1060 766,966 533,1155 795,941 638,1084 570,1132 703,1024 599,1120 556,1151 550,1145 525,1160 740,1003 577,1125 516,1156 576,1126 605,1118 559,1149 636,1084 764,970 563,1147 727,994 623,1081 566,1136 795,966 593,1118 548,1148 568,1134 786,929 661,1072 673,1055 652,1063 625,1082 662,1060 552,1151 760,1005 500,1166 744,1012 531,1157 547,1148 717,1036 672,1058 779,934 600,1116 707,1018 755,1005 724,1029 780,964 522,1156 730,998 757,1001 682,1049 677,1053 560,1143 555,1149 578,1125 732,1003 640,1087 657,1060 709,1026 564,1144 631,1085 764,948 663,1052 683,1056 751,987 595,1111 707,1013 735,1004 577,1125 739,1015 775,996 708,1012 641,1084 750,1006 648,1064 716,1012 544,1154 694,1051 637,1074 499,1163 773,962 578,1127 688,1055 797,940 599,1106 657,1062 702,1039 709,1013 640,1070 691,1023 560,1147 663,1058 648,1075 777,957 705,1034 736,1020 691,1023 538,1150 614,1106 545,1146 691,1052 690,1042 786,931 580,1132 508,1168 673,1050 636,1080 752,980 630,1083 633,1085 547,1147 761,1003 597,1112 671,1054 585,1120 538,1153 514,1167 612,1097 723,1004 490,1178 578,1139 600,1110 484,1183 536,1157 575,1136 524,1162 492,1175 598,1103 670,1065 761,990 489,1174 541,1149 791,976 696,1040 640,1083 615,1104 580,1132 544,1147 556,1144 780,931 647,1073 708,1043 659,1057 657,1064 704,1038 530,1157 741,994 586,1128 586,1122 655,1073 671,1055 584,1127 492,1173 551,1148 642,1081 774,942 719,1015 572,1144 757,972 673,1050 709,1034 652,1067 485,1180 711,1016 634,1078 659,1059 554,1150 753,1001 708,1037 771,966 689,1035 721,1009 690,1036 727,999 750,979 619,1101 724,1019 630,1080 676,1050 487,1176 585,1119 583,1128 532,1152 556,1141 689,1037 693,1040 618,1096 577,1139 621,1092 619,1092 629,1092 666,1055 575,1138 705,1044 723,994 592,1123 648,1075 747,960 722,1015 696,1028 669,1053 609,1102 709,1034 619,1092 615,1103 779,965 756,1002 701,1037 563,1140 752,980 599,1121 610,1096 566,1148 760,1006 767,999 569,1136 726,1011 546,1143 664,1059 590,1129 543,1149 775,995 728,999 715,1006 491,1172 625,1094 539,1159 707,1040 738,1004 583,1134 613,1100 503,1164 505,1165 568,1147 788,925 695,1035 658,1067 561,1151 626,1091 507,1163 711,1035 686,1031 528,1155 611,1099 788,966 722,995 554,1152 521,1165 722,1015 686,1042 642,1080 756,972 495,1167 572,1148 551,1152 573,1140 553,1144 588,1127 548,1148 582,1134 503,1169 725,1027 551,1151 638,1086 564,1146 606,1097 767,971 542,1157 735,992 610,1103 701,1049 668,1059 540,1154 740,992 492,1173 628,1079 566,1144 638,1079 749,1004 706,1020 500,1169 771,997 762,997 621,1089 752,972 616,1105 785,979 759,955 504,1164 522,1155 562,1141 491,1173 641,1075 782,975 635,1083 783,932 606,1095 640,1086 505,1165 523,1161 707,1027 759,971 584,1134 706,1014 672,1048 718,1025 677,1049 648,1069 543,1147 754,1000 675,1049 680,1050 524,1156 649,1074 684,1038 770,986 655,1063 751,1007 626,1093 698,1043 536,1149 608,1103 649,1066 725,1016 629,1094 524,1159 504,1163 704,1033 753,962 758,1005 643,1070 565,1146 773,956 580,1131 549,1148 497,1172 677,1058 690,1043 554,1145 711,1013 594,1121 617,1097 616,1105 660,1063 706,1017 592,1124 526,1155 571,1135 685,1043 614,1099 743,978 617,1102 695,1039 601,1107 714,1009 487,1173 726,1025 718,1025 737,983 498,1173 713,1037 514,1162 531,1153 757,955 494,1169 518,1157 537,1156 715,1023 698,1021 594,1116 691,1030 655,1067 674,1045 516,1165 698,1035 655,1068 797,980 766,986 525,1156 764,995 692,1045 741,971 724,992 539,1152 581,1139 610,1094 664,1062 642,1077 761,977 749,1000 643,1074 543,1153 699,1030 730,1023 674,1055 532,1157 675,1059 772,940 516,1159 767,975 553,1152 709,1025 514,1159 538,1152 504,1167 707,1020 553,1148 650,1069 687,1031 682,1053 507,1163 793,944 501,1163 765,978 775,973 564,1146 679,1053 720,1024 641,1084 623,1089 746,967 691,1039 619,1093 715,1008 600,1113 685,1054 497,1173 586,1128 526,1162 600,1120 756,964 574,1131 600,1121 640,1075 538,1150 792,928 763,950 607,1116 660,1062 644,1071 540,1151 631,1077 639,1087 537,1150 649,1064 512,1161 517,1159 596,1106 579,1128 706,1017 710,1012 491,1169 530,1153 650,1073 580,1134 556,1149 773,951 526,1153 706,1018 758,988 717,1012 586,1119 670,1053 755,969 741,986 597,1106 543,1153 600,1121 793,926 536,1154 576,1137 791,981 658,1065 539,1155 555,1146 668,1048 510,1164 708,1043 784,941 680,1037 677,1040 619,1105 609,1107 764,988 757,954 745,991 636,1090 650,1080 545,1153 735,1002 505,1163 546,1148 665,1057 531,1152 789,968 798,956 660,1057 507,1164 611,1109 608,1106 591,1122 705,1015 577,1124 539,1149 540,1155 795,955 577,1133 755,998 589,1119 577,1125 668,1063 654,1068 575,1130 486,1177 559,1150 708,1044 799,931 583,1125 745,993 718,1013 714,1037 561,1143 708,1020 507,1166 562,1142 609,1111 628,1087 563,1144 512,1158 574,1131 595,1111 531,1159 493,1171 704,1033 490,1175 657,1068 652,1073 753,970 565,1142 707,1012 564,1145 649,1065 607,1116 761,988 622,1087 487,1172 726,1009 701,1032 588,1126 512,1159 570,1138 536,1157 667,1063 605,1117 704,1021 577,1143 531,1157 648,1073 644,1085 617,1090 716,1018 539,1153 696,1041 704,1042 785,936 710,1026 537,1157 591,1119 654,1072 540,1149 497,1168 680,1047 530,1154 735,1004 674,1049 606,1113 758,1006 639,1080 505,1163 766,987 738,1001 606,1096 547,1154 570,1132 734,998 651,1061 744,972 500,1171 650,1074 543,1151 648,1068 529,1158 609,1107 522,1163 546,1152 765,1001 539,1151 572,1135 721,1025 572,1133 759,996 520,1163 750,956 689,1039 769,975 523,1164 487,1173 745,963 533,1156 766,956 614,1096 569,1143 695,1034 776,981 547,1154 791,982 600,1119 746,995 723,1021 650,1063 642,1077 743,981 608,1103 574,1136 583,1136 524,1160 556,1153 626,1091 710,1021 697,1045 625,1089 784,945 535,1155 564,1148 520,1155 771,981 739,1022 699,1044 656,1068 591,1123 674,1057 580,1131 684,1032 795,980 703,1030 601,1105 513,1159 710,1023 660,1065 735,1015 682,1050 585,1130 785,971 754,986 708,1017 503,1163 522,1163 724,1002 540,1156 552,1149 544,1154 585,1124 793,943 569,1145 799,959 595,1118 727,1021 673,1049 777,967 489,1174 792,974 607,1106 708,1036 668,1062 758,990 791,970 543,1150 523,1161 712,1020 658,1058 558,1146 540,1156 510,1167 661,1055 609,1103 500,1164 526,1154 736,1016 539,1155 528,1154 505,1162 615,1099 740,972 760,967 540,1152 719,1000 777,987 792,945 538,1153 776,978 520,1160 494,1169 697,1040 608,1114 649,1076 588,1125 512,1158 695,1043 595,1118 684,1055 776,938 526,1156 529,1160 587,1113 583,1132 696,1044 496,1173 770,957 775,959 742,982 792,951 683,1031 729,1023 578,1131 538,1157 556,1145 519,1159 781,931 759,993 663,1051 637,1075 565,1138 505,1162 756,955 678,1059 656,1061 696,1050 751,992 790,942 674,1053 651,1069 540,1158 492,1173 615,1105 619,1091 506,1161 651,1069 673,1062 487,1181 655,1061 544,1155 584,1117 738,982 674,1055 543,1150 701,1043 681,1040 564,1139 734,992 785,948 516,1164 645,1066 655,1071 638,1089 507,1166 681,1037 510,1164 655,1069 761,957 671,1052 552,1143 793,932 740,991 488,1173 559,1146 784,936 561,1141 772,981 727,1004 499,1167 630,1081 777,957 588,1114 789,986 580,1127 748,1001 584,1133 532,1155 501,1164 551,1153 624,1084 496,1173 751,967 558,1143 717,1022 624,1094 626,1081 790,974 716,1021 776,986 560,1145 539,1156 716,1022 538,1157 749,972 692,1034 489,1174 682,1045 758,971 519,1155 728,1016 703,1041 576,1144 670,1052 570,1145 595,1109 680,1037 698,1026 499,1165 743,977 598,1104 664,1058 535,1156 794,962 650,1069 697,1031 679,1058 575,1127 699,1033 583,1124 645,1077 794,955 701,1026 570,1143 497,1166 553,1144 636,1088 578,1122 685,1050 741,996 502,1168 654,1067 658,1065 517,1165 784,957 532,1151 587,1115 589,1116 665,1066 534,1154 710,1009 679,1046 633,1086 633,1088 726,1020 783,956 488,1175 792,924 790,956 594,1122 777,946 729,1010 795,979 781,930 557,1145 535,1156 538,1150 643,1075 769,992 767,970 742,1001 524,1161 622,1091 581,1134 603,1111 626,1097 618,1105 658,1060 670,1062 604,1104 787,960 737,983 633,1080 619,1098 602,1102 613,1104 715,1006 588,1129 727,992 519,1159 762,981 543,1153 513,1163 636,1078 573,1137 613,1103 741,1012 699,1019 512,1164 589,1125 539,1154 485,1178 557,1141 611,1106 588,1114 667,1048 742,1003 625,1091 755,958 768,953 668,1063 665,1064 587,1119 709,1017 521,1163 771,940 746,1000 629,1091 602,1115 494,1172 618,1099 774,966 640,1077 561,1148 523,1158 515,1161 513,1164 552,1149 496,1167 745,980 740,1002 515,1156 778,936 606,1097 525,1163 533,1154 664,1060 534,1159 597,1108 767,971 577,1128 687,1045 576,1140 532,1161 489,1179 696,1045 643,1074 793,977 502,1169 527,1157 755,957 548,1149 685,1043 594,1120 535,1153 678,1059 728,1025 536,1155 786,958 792,922 735,1012 508,1162 695,1040 639,1072 616,1088 615,1103 722,1020 592,1125 679,1042 754,983 779,949 642,1081 764,966 768,984 558,1148 514,1166 504,1161 673,1057 492,1172 545,1155 693,1032 713,1020 797,942 668,1053 713,1036 723,1030 554,1148 731,994 758,972 612,1109 689,1047 780,966 780,955 791,954 558,1143 726,1014 588,1115 669,1051 511,1163 661,1057 771,968 792,981 770,985 539,1148 639,1073 714,1026 648,1077 608,1099 631,1093 690,1041 722,992 581,1118 495,1171 558,1146 622,1088 771,948 606,1105 629,1088 784,960 783,964 573,1131 500,1165 655,1076 782,954 770,976 702,1019 568,1139 712,1024 613,1109 669,1055 568,1146 538,1154 606,1097 490,1178 486,1180 542,1151 795,936 741,988 682,1056 508,1161 525,1161 727,986 748,964 591,1123 534,1155 711,1017 525,1156 792,929 648,1081 709,1025 560,1148 626,1088 745,988 493,1172 711,1025 615,1103 619,1088 571,1141 526,1161 614,1093 658,1067 735,1010 755,1009 659,1062 789,968 782,971 551,1144 638,1077 721,1031 687,1054 587,1126 799,936 749,1008 594,1123 673,1054 490,1172 745,970 642,1084 623,1091 599,1108 573,1132 741,1012 524,1157 532,1160 575,1146 704,1024 531,1156 786,941 655,1069 583,1122 794,953 645,1076 648,1077 590,1116 562,1146 552,1149 646,1077 674,1045 583,1129 516,1161 612,1098 578,1141 583,1135 496,1169 669,1057 797,969 786,937 774,938 494,1176 550,1151 631,1079 730,983 781,977 527,1158 719,1019 495,1175 551,1153 531,1152 787,934 586,1130 531,1155 766,993 524,1160 617,1101 682,1045 509,1166 687,1047 717,1005 508,1163 582,1139 773,987 694,1038 695,1028 733,989 590,1121 559,1145 570,1142 595,1112 621,1100 671,1046 657,1059 543,1157 567,1141 506,1167 515,1167 747,972 542,1157 569,1147 510,1167 535,1149 735,976 569,1143 699,1051 783,939 687,1041 626,1098 598,1115 585,1126 597,1113 669,1045 787,938 498,1165 516,1160 617,1103 539,1153 793,958 747,1001 540,1153" fill="none" stroke="none" marker-start="url(#mb16)" marker-mid="url(#mb16)" marker-end="url(#mb16)"/>
</g>
<line x1="98.9" y1="674.9" x2="434.9" y2="674.9" stroke="#000" stroke-width="1.8"/>
<line x1="98.9" y1="1191.2" x2="434.9" y2="1191.2" stroke="#000" stroke-width="1.8"/>
<line x1="99.9" y1="674.9" x2="99.9" y2="1191.2" stroke="#000" stroke-width="1.8"/>
<line x1="433.9" y1="674.9" x2="433.9" y2="1191.2" stroke="#000" stroke-width="1.8"/>
<line x1="480.3" y1="674.9" x2="816.3" y2="674.9" stroke="#000" stroke-width="1.8"/>
<line x1="480.3" y1="1191.2" x2="816.3" y2="1191.2" stroke="#000" stroke-width="1.8"/>
<line x1="481.3" y1="674.9" x2="481.3" y2="1191.2" stroke="#000" stroke-width="1.8"/>
<line x1="815.3" y1="674.9" x2="815.3" y2="1191.2" stroke="#000" stroke-width="1.8"/>
<defs><linearGradient id="cbg" x1="0" y1="1" x2="0" y2="0">
<stop offset="0.0000" stop-color="#3b4cc0"/>
<stop offset="0.0625" stop-color="#4e68d8"/>
<stop offset="0.1250" stop-color="#6282ea"/>
<stop offset="0.1875" stop-color="#779af7"/>
<stop offset="0.2500" stop-color="#8db0fe"/>
<stop offset="0.3125" stop-color="#a3c2fe"/>
<stop offset="0.3750" stop-color="#b9d0f9"/>
<stop offset="0.4375" stop-color="#ccd9ed"/>
<stop offset="0.5000" stop-color="#dddcdc"/>
<stop offset="0.5625" stop-color="#ecd3c5"/>
<stop offset="0.6250" stop-color="#f5c4ac"/>
<stop offset="0.6875" stop-color="#f7b093"/>
<stop offset="0.7500" stop-color="#f4987a"/>
<stop offset="0.8125" stop-color="#eb7d62"/>
<stop offset="0.8750" stop-color="#dd5f4b"/>
<stop offset="0.9375" stop-color="#ca3b37"/>
<stop offset="1.0000" stop-color="#b40426"/>
</linearGradient></defs>
<rect x="862.1" y="674.6" width="33.5" height="516.3" fill="url(#cbg)" fill-opacity=".9" stroke="#000" stroke-width="1.7"/>
<text x="2.47" y="639.50" font-size="50.00" textLength="42.43" lengthAdjust="spacingAndGlyphs" font-weight="bold" fill="#000">b.</text>
<text x="47.00" y="687.50" font-size="35.69" textLength="33.33" lengthAdjust="spacingAndGlyphs" fill="#000">14</text>
<text x="63.95" y="945.65" font-size="35.69" textLength="17.07" lengthAdjust="spacingAndGlyphs" fill="#000">7</text>
<text x="63.57" y="1203.45" font-size="34.63" textLength="17.86" lengthAdjust="spacingAndGlyphs" fill="#000">0</text>
<text x="240.31" y="740.81" font-size="58.96" textLength="147.72" lengthAdjust="spacingAndGlyphs" fill="#000">300 K</text>
<text x="65.58" y="1233.95" font-size="34.78" textLength="69.48" lengthAdjust="spacingAndGlyphs" fill="#000">−0.2</text>
<text x="233.12" y="1233.95" font-size="34.78" textLength="68.07" lengthAdjust="spacingAndGlyphs" fill="#000">−0.1</text>
<text x="613.59" y="1233.95" font-size="34.78" textLength="69.14" lengthAdjust="spacingAndGlyphs" fill="#000">+0.1</text>
<text x="780.61" y="1233.95" font-size="34.78" textLength="68.74" lengthAdjust="spacingAndGlyphs" fill="#000">+0.2</text>
<text x="392.19" y="1233.20" font-size="34.62" textLength="26.74" lengthAdjust="spacingAndGlyphs" fill="#000">E</text>
<text x="418.50" y="1239.20" font-size="24.50" textLength="32.80" lengthAdjust="spacingAndGlyphs" fill="#000">v, 0</text>
<text x="461.97" y="1233.20" font-size="34.62" textLength="25.12" lengthAdjust="spacingAndGlyphs" fill="#000">E</text>
<text x="486.58" y="1239.20" font-size="24.50" textLength="33.12" lengthAdjust="spacingAndGlyphs" fill="#000">c, 0</text>
<text x="343.21" y="1301.20" font-size="32.30" textLength="179.49" lengthAdjust="spacingAndGlyphs" fill="#000">Energy (eV)</text>
<text transform="translate(29.09,1009.81) rotate(-90)" x="0" y="0" font-size="30.85" textLength="16.25" lengthAdjust="spacingAndGlyphs" font-style="italic" fill="#000">τ</text>
<text transform="translate(37.70,995.40) rotate(-90)" x="0" y="0" font-size="22.77" textLength="15.00" lengthAdjust="spacingAndGlyphs" font-style="italic" fill="#000">n</text>
<text transform="translate(37.70,980.61) rotate(-90)" x="0" y="0" font-size="23.62" textLength="11.53" lengthAdjust="spacingAndGlyphs" font-weight="bold" fill="#000">k</text>
<text transform="translate(16.60,975.36) rotate(-90)" x="0" y="0" font-size="23.92" textLength="11.43" lengthAdjust="spacingAndGlyphs" fill="#000">1</text>
<line x1="10.6" y1="977" x2="10.6" y2="990.8" stroke="#000" stroke-width="1.15"/>
<text transform="translate(29.70,948.69) rotate(-90)" x="0" y="0" font-size="35.00" textLength="90.47" lengthAdjust="spacingAndGlyphs" fill="#000">(meV)</text>
<text transform="translate(529.05,687.71) rotate(90)" x="0" y="0" font-size="44.65" textLength="104.83" lengthAdjust="spacingAndGlyphs" font-weight="bold" fill="#000">intra</text>
<text transform="translate(531.65,794.50) rotate(90)" x="0" y="0" font-size="40.22" textLength="106.55" lengthAdjust="spacingAndGlyphs" fill="#000">valley</text>
<text transform="translate(609.29,901.84) rotate(-90)" x="0" y="0" font-size="41.27" textLength="96.29" lengthAdjust="spacingAndGlyphs" font-weight="bold" fill="#000">inter</text>
<text transform="translate(609.05,803.50) rotate(-90)" x="0" y="0" font-size="40.22" textLength="115.86" lengthAdjust="spacingAndGlyphs" fill="#000">valley</text>
<text x="914.48" y="687.59" font-size="40.60" textLength="44.11" lengthAdjust="spacingAndGlyphs" fill="#000">2%</text>
<text x="913.45" y="945.13" font-size="36.57" textLength="45.17" lengthAdjust="spacingAndGlyphs" fill="#000">1%</text>
<text x="913.65" y="1203.14" font-size="35.82" textLength="44.96" lengthAdjust="spacingAndGlyphs" fill="#000">0%</text>
<text transform="translate(991.70,1105.10) rotate(-90)" x="0" y="0" font-size="34.50" textLength="288.81" lengthAdjust="spacingAndGlyphs" fill="#000">Longitudinal strain,</text>
<text transform="translate(991.67,805.44) rotate(-90)" x="0" y="0" font-size="32.92" textLength="14.59" lengthAdjust="spacingAndGlyphs" font-style="italic" fill="#000">ε</text>
<text transform="translate(997.80,788.82) rotate(-90)" x="0" y="0" font-size="25.22" textLength="24.94" lengthAdjust="spacingAndGlyphs" font-style="italic" fill="#000">xx</text>
</svg></body></html>
